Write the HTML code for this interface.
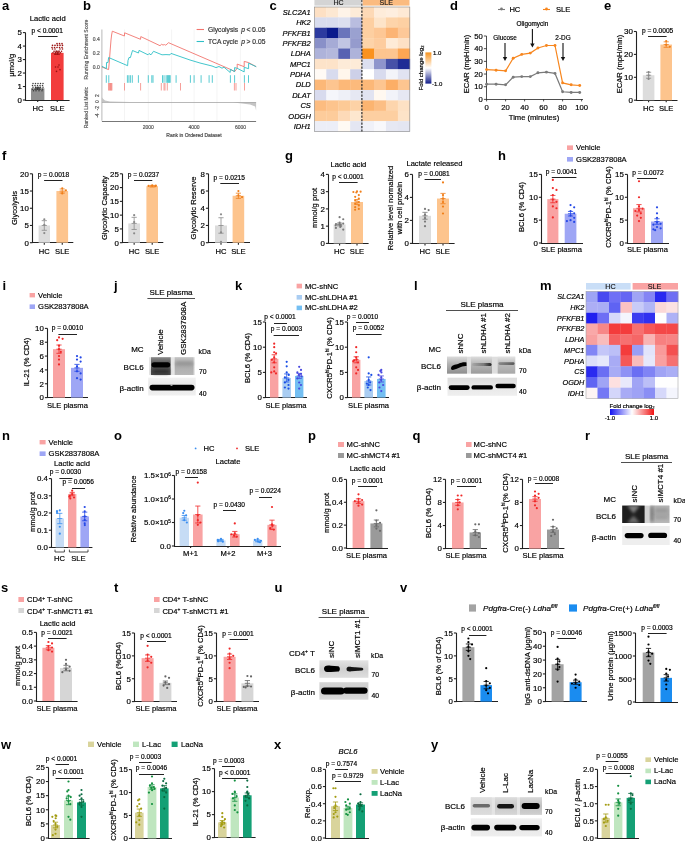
<!DOCTYPE html>
<html><head><meta charset="utf-8"><style>
html,body{margin:0;padding:0;background:#fff;width:685px;height:844px;overflow:hidden}
svg{display:block}
text{font-family:"Liberation Sans",sans-serif;}
svg{will-change:transform}
</style></head><body>
<svg width="685" height="844" viewBox="0 0 685 844">
<rect x="0" y="0" width="685" height="844" fill="#fff"/>
<defs><filter id="bl1" x="-30%" y="-80%" width="160%" height="260%"><feGaussianBlur stdDeviation="0.7"/></filter><filter id="bl2" x="-30%" y="-80%" width="160%" height="260%"><feGaussianBlur stdDeviation="1.5"/></filter><filter id="bl3" x="-30%" y="-80%" width="160%" height="260%"><feGaussianBlur stdDeviation="2.5"/></filter></defs>
<text x="2.00" y="10.00" font-size="13" text-anchor="start" font-weight="bold" >a</text>
<text x="47.70" y="21.00" font-size="7.6" text-anchor="middle" stroke="#000" stroke-width="0.18" >Lactic acid</text>
<line x1="25.50" y1="32.60" x2="25.50" y2="100.00" stroke="#222" stroke-width="1.1" />
<line x1="22.90" y1="100.00" x2="25.50" y2="100.00" stroke="#222" stroke-width="1.1" />
<text x="21.90" y="102.84" font-size="7.9" text-anchor="end" stroke="#000" stroke-width="0.18" >0</text>
<line x1="22.90" y1="86.52" x2="25.50" y2="86.52" stroke="#222" stroke-width="1.1" />
<text x="21.90" y="89.36" font-size="7.9" text-anchor="end" stroke="#000" stroke-width="0.18" >1</text>
<line x1="22.90" y1="73.04" x2="25.50" y2="73.04" stroke="#222" stroke-width="1.1" />
<text x="21.90" y="75.88" font-size="7.9" text-anchor="end" stroke="#000" stroke-width="0.18" >2</text>
<line x1="22.90" y1="59.56" x2="25.50" y2="59.56" stroke="#222" stroke-width="1.1" />
<text x="21.90" y="62.40" font-size="7.9" text-anchor="end" stroke="#000" stroke-width="0.18" >3</text>
<line x1="22.90" y1="46.08" x2="25.50" y2="46.08" stroke="#222" stroke-width="1.1" />
<text x="21.90" y="48.92" font-size="7.9" text-anchor="end" stroke="#000" stroke-width="0.18" >4</text>
<line x1="22.90" y1="32.60" x2="25.50" y2="32.60" stroke="#222" stroke-width="1.1" />
<text x="21.90" y="35.44" font-size="7.9" text-anchor="end" stroke="#000" stroke-width="0.18" >5</text>
<line x1="24.95" y1="100.50" x2="69.60" y2="100.50" stroke="#222" stroke-width="1.1" />
<line x1="37.70" y1="100.00" x2="37.70" y2="102.00" stroke="#222" stroke-width="1.1" />
<line x1="57.30" y1="100.00" x2="57.30" y2="102.00" stroke="#222" stroke-width="1.1" />
<rect x="31.00" y="88.27" width="13.40" height="11.73" fill="#8e8e8e" />
<rect x="51.00" y="52.82" width="12.60" height="47.18" fill="#f23c3c" />
<circle cx="33.00" cy="83.55" r="0.75" fill="#3a3a3a"/>
<circle cx="35.50" cy="83.55" r="0.75" fill="#3a3a3a"/>
<circle cx="38.00" cy="83.55" r="0.75" fill="#3a3a3a"/>
<circle cx="40.50" cy="83.55" r="0.75" fill="#3a3a3a"/>
<circle cx="43.00" cy="83.55" r="0.75" fill="#3a3a3a"/>
<circle cx="32.50" cy="85.44" r="0.75" fill="#3a3a3a"/>
<circle cx="35.00" cy="85.44" r="0.75" fill="#3a3a3a"/>
<circle cx="37.50" cy="85.44" r="0.75" fill="#3a3a3a"/>
<circle cx="40.00" cy="85.44" r="0.75" fill="#3a3a3a"/>
<circle cx="42.50" cy="85.44" r="0.75" fill="#3a3a3a"/>
<circle cx="33.00" cy="87.19" r="0.75" fill="#3a3a3a"/>
<circle cx="35.50" cy="87.19" r="0.75" fill="#3a3a3a"/>
<circle cx="38.00" cy="87.19" r="0.75" fill="#3a3a3a"/>
<circle cx="40.50" cy="87.19" r="0.75" fill="#3a3a3a"/>
<circle cx="43.00" cy="87.19" r="0.75" fill="#3a3a3a"/>
<circle cx="32.50" cy="89.22" r="0.75" fill="#3a3a3a"/>
<circle cx="35.00" cy="89.22" r="0.75" fill="#3a3a3a"/>
<circle cx="37.50" cy="89.22" r="0.75" fill="#3a3a3a"/>
<circle cx="40.00" cy="89.22" r="0.75" fill="#3a3a3a"/>
<circle cx="42.50" cy="89.22" r="0.75" fill="#3a3a3a"/>
<circle cx="33.50" cy="90.83" r="0.75" fill="#3a3a3a"/>
<circle cx="36.00" cy="90.83" r="0.75" fill="#3a3a3a"/>
<circle cx="39.00" cy="90.83" r="0.75" fill="#3a3a3a"/>
<circle cx="42.00" cy="90.83" r="0.75" fill="#3a3a3a"/>
<circle cx="57.00" cy="43.65" r="0.8" fill="#9a1010"/>
<circle cx="59.50" cy="43.65" r="0.8" fill="#9a1010"/>
<circle cx="62.00" cy="43.65" r="0.8" fill="#9a1010"/>
<circle cx="52.50" cy="45.41" r="0.8" fill="#9a1010"/>
<circle cx="55.00" cy="45.41" r="0.8" fill="#9a1010"/>
<circle cx="57.50" cy="45.41" r="0.8" fill="#9a1010"/>
<circle cx="60.00" cy="45.41" r="0.8" fill="#9a1010"/>
<circle cx="62.50" cy="45.41" r="0.8" fill="#9a1010"/>
<circle cx="52.00" cy="47.43" r="0.8" fill="#9a1010"/>
<circle cx="54.50" cy="47.43" r="0.8" fill="#9a1010"/>
<circle cx="57.00" cy="47.43" r="0.8" fill="#9a1010"/>
<circle cx="59.50" cy="47.43" r="0.8" fill="#9a1010"/>
<circle cx="62.00" cy="47.43" r="0.8" fill="#9a1010"/>
<circle cx="52.50" cy="49.05" r="0.8" fill="#9a1010"/>
<circle cx="55.00" cy="49.05" r="0.8" fill="#9a1010"/>
<circle cx="60.00" cy="49.05" r="0.8" fill="#9a1010"/>
<circle cx="62.50" cy="49.05" r="0.8" fill="#9a1010"/>
<circle cx="54.00" cy="51.20" r="0.8" fill="#9a1010"/>
<circle cx="56.50" cy="51.20" r="0.8" fill="#9a1010"/>
<circle cx="59.00" cy="51.20" r="0.8" fill="#9a1010"/>
<circle cx="61.50" cy="51.20" r="0.8" fill="#9a1010"/>
<circle cx="53.00" cy="52.82" r="0.8" fill="#9a1010"/>
<circle cx="55.50" cy="52.82" r="0.8" fill="#9a1010"/>
<circle cx="58.00" cy="52.82" r="0.8" fill="#9a1010"/>
<circle cx="60.50" cy="52.82" r="0.8" fill="#9a1010"/>
<circle cx="55.00" cy="54.17" r="0.8" fill="#9a1010"/>
<circle cx="57.50" cy="54.17" r="0.8" fill="#9a1010"/>
<circle cx="59.00" cy="64.95" r="0.8" fill="#9a1010"/>
<circle cx="55.50" cy="66.97" r="0.8" fill="#9a1010"/>
<circle cx="58.00" cy="66.97" r="0.8" fill="#9a1010"/>
<circle cx="60.00" cy="69.67" r="0.8" fill="#9a1010"/>
<circle cx="56.50" cy="71.42" r="0.8" fill="#9a1010"/>
<line x1="37.70" y1="87.33" x2="37.70" y2="89.22" stroke="#333" stroke-width="0.8" />
<line x1="35.10" y1="87.33" x2="40.30" y2="87.33" stroke="#333" stroke-width="0.8" />
<line x1="35.10" y1="89.22" x2="40.30" y2="89.22" stroke="#333" stroke-width="0.8" />
<line x1="35.10" y1="88.27" x2="40.30" y2="88.27" stroke="#333" stroke-width="0.8" />
<line x1="57.30" y1="51.20" x2="57.30" y2="54.44" stroke="#9a1010" stroke-width="0.8" />
<line x1="54.70" y1="51.20" x2="59.90" y2="51.20" stroke="#9a1010" stroke-width="0.8" />
<line x1="54.70" y1="54.44" x2="59.90" y2="54.44" stroke="#9a1010" stroke-width="0.8" />
<line x1="54.70" y1="52.82" x2="59.90" y2="52.82" stroke="#9a1010" stroke-width="0.8" />
<line x1="38.00" y1="36.50" x2="57.60" y2="36.50" stroke="#222" stroke-width="1.05" />
<text x="47.20" y="33.00" font-size="6.6" text-anchor="middle" stroke="#000" stroke-width="0.18" >p &lt; 0.0001</text>
<text x="38.00" y="111.00" font-size="7.6" text-anchor="middle" stroke="#000" stroke-width="0.18" >HC</text>
<text x="57.30" y="111.00" font-size="7.6" text-anchor="middle" stroke="#000" stroke-width="0.18" >SLE</text>
<text transform="translate(13.64,65.20) rotate(-90)" font-size="7.6" text-anchor="middle" stroke="#000" stroke-width="0.18" >μmol/g</text>
<text x="83.00" y="10.00" font-size="13" text-anchor="start" font-weight="bold" >b</text>
<line x1="124.50" y1="29.50" x2="124.50" y2="120.70" stroke="#ececec" stroke-width="0.6" />
<line x1="148.30" y1="29.50" x2="148.30" y2="120.70" stroke="#ececec" stroke-width="0.6" />
<line x1="171.60" y1="29.50" x2="171.60" y2="120.70" stroke="#ececec" stroke-width="0.6" />
<line x1="194.10" y1="29.50" x2="194.10" y2="120.70" stroke="#ececec" stroke-width="0.6" />
<line x1="217.00" y1="29.50" x2="217.00" y2="120.70" stroke="#ececec" stroke-width="0.6" />
<line x1="240.40" y1="29.50" x2="240.40" y2="120.70" stroke="#ececec" stroke-width="0.6" />
<line x1="101.90" y1="29.50" x2="101.90" y2="120.70" stroke="#9a9a9a" stroke-width="0.7" />
<line x1="101.90" y1="121.50" x2="256.10" y2="121.50" stroke="#777" stroke-width="1.0" />
<text x="99.70" y="41.20" font-size="5.0" text-anchor="end" stroke="#555" stroke-width="0.18" fill="#555" >0.4</text>
<text x="99.70" y="55.10" font-size="5.0" text-anchor="end" stroke="#555" stroke-width="0.18" fill="#555" >0.2</text>
<text x="99.70" y="68.80" font-size="5.0" text-anchor="end" stroke="#555" stroke-width="0.18" fill="#555" >0.0</text>
<text transform="translate(98.60,95.60) rotate(-90)" font-size="5.0" text-anchor="middle" stroke="#555" stroke-width="0.18" fill="#555" >2</text>
<text transform="translate(98.60,101.50) rotate(-90)" font-size="5.0" text-anchor="middle" stroke="#555" stroke-width="0.18" fill="#555" >0</text>
<text transform="translate(98.60,108.30) rotate(-90)" font-size="5.0" text-anchor="middle" stroke="#555" stroke-width="0.18" fill="#555" >-2</text>
<text transform="translate(98.60,115.60) rotate(-90)" font-size="5.0" text-anchor="middle" stroke="#555" stroke-width="0.18" fill="#555" >-4</text>
<text transform="translate(87.60,49.50) rotate(-90)" font-size="5.0" text-anchor="middle" stroke="#555" stroke-width="0.18" fill="#555" >Running Enrichment Score</text>
<text transform="translate(87.60,107.60) rotate(-90)" font-size="5.0" text-anchor="middle" stroke="#555" stroke-width="0.18" fill="#555" >Ranked List Metric</text>
<text x="148.30" y="128.80" font-size="5.0" text-anchor="middle" stroke="#555" stroke-width="0.18" fill="#555" >2000</text>
<text x="194.10" y="128.80" font-size="5.0" text-anchor="middle" stroke="#555" stroke-width="0.18" fill="#555" >4000</text>
<text x="240.60" y="128.80" font-size="5.0" text-anchor="middle" stroke="#555" stroke-width="0.18" fill="#555" >6000</text>
<text x="194.00" y="137.40" font-size="5.0" text-anchor="middle" stroke="#444" stroke-width="0.18" fill="#444" >Rank in Ordered Dataset</text>
<path d="M101.9,102.3 L101.9,97.3 L103,98.8 L105,100.6 L110,101.6 L130,102.1 L233,102.3 L256.1,102.3 L256.1,110.5 L255.2,106.5 L250,104.6 L240,103.2 L233,102.6 Z" stroke="none" fill="#c4c4c4" stroke-width="0.8" />
<line x1="101.90" y1="102.50" x2="256.10" y2="102.50" stroke="#a0a0a0" stroke-width="0.7" />
<path d="M101.9,67.0 L108.6,69.6 L109.3,62.0 L110.2,50.0 L111.0,40.0 L111.6,35.0 L112.3,31.2 L124.4,36.0 L124.6,32.8 L140.5,39.3 L140.8,36.6 L160.0,45.7 L161.5,44.3 L163.0,45.0 L164.5,44.6 L165.8,45.2 L168.5,42.7 L230.2,69.3 L234.6,71.6 L237.2,68.3 L237.2,64.1 L244.2,66.7 L244.2,61.4 L248.6,62.6 L256.2,66.7" stroke="#f2756e" fill="none" stroke-width="0.9" />
<path d="M101.9,66.3 L106.4,68.6 L106.5,62.5 L108.0,62.6 L108.6,57.5 L127.6,65.7 L128.0,60.5 L129.0,57.5 L130.4,57.6 L131.0,55.5 L132.5,50.5 L138.5,53.0 L139.0,50.4 L148.0,54.8 L149.0,53.5 L151.0,54.8 L153.5,51.3 L162.0,54.8 L166.0,54.6 L170.0,54.8 L171.0,53.4 L190.0,60.0 L200.0,63.0 L212.0,66.0 L216.0,67.6 L219.0,66.5 L222.0,68.2 L224.0,67.2 L230.2,72.5 L230.4,69.3 L234.6,71.6 L234.6,67.6 L237.2,68.3 L244.2,71.9 L244.2,67.3 L248.6,68.7 L248.6,63.2 L256.2,66.7" stroke="#2ebfc6" fill="none" stroke-width="0.9" />
<line x1="106.30" y1="75.20" x2="106.30" y2="82.80" stroke="#2ebfc6" stroke-width="0.8" />
<line x1="108.80" y1="75.20" x2="108.80" y2="82.80" stroke="#2ebfc6" stroke-width="0.8" />
<line x1="127.40" y1="75.20" x2="127.40" y2="82.80" stroke="#2ebfc6" stroke-width="0.8" />
<line x1="128.90" y1="75.20" x2="128.90" y2="82.80" stroke="#2ebfc6" stroke-width="0.8" />
<line x1="130.40" y1="75.20" x2="130.40" y2="82.80" stroke="#2ebfc6" stroke-width="0.8" />
<line x1="132.30" y1="75.20" x2="132.30" y2="82.80" stroke="#2ebfc6" stroke-width="0.8" />
<line x1="138.40" y1="75.20" x2="138.40" y2="82.80" stroke="#2ebfc6" stroke-width="0.8" />
<line x1="148.30" y1="75.20" x2="148.30" y2="82.80" stroke="#2ebfc6" stroke-width="0.8" />
<line x1="151.80" y1="75.20" x2="151.80" y2="82.80" stroke="#2ebfc6" stroke-width="0.8" />
<line x1="153.00" y1="75.20" x2="153.00" y2="82.80" stroke="#2ebfc6" stroke-width="0.8" />
<line x1="162.50" y1="75.20" x2="162.50" y2="82.80" stroke="#2ebfc6" stroke-width="0.8" />
<line x1="164.00" y1="75.20" x2="164.00" y2="82.80" stroke="#2ebfc6" stroke-width="0.8" />
<line x1="166.10" y1="75.20" x2="166.10" y2="82.80" stroke="#2ebfc6" stroke-width="0.8" />
<line x1="167.30" y1="75.20" x2="167.30" y2="82.80" stroke="#2ebfc6" stroke-width="0.8" />
<line x1="168.00" y1="75.20" x2="168.00" y2="82.80" stroke="#2ebfc6" stroke-width="0.8" />
<line x1="168.80" y1="75.20" x2="168.80" y2="82.80" stroke="#2ebfc6" stroke-width="0.8" />
<line x1="169.30" y1="75.20" x2="169.30" y2="82.80" stroke="#2ebfc6" stroke-width="0.8" />
<line x1="170.20" y1="75.20" x2="170.20" y2="82.80" stroke="#2ebfc6" stroke-width="0.8" />
<line x1="176.10" y1="75.20" x2="176.10" y2="82.80" stroke="#2ebfc6" stroke-width="0.8" />
<line x1="190.40" y1="75.20" x2="190.40" y2="82.80" stroke="#2ebfc6" stroke-width="0.8" />
<line x1="194.10" y1="75.20" x2="194.10" y2="82.80" stroke="#2ebfc6" stroke-width="0.8" />
<line x1="201.10" y1="75.20" x2="201.10" y2="82.80" stroke="#2ebfc6" stroke-width="0.8" />
<line x1="209.10" y1="75.20" x2="209.10" y2="82.80" stroke="#2ebfc6" stroke-width="0.8" />
<line x1="212.30" y1="75.20" x2="212.30" y2="82.80" stroke="#2ebfc6" stroke-width="0.8" />
<line x1="230.40" y1="75.20" x2="230.40" y2="82.80" stroke="#2ebfc6" stroke-width="0.8" />
<line x1="234.60" y1="75.20" x2="234.60" y2="82.80" stroke="#2ebfc6" stroke-width="0.8" />
<line x1="244.40" y1="75.20" x2="244.40" y2="82.80" stroke="#2ebfc6" stroke-width="0.8" />
<line x1="248.50" y1="75.20" x2="248.50" y2="82.80" stroke="#2ebfc6" stroke-width="0.8" />
<line x1="108.60" y1="83.00" x2="108.60" y2="90.50" stroke="#f2756e" stroke-width="0.7" />
<line x1="109.30" y1="83.00" x2="109.30" y2="90.50" stroke="#f2756e" stroke-width="0.7" />
<line x1="110.00" y1="83.00" x2="110.00" y2="90.50" stroke="#f2756e" stroke-width="0.7" />
<line x1="110.60" y1="83.00" x2="110.60" y2="90.50" stroke="#f2756e" stroke-width="0.7" />
<line x1="111.30" y1="83.00" x2="111.30" y2="90.50" stroke="#f2756e" stroke-width="0.7" />
<line x1="111.90" y1="83.00" x2="111.90" y2="90.50" stroke="#f2756e" stroke-width="0.7" />
<line x1="124.50" y1="83.00" x2="124.50" y2="90.50" stroke="#f2756e" stroke-width="0.7" />
<line x1="140.60" y1="83.00" x2="140.60" y2="90.50" stroke="#f2756e" stroke-width="0.7" />
<line x1="161.30" y1="83.00" x2="161.30" y2="90.50" stroke="#f2756e" stroke-width="0.7" />
<line x1="164.00" y1="83.00" x2="164.00" y2="90.50" stroke="#f2756e" stroke-width="0.7" />
<line x1="165.00" y1="83.00" x2="165.00" y2="90.50" stroke="#f2756e" stroke-width="0.7" />
<line x1="167.30" y1="83.00" x2="167.30" y2="90.50" stroke="#f2756e" stroke-width="0.7" />
<line x1="180.50" y1="83.00" x2="180.50" y2="90.50" stroke="#f2756e" stroke-width="0.7" />
<line x1="234.40" y1="83.00" x2="234.40" y2="90.50" stroke="#f2756e" stroke-width="0.7" />
<line x1="236.00" y1="83.00" x2="236.00" y2="90.50" stroke="#f2756e" stroke-width="0.7" />
<line x1="244.50" y1="83.00" x2="244.50" y2="90.50" stroke="#f2756e" stroke-width="0.7" />
<line x1="196.60" y1="29.50" x2="204.00" y2="29.50" stroke="#f2756e" stroke-width="1.1" />
<text x="208.00" y="32.20" font-size="6.7" text-anchor="start" stroke="#333" stroke-width="0.18" fill="#333" >Glycolysis</text>
<text x="241.20" y="32.20" font-size="6.7" text-anchor="start" stroke="#333" stroke-width="0.18" font-style="italic" fill="#333" >p</text>
<text x="246.60" y="32.20" font-size="6.7" text-anchor="start" stroke="#333" stroke-width="0.18" fill="#333" >&lt; 0.05</text>
<line x1="196.60" y1="41.50" x2="204.00" y2="41.50" stroke="#2ebfc6" stroke-width="1.1" />
<text x="208.00" y="43.60" font-size="6.7" text-anchor="start" stroke="#333" stroke-width="0.18" fill="#333" >TCA cycle</text>
<text x="241.20" y="43.60" font-size="6.7" text-anchor="start" stroke="#333" stroke-width="0.18" font-style="italic" fill="#333" >p</text>
<text x="246.60" y="43.60" font-size="6.7" text-anchor="start" stroke="#333" stroke-width="0.18" fill="#333" >&gt; 0.05</text>
<text x="269.60" y="10.00" font-size="13" text-anchor="start" font-weight="bold" >c</text>
<rect x="314.40" y="7.00" width="12.23" height="10.68" fill="#fde0c4" />
<rect x="326.32" y="7.00" width="12.23" height="10.68" fill="#fde8d2" />
<rect x="338.25" y="7.00" width="12.23" height="10.68" fill="#fef3e8" />
<rect x="350.18" y="7.00" width="12.23" height="10.68" fill="#fdebd8" />
<rect x="362.10" y="7.00" width="12.23" height="10.68" fill="#fdd9b6" />
<rect x="374.02" y="7.00" width="12.23" height="10.68" fill="#feecda" />
<rect x="385.95" y="7.00" width="12.23" height="10.68" fill="#feeedf" />
<rect x="397.88" y="7.00" width="12.23" height="10.68" fill="#fee9d5" />
<text x="310.80" y="14.79" font-size="7.5" text-anchor="end" stroke="#000" stroke-width="0.18" font-style="italic" >SLC2A1</text>
<rect x="314.40" y="17.38" width="12.23" height="10.68" fill="#d8dcee" />
<rect x="326.32" y="17.38" width="12.23" height="10.68" fill="#d8dcee" />
<rect x="338.25" y="17.38" width="12.23" height="10.68" fill="#dcdfef" />
<rect x="350.18" y="17.38" width="12.23" height="10.68" fill="#b9bddf" />
<rect x="362.10" y="17.38" width="12.23" height="10.68" fill="#fdcfa1" />
<rect x="374.02" y="17.38" width="12.23" height="10.68" fill="#fde4c9" />
<rect x="385.95" y="17.38" width="12.23" height="10.68" fill="#fdd4aa" />
<rect x="397.88" y="17.38" width="12.23" height="10.68" fill="#fdd0a3" />
<text x="310.80" y="25.16" font-size="7.5" text-anchor="end" stroke="#000" stroke-width="0.18" font-style="italic" >HK2</text>
<rect x="314.40" y="27.75" width="12.23" height="10.68" fill="#2c3a9f" />
<rect x="326.32" y="27.75" width="12.23" height="10.68" fill="#0a1a8c" />
<rect x="338.25" y="27.75" width="12.23" height="10.68" fill="#6a74bb" />
<rect x="350.18" y="27.75" width="12.23" height="10.68" fill="#9aa1d0" />
<rect x="362.10" y="27.75" width="12.23" height="10.68" fill="#fdcfa1" />
<rect x="374.02" y="27.75" width="12.23" height="10.68" fill="#fdc795" />
<rect x="385.95" y="27.75" width="12.23" height="10.68" fill="#fcb474" />
<rect x="397.88" y="27.75" width="12.23" height="10.68" fill="#fdc898" />
<text x="310.80" y="35.54" font-size="7.5" text-anchor="end" stroke="#000" stroke-width="0.18" font-style="italic" >PFKFB1</text>
<rect x="314.40" y="38.12" width="12.23" height="10.68" fill="#8990c8" />
<rect x="326.32" y="38.12" width="12.23" height="10.68" fill="#a6abd6" />
<rect x="338.25" y="38.12" width="12.23" height="10.68" fill="#c1c5e3" />
<rect x="350.18" y="38.12" width="12.23" height="10.68" fill="#959bcd" />
<rect x="362.10" y="38.12" width="12.23" height="10.68" fill="#fdd3a9" />
<rect x="374.02" y="38.12" width="12.23" height="10.68" fill="#fdcc9e" />
<rect x="385.95" y="38.12" width="12.23" height="10.68" fill="#feebd7" />
<rect x="397.88" y="38.12" width="12.23" height="10.68" fill="#fde1c6" />
<text x="310.80" y="45.91" font-size="7.5" text-anchor="end" stroke="#000" stroke-width="0.18" font-style="italic" >PFKFB2</text>
<rect x="314.40" y="48.50" width="12.23" height="10.68" fill="#aeb3da" />
<rect x="326.32" y="48.50" width="12.23" height="10.68" fill="#b4b8dc" />
<rect x="338.25" y="48.50" width="12.23" height="10.68" fill="#5862b2" />
<rect x="350.18" y="48.50" width="12.23" height="10.68" fill="#aeb3da" />
<rect x="362.10" y="48.50" width="12.23" height="10.68" fill="#fb921e" />
<rect x="374.02" y="48.50" width="12.23" height="10.68" fill="#fdc58f" />
<rect x="385.95" y="48.50" width="12.23" height="10.68" fill="#fdc590" />
<rect x="397.88" y="48.50" width="12.23" height="10.68" fill="#fca654" />
<text x="310.80" y="56.29" font-size="7.5" text-anchor="end" stroke="#000" stroke-width="0.18" font-style="italic" >LDHA</text>
<rect x="314.40" y="58.88" width="12.23" height="10.68" fill="#fde3c9" />
<rect x="326.32" y="58.88" width="12.23" height="10.68" fill="#fde3c9" />
<rect x="338.25" y="58.88" width="12.23" height="10.68" fill="#fdebd8" />
<rect x="350.18" y="58.88" width="12.23" height="10.68" fill="#fdebd8" />
<rect x="362.10" y="58.88" width="12.23" height="10.68" fill="#dcdff0" />
<rect x="374.02" y="58.88" width="12.23" height="10.68" fill="#8e95cc" />
<rect x="385.95" y="58.88" width="12.23" height="10.68" fill="#4651a7" />
<rect x="397.88" y="58.88" width="12.23" height="10.68" fill="#1f2c95" />
<text x="310.80" y="66.66" font-size="7.5" text-anchor="end" stroke="#000" stroke-width="0.18" font-style="italic" >MPC1</text>
<rect x="314.40" y="69.25" width="12.23" height="10.68" fill="#fffaf5" />
<rect x="326.32" y="69.25" width="12.23" height="10.68" fill="#d8dbee" />
<rect x="338.25" y="69.25" width="12.23" height="10.68" fill="#fff6ec" />
<rect x="350.18" y="69.25" width="12.23" height="10.68" fill="#cdd0e8" />
<rect x="362.10" y="69.25" width="12.23" height="10.68" fill="#ffffff" />
<rect x="374.02" y="69.25" width="12.23" height="10.68" fill="#d8dbee" />
<rect x="385.95" y="69.25" width="12.23" height="10.68" fill="#f3f4f9" />
<rect x="397.88" y="69.25" width="12.23" height="10.68" fill="#e1e3f1" />
<text x="310.80" y="77.04" font-size="7.5" text-anchor="end" stroke="#000" stroke-width="0.18" font-style="italic" >PDHA</text>
<rect x="314.40" y="79.62" width="12.23" height="10.68" fill="#fcb878" />
<rect x="326.32" y="79.62" width="12.23" height="10.68" fill="#fdc590" />
<rect x="338.25" y="79.62" width="12.23" height="10.68" fill="#fcb878" />
<rect x="350.18" y="79.62" width="12.23" height="10.68" fill="#fcba7c" />
<rect x="362.10" y="79.62" width="12.23" height="10.68" fill="#fcb878" />
<rect x="374.02" y="79.62" width="12.23" height="10.68" fill="#fdc590" />
<rect x="385.95" y="79.62" width="12.23" height="10.68" fill="#fcae66" />
<rect x="397.88" y="79.62" width="12.23" height="10.68" fill="#fdc590" />
<text x="310.80" y="87.41" font-size="7.5" text-anchor="end" stroke="#000" stroke-width="0.18" font-style="italic" >DLD</text>
<rect x="314.40" y="90.00" width="12.23" height="10.68" fill="#d8dbee" />
<rect x="326.32" y="90.00" width="12.23" height="10.68" fill="#f5f6fb" />
<rect x="338.25" y="90.00" width="12.23" height="10.68" fill="#eef0f7" />
<rect x="350.18" y="90.00" width="12.23" height="10.68" fill="#e6e8f3" />
<rect x="362.10" y="90.00" width="12.23" height="10.68" fill="#e1e3f1" />
<rect x="374.02" y="90.00" width="12.23" height="10.68" fill="#fff8f0" />
<rect x="385.95" y="90.00" width="12.23" height="10.68" fill="#f2f3f9" />
<rect x="397.88" y="90.00" width="12.23" height="10.68" fill="#e6e8f3" />
<text x="310.80" y="97.79" font-size="7.5" text-anchor="end" stroke="#000" stroke-width="0.18" font-style="italic" >DLAT</text>
<rect x="314.40" y="100.38" width="12.23" height="10.68" fill="#fcbc80" />
<rect x="326.32" y="100.38" width="12.23" height="10.68" fill="#fdc48d" />
<rect x="338.25" y="100.38" width="12.23" height="10.68" fill="#fdca96" />
<rect x="350.18" y="100.38" width="12.23" height="10.68" fill="#fdd2a6" />
<rect x="362.10" y="100.38" width="12.23" height="10.68" fill="#fcb470" />
<rect x="374.02" y="100.38" width="12.23" height="10.68" fill="#fcbe84" />
<rect x="385.95" y="100.38" width="12.23" height="10.68" fill="#fdd5ad" />
<rect x="397.88" y="100.38" width="12.23" height="10.68" fill="#fde1c4" />
<text x="310.80" y="108.16" font-size="7.5" text-anchor="end" stroke="#000" stroke-width="0.18" font-style="italic" >CS</text>
<rect x="314.40" y="110.75" width="12.23" height="10.68" fill="#fdcc9b" />
<rect x="326.32" y="110.75" width="12.23" height="10.68" fill="#fdcc9b" />
<rect x="338.25" y="110.75" width="12.23" height="10.68" fill="#fddab8" />
<rect x="350.18" y="110.75" width="12.23" height="10.68" fill="#fde7cf" />
<rect x="362.10" y="110.75" width="12.23" height="10.68" fill="#fdcfa1" />
<rect x="374.02" y="110.75" width="12.23" height="10.68" fill="#fdcfa1" />
<rect x="385.95" y="110.75" width="12.23" height="10.68" fill="#fdcfa1" />
<rect x="397.88" y="110.75" width="12.23" height="10.68" fill="#fde3c8" />
<text x="310.80" y="118.54" font-size="7.5" text-anchor="end" stroke="#000" stroke-width="0.18" font-style="italic" >ODGH</text>
<rect x="314.40" y="121.12" width="12.23" height="10.68" fill="#eceef7" />
<rect x="326.32" y="121.12" width="12.23" height="10.68" fill="#eceef7" />
<rect x="338.25" y="121.12" width="12.23" height="10.68" fill="#fffaf3" />
<rect x="350.18" y="121.12" width="12.23" height="10.68" fill="#e4e6f2" />
<rect x="362.10" y="121.12" width="12.23" height="10.68" fill="#f0f1f8" />
<rect x="374.02" y="121.12" width="12.23" height="10.68" fill="#f8f8fb" />
<rect x="385.95" y="121.12" width="12.23" height="10.68" fill="#e6e8f3" />
<rect x="397.88" y="121.12" width="12.23" height="10.68" fill="#e4e6f2" />
<text x="310.80" y="128.91" font-size="7.5" text-anchor="end" stroke="#000" stroke-width="0.18" font-style="italic" >IDH1</text>
<rect x="314.40" y="7.00" width="95.40" height="124.50" fill="none" stroke="#888" stroke-width="0.6"/>
<line x1="361.90" y1="0.00" x2="361.90" y2="131.50" stroke="#222" stroke-width="1.15" stroke-dasharray="2.2,1.3"/>
<rect x="314.40" y="0.00" width="46.60" height="5.60" fill="#d4d4d4" />
<rect x="362.70" y="0.00" width="46.80" height="5.60" fill="#fbbb80" />
<text x="338.50" y="5.00" font-size="7.0" text-anchor="middle" stroke="#222" stroke-width="0.18" fill="#222" >HC</text>
<text x="386.20" y="5.00" font-size="7.0" text-anchor="middle" stroke="#222" stroke-width="0.18" fill="#222" >SLE</text>
<defs><linearGradient id="gc" x1="0" y1="0" x2="0" y2="1"><stop offset="0" stop-color="#f7931e"/><stop offset="0.5" stop-color="#ffffff"/><stop offset="1" stop-color="#111d8a"/></linearGradient><linearGradient id="gm" x1="0" y1="0" x2="1" y2="0"><stop offset="0" stop-color="#1414f0"/><stop offset="0.5" stop-color="#ffffff"/><stop offset="1" stop-color="#f01414"/></linearGradient></defs>
<rect x="425.40" y="52.40" width="6.00" height="31.20" fill="url(#gc)" />
<text x="433.00" y="55.40" font-size="6.0" text-anchor="start" stroke="#000" stroke-width="0.18" >1.0</text>
<text x="432.00" y="86.00" font-size="6.0" text-anchor="start" stroke="#000" stroke-width="0.18" >-1.0</text>
<text transform="translate(422.60,68.00) rotate(-90)" font-size="6.0" text-anchor="middle" stroke="#000" stroke-width="0.18" >Fold change log<tspan font-size="4.2" dy="1.5">2</tspan></text>
<text x="450.00" y="10.00" font-size="13" text-anchor="start" font-weight="bold" >d</text>
<line x1="498.00" y1="9.50" x2="505.00" y2="9.50" stroke="#7a7a7a" stroke-width="1.1" />
<circle cx="501.50" cy="9.00" r="1.4" fill="#7a7a7a"/>
<text x="509.40" y="11.60" font-size="7.6" text-anchor="start" stroke="#000" stroke-width="0.18" >HC</text>
<line x1="543.00" y1="9.50" x2="550.00" y2="9.50" stroke="#f7861e" stroke-width="1.1" />
<circle cx="546.50" cy="9.00" r="1.4" fill="#f7861e"/>
<text x="556.00" y="11.60" font-size="7.6" text-anchor="start" stroke="#000" stroke-width="0.18" >SLE</text>
<line x1="486.50" y1="36.00" x2="486.50" y2="99.40" stroke="#222" stroke-width="0.8" />
<line x1="483.90" y1="99.40" x2="486.50" y2="99.40" stroke="#222" stroke-width="0.8" />
<text x="482.90" y="102.17" font-size="7.7" text-anchor="end" stroke="#000" stroke-width="0.18" >0</text>
<line x1="483.90" y1="86.72" x2="486.50" y2="86.72" stroke="#222" stroke-width="0.8" />
<text x="482.90" y="89.49" font-size="7.7" text-anchor="end" stroke="#000" stroke-width="0.18" >10</text>
<line x1="483.90" y1="74.04" x2="486.50" y2="74.04" stroke="#222" stroke-width="0.8" />
<text x="482.90" y="76.81" font-size="7.7" text-anchor="end" stroke="#000" stroke-width="0.18" >20</text>
<line x1="483.90" y1="61.36" x2="486.50" y2="61.36" stroke="#222" stroke-width="0.8" />
<text x="482.90" y="64.13" font-size="7.7" text-anchor="end" stroke="#000" stroke-width="0.18" >30</text>
<line x1="483.90" y1="48.68" x2="486.50" y2="48.68" stroke="#222" stroke-width="0.8" />
<text x="482.90" y="51.45" font-size="7.7" text-anchor="end" stroke="#000" stroke-width="0.18" >40</text>
<line x1="483.90" y1="36.00" x2="486.50" y2="36.00" stroke="#222" stroke-width="0.8" />
<text x="482.90" y="38.77" font-size="7.7" text-anchor="end" stroke="#000" stroke-width="0.18" >50</text>
<line x1="486.10" y1="99.50" x2="583.00" y2="99.50" stroke="#222" stroke-width="0.8" />
<line x1="486.60" y1="99.40" x2="486.60" y2="101.40" stroke="#222" stroke-width="0.8" />
<text x="486.60" y="109.80" font-size="7.7" text-anchor="middle" stroke="#000" stroke-width="0.18" >0</text>
<line x1="505.60" y1="99.40" x2="505.60" y2="101.40" stroke="#222" stroke-width="0.8" />
<text x="505.60" y="109.80" font-size="7.7" text-anchor="middle" stroke="#000" stroke-width="0.18" >20</text>
<line x1="524.60" y1="99.40" x2="524.60" y2="101.40" stroke="#222" stroke-width="0.8" />
<text x="524.60" y="109.80" font-size="7.7" text-anchor="middle" stroke="#000" stroke-width="0.18" >40</text>
<line x1="543.60" y1="99.40" x2="543.60" y2="101.40" stroke="#222" stroke-width="0.8" />
<text x="543.60" y="109.80" font-size="7.7" text-anchor="middle" stroke="#000" stroke-width="0.18" >60</text>
<line x1="562.60" y1="99.40" x2="562.60" y2="101.40" stroke="#222" stroke-width="0.8" />
<text x="562.60" y="109.80" font-size="7.7" text-anchor="middle" stroke="#000" stroke-width="0.18" >80</text>
<line x1="581.60" y1="99.40" x2="581.60" y2="101.40" stroke="#222" stroke-width="0.8" />
<text x="581.60" y="109.80" font-size="7.7" text-anchor="middle" stroke="#000" stroke-width="0.18" >100</text>
<text x="534.00" y="119.60" font-size="7.6" text-anchor="middle" stroke="#000" stroke-width="0.18" >Time (minutes)</text>
<text transform="translate(468.74,64.00) rotate(-90)" font-size="7.6" text-anchor="middle" stroke="#000" stroke-width="0.18" >ECAR (mpH/min)</text>
<path d="M486.6,84.2 L496.1,84.2 L505.6,84.8 L513.2,77.2 L521.8,76.6 L530.3,76.6 L537.9,72.8 L546.5,72.1 L555.0,73.4 L562.6,91.8 L571.1,92.4 L579.7,92.4" stroke="#7a7a7a" fill="none" stroke-width="1.2" />
<circle cx="486.60" cy="84.18" r="1.45" fill="#7a7a7a"/>
<circle cx="496.10" cy="84.18" r="1.45" fill="#7a7a7a"/>
<circle cx="505.60" cy="84.82" r="1.45" fill="#7a7a7a"/>
<circle cx="513.20" cy="77.21" r="1.45" fill="#7a7a7a"/>
<circle cx="521.75" cy="76.58" r="1.45" fill="#7a7a7a"/>
<circle cx="530.30" cy="76.58" r="1.45" fill="#7a7a7a"/>
<circle cx="537.90" cy="72.77" r="1.45" fill="#7a7a7a"/>
<circle cx="546.45" cy="72.14" r="1.45" fill="#7a7a7a"/>
<circle cx="555.00" cy="73.41" r="1.45" fill="#7a7a7a"/>
<circle cx="562.60" cy="91.79" r="1.45" fill="#7a7a7a"/>
<circle cx="571.15" cy="92.43" r="1.45" fill="#7a7a7a"/>
<circle cx="579.70" cy="92.43" r="1.45" fill="#7a7a7a"/>
<path d="M486.6,69.6 L496.1,70.2 L505.6,70.9 L513.2,58.2 L521.8,54.4 L530.3,53.1 L537.9,48.0 L546.5,45.5 L555.0,45.5 L562.6,82.9 L571.1,84.8 L579.7,85.5" stroke="#f7861e" fill="none" stroke-width="1.2" />
<circle cx="486.60" cy="69.60" r="1.45" fill="#f7861e"/>
<circle cx="496.10" cy="70.24" r="1.45" fill="#f7861e"/>
<circle cx="505.60" cy="70.87" r="1.45" fill="#f7861e"/>
<circle cx="513.20" cy="58.19" r="1.45" fill="#f7861e"/>
<circle cx="521.75" cy="54.39" r="1.45" fill="#f7861e"/>
<circle cx="530.30" cy="53.12" r="1.45" fill="#f7861e"/>
<circle cx="537.90" cy="48.05" r="1.45" fill="#f7861e"/>
<circle cx="546.45" cy="45.51" r="1.45" fill="#f7861e"/>
<circle cx="555.00" cy="45.51" r="1.45" fill="#f7861e"/>
<circle cx="562.60" cy="82.92" r="1.45" fill="#f7861e"/>
<circle cx="571.15" cy="84.82" r="1.45" fill="#f7861e"/>
<circle cx="579.70" cy="85.45" r="1.45" fill="#f7861e"/>
<text x="505.00" y="40.00" font-size="6.4" text-anchor="middle" stroke="#000" stroke-width="0.18" >Glucose</text>
<line x1="505.00" y1="43.00" x2="505.00" y2="58.00" stroke="#111" stroke-width="1.1" />
<path d="M502.8,57 L507.2,57 L505,61 Z" stroke="none" fill="#111" stroke-width="0.8" />
<text x="532.40" y="26.00" font-size="6.4" text-anchor="middle" stroke="#000" stroke-width="0.18" >Oligomycin</text>
<line x1="532.40" y1="29.00" x2="532.40" y2="44.60" stroke="#111" stroke-width="1.1" />
<path d="M530.1999999999999,43.6 L534.6,43.6 L532.4,47.6 Z" stroke="none" fill="#111" stroke-width="0.8" />
<text x="563.00" y="40.00" font-size="6.4" text-anchor="middle" stroke="#000" stroke-width="0.18" >2-DG</text>
<line x1="563.00" y1="43.00" x2="563.00" y2="58.00" stroke="#111" stroke-width="1.1" />
<path d="M560.8,57 L565.2,57 L563,61 Z" stroke="none" fill="#111" stroke-width="0.8" />
<text x="604.00" y="10.00" font-size="13" text-anchor="start" font-weight="bold" >e</text>
<line x1="636.50" y1="31.50" x2="636.50" y2="100.20" stroke="#222" stroke-width="1.1" />
<line x1="633.90" y1="100.20" x2="636.50" y2="100.20" stroke="#222" stroke-width="1.1" />
<text x="632.90" y="103.08" font-size="8.0" text-anchor="end" stroke="#000" stroke-width="0.18" >0</text>
<line x1="633.90" y1="77.30" x2="636.50" y2="77.30" stroke="#222" stroke-width="1.1" />
<text x="632.90" y="80.18" font-size="8.0" text-anchor="end" stroke="#000" stroke-width="0.18" >10</text>
<line x1="633.90" y1="54.40" x2="636.50" y2="54.40" stroke="#222" stroke-width="1.1" />
<text x="632.90" y="57.28" font-size="8.0" text-anchor="end" stroke="#000" stroke-width="0.18" >20</text>
<line x1="633.90" y1="31.50" x2="636.50" y2="31.50" stroke="#222" stroke-width="1.1" />
<text x="632.90" y="34.38" font-size="8.0" text-anchor="end" stroke="#000" stroke-width="0.18" >30</text>
<line x1="635.95" y1="100.50" x2="677.50" y2="100.50" stroke="#222" stroke-width="1.1" />
<line x1="648.60" y1="100.20" x2="648.60" y2="102.20" stroke="#222" stroke-width="1.1" />
<line x1="666.20" y1="100.20" x2="666.20" y2="102.20" stroke="#222" stroke-width="1.1" />
<rect x="642.80" y="75.24" width="11.60" height="24.96" fill="#dcdcdc" />
<circle cx="648.60" cy="72.03" r="1.1" fill="#8a8a8a"/>
<circle cx="648.60" cy="75.47" r="1.1" fill="#8a8a8a"/>
<circle cx="648.60" cy="78.90" r="1.1" fill="#8a8a8a"/>
<line x1="648.60" y1="72.26" x2="648.60" y2="78.22" stroke="#8a8a8a" stroke-width="0.8" />
<line x1="646.00" y1="72.26" x2="651.20" y2="72.26" stroke="#8a8a8a" stroke-width="0.8" />
<line x1="646.00" y1="78.22" x2="651.20" y2="78.22" stroke="#8a8a8a" stroke-width="0.8" />
<line x1="646.00" y1="75.24" x2="651.20" y2="75.24" stroke="#8a8a8a" stroke-width="0.8" />
<rect x="660.40" y="44.55" width="11.60" height="55.65" fill="#fdc48d" />
<circle cx="666.20" cy="41.12" r="1.1" fill="#f07f1a"/>
<circle cx="666.20" cy="44.78" r="1.1" fill="#f07f1a"/>
<circle cx="669.83" cy="46.84" r="1.1" fill="#f07f1a"/>
<line x1="666.20" y1="41.80" x2="666.20" y2="47.30" stroke="#f07f1a" stroke-width="0.8" />
<line x1="663.60" y1="41.80" x2="668.80" y2="41.80" stroke="#f07f1a" stroke-width="0.8" />
<line x1="663.60" y1="47.30" x2="668.80" y2="47.30" stroke="#f07f1a" stroke-width="0.8" />
<line x1="663.60" y1="44.55" x2="668.80" y2="44.55" stroke="#f07f1a" stroke-width="0.8" />
<line x1="648.00" y1="36.50" x2="666.60" y2="36.50" stroke="#222" stroke-width="1.05" />
<text x="657.60" y="32.60" font-size="6.6" text-anchor="middle" stroke="#000" stroke-width="0.18" >p = 0.0005</text>
<text x="648.40" y="111.40" font-size="7.6" text-anchor="middle" stroke="#000" stroke-width="0.18" >HC</text>
<text x="666.20" y="111.40" font-size="7.6" text-anchor="middle" stroke="#000" stroke-width="0.18" >SLE</text>
<text transform="translate(621.74,64.00) rotate(-90)" font-size="7.6" text-anchor="middle" stroke="#000" stroke-width="0.18" >ECAR (mpH/min)</text>
<text x="2.00" y="160.00" font-size="13" text-anchor="start" font-weight="bold" >f</text>
<line x1="32.50" y1="173.80" x2="32.50" y2="242.70" stroke="#222" stroke-width="1.1" />
<line x1="29.90" y1="242.70" x2="32.50" y2="242.70" stroke="#222" stroke-width="1.1" />
<text x="28.90" y="245.54" font-size="7.9" text-anchor="end" stroke="#000" stroke-width="0.18" >0</text>
<line x1="29.90" y1="225.47" x2="32.50" y2="225.47" stroke="#222" stroke-width="1.1" />
<text x="28.90" y="228.32" font-size="7.9" text-anchor="end" stroke="#000" stroke-width="0.18" >5</text>
<line x1="29.90" y1="208.25" x2="32.50" y2="208.25" stroke="#222" stroke-width="1.1" />
<text x="28.90" y="211.09" font-size="7.9" text-anchor="end" stroke="#000" stroke-width="0.18" >10</text>
<line x1="29.90" y1="191.03" x2="32.50" y2="191.03" stroke="#222" stroke-width="1.1" />
<text x="28.90" y="193.87" font-size="7.9" text-anchor="end" stroke="#000" stroke-width="0.18" >15</text>
<line x1="29.90" y1="173.80" x2="32.50" y2="173.80" stroke="#222" stroke-width="1.1" />
<text x="28.90" y="176.64" font-size="7.9" text-anchor="end" stroke="#000" stroke-width="0.18" >20</text>
<line x1="31.95" y1="242.50" x2="73.30" y2="242.50" stroke="#222" stroke-width="1.1" />
<line x1="44.30" y1="242.70" x2="44.30" y2="244.70" stroke="#222" stroke-width="1.1" />
<line x1="62.25" y1="242.70" x2="62.25" y2="244.70" stroke="#222" stroke-width="1.1" />
<rect x="38.60" y="225.47" width="11.40" height="17.22" fill="#dcdcdc" />
<circle cx="44.30" cy="219.27" r="1.1" fill="#8a8a8a"/>
<circle cx="44.30" cy="224.79" r="1.1" fill="#8a8a8a"/>
<circle cx="44.30" cy="233.05" r="1.1" fill="#8a8a8a"/>
<line x1="44.30" y1="220.65" x2="44.30" y2="230.30" stroke="#8a8a8a" stroke-width="0.8" />
<line x1="41.70" y1="220.65" x2="46.90" y2="220.65" stroke="#8a8a8a" stroke-width="0.8" />
<line x1="41.70" y1="230.30" x2="46.90" y2="230.30" stroke="#8a8a8a" stroke-width="0.8" />
<line x1="41.70" y1="225.47" x2="46.90" y2="225.47" stroke="#8a8a8a" stroke-width="0.8" />
<rect x="56.40" y="191.03" width="11.70" height="51.67" fill="#fdc48d" />
<circle cx="62.25" cy="188.27" r="1.1" fill="#f07f1a"/>
<circle cx="65.88" cy="190.34" r="1.1" fill="#f07f1a"/>
<circle cx="62.25" cy="193.44" r="1.1" fill="#f07f1a"/>
<line x1="62.25" y1="188.96" x2="62.25" y2="193.09" stroke="#f07f1a" stroke-width="0.8" />
<line x1="59.65" y1="188.96" x2="64.85" y2="188.96" stroke="#f07f1a" stroke-width="0.8" />
<line x1="59.65" y1="193.09" x2="64.85" y2="193.09" stroke="#f07f1a" stroke-width="0.8" />
<line x1="59.65" y1="191.03" x2="64.85" y2="191.03" stroke="#f07f1a" stroke-width="0.8" />
<line x1="44.10" y1="180.50" x2="62.50" y2="180.50" stroke="#222" stroke-width="1.05" />
<text x="53.50" y="176.70" font-size="6.6" text-anchor="middle" stroke="#000" stroke-width="0.18" >p = 0.0018</text>
<text x="44.30" y="254.00" font-size="7.6" text-anchor="middle" stroke="#000" stroke-width="0.18" >HC</text>
<text x="62.25" y="254.00" font-size="7.6" text-anchor="middle" stroke="#000" stroke-width="0.18" >SLE</text>
<text transform="translate(16.74,208.00) rotate(-90)" font-size="7.6" text-anchor="middle" stroke="#000" stroke-width="0.18" >Glycolysis</text>
<line x1="122.50" y1="173.80" x2="122.50" y2="242.70" stroke="#222" stroke-width="1.1" />
<line x1="119.90" y1="242.70" x2="122.50" y2="242.70" stroke="#222" stroke-width="1.1" />
<text x="118.90" y="245.54" font-size="7.9" text-anchor="end" stroke="#000" stroke-width="0.18" >0</text>
<line x1="119.90" y1="228.92" x2="122.50" y2="228.92" stroke="#222" stroke-width="1.1" />
<text x="118.90" y="231.76" font-size="7.9" text-anchor="end" stroke="#000" stroke-width="0.18" >5</text>
<line x1="119.90" y1="215.14" x2="122.50" y2="215.14" stroke="#222" stroke-width="1.1" />
<text x="118.90" y="217.98" font-size="7.9" text-anchor="end" stroke="#000" stroke-width="0.18" >10</text>
<line x1="119.90" y1="201.36" x2="122.50" y2="201.36" stroke="#222" stroke-width="1.1" />
<text x="118.90" y="204.20" font-size="7.9" text-anchor="end" stroke="#000" stroke-width="0.18" >15</text>
<line x1="119.90" y1="187.58" x2="122.50" y2="187.58" stroke="#222" stroke-width="1.1" />
<text x="118.90" y="190.42" font-size="7.9" text-anchor="end" stroke="#000" stroke-width="0.18" >20</text>
<line x1="119.90" y1="173.80" x2="122.50" y2="173.80" stroke="#222" stroke-width="1.1" />
<text x="118.90" y="176.64" font-size="7.9" text-anchor="end" stroke="#000" stroke-width="0.18" >25</text>
<line x1="121.95" y1="242.50" x2="163.30" y2="242.50" stroke="#222" stroke-width="1.1" />
<line x1="134.15" y1="242.70" x2="134.15" y2="244.70" stroke="#222" stroke-width="1.1" />
<line x1="152.20" y1="242.70" x2="152.20" y2="244.70" stroke="#222" stroke-width="1.1" />
<rect x="128.30" y="223.41" width="11.70" height="19.29" fill="#dcdcdc" />
<circle cx="134.15" cy="215.14" r="1.1" fill="#8a8a8a"/>
<circle cx="134.15" cy="222.03" r="1.1" fill="#8a8a8a"/>
<circle cx="134.15" cy="233.33" r="1.1" fill="#8a8a8a"/>
<line x1="134.15" y1="217.34" x2="134.15" y2="229.47" stroke="#8a8a8a" stroke-width="0.8" />
<line x1="131.55" y1="217.34" x2="136.75" y2="217.34" stroke="#8a8a8a" stroke-width="0.8" />
<line x1="131.55" y1="229.47" x2="136.75" y2="229.47" stroke="#8a8a8a" stroke-width="0.8" />
<line x1="131.55" y1="223.41" x2="136.75" y2="223.41" stroke="#8a8a8a" stroke-width="0.8" />
<rect x="146.40" y="186.20" width="11.60" height="56.50" fill="#fdc48d" />
<circle cx="152.20" cy="185.38" r="1.1" fill="#f07f1a"/>
<circle cx="155.83" cy="185.65" r="1.1" fill="#f07f1a"/>
<circle cx="148.57" cy="185.93" r="1.1" fill="#f07f1a"/>
<circle cx="155.41" cy="186.20" r="1.1" fill="#f07f1a"/>
<line x1="152.20" y1="185.38" x2="152.20" y2="187.03" stroke="#f07f1a" stroke-width="0.8" />
<line x1="149.60" y1="185.38" x2="154.80" y2="185.38" stroke="#f07f1a" stroke-width="0.8" />
<line x1="149.60" y1="187.03" x2="154.80" y2="187.03" stroke="#f07f1a" stroke-width="0.8" />
<line x1="149.60" y1="186.20" x2="154.80" y2="186.20" stroke="#f07f1a" stroke-width="0.8" />
<line x1="134.00" y1="180.50" x2="152.30" y2="180.50" stroke="#222" stroke-width="1.05" />
<text x="143.50" y="176.70" font-size="6.6" text-anchor="middle" stroke="#000" stroke-width="0.18" >p = 0.0237</text>
<text x="134.15" y="254.00" font-size="7.6" text-anchor="middle" stroke="#000" stroke-width="0.18" >HC</text>
<text x="152.20" y="254.00" font-size="7.6" text-anchor="middle" stroke="#000" stroke-width="0.18" >SLE</text>
<text transform="translate(107.14,208.00) rotate(-90)" font-size="7.6" text-anchor="middle" stroke="#000" stroke-width="0.18" >Glycolytic Capacity</text>
<line x1="208.50" y1="173.80" x2="208.50" y2="242.70" stroke="#222" stroke-width="1.1" />
<line x1="205.90" y1="242.70" x2="208.50" y2="242.70" stroke="#222" stroke-width="1.1" />
<text x="204.90" y="245.54" font-size="7.9" text-anchor="end" stroke="#000" stroke-width="0.18" >0</text>
<line x1="205.90" y1="225.47" x2="208.50" y2="225.47" stroke="#222" stroke-width="1.1" />
<text x="204.90" y="228.32" font-size="7.9" text-anchor="end" stroke="#000" stroke-width="0.18" >2</text>
<line x1="205.90" y1="208.25" x2="208.50" y2="208.25" stroke="#222" stroke-width="1.1" />
<text x="204.90" y="211.09" font-size="7.9" text-anchor="end" stroke="#000" stroke-width="0.18" >4</text>
<line x1="205.90" y1="191.03" x2="208.50" y2="191.03" stroke="#222" stroke-width="1.1" />
<text x="204.90" y="193.87" font-size="7.9" text-anchor="end" stroke="#000" stroke-width="0.18" >6</text>
<line x1="205.90" y1="173.80" x2="208.50" y2="173.80" stroke="#222" stroke-width="1.1" />
<text x="204.90" y="176.64" font-size="7.9" text-anchor="end" stroke="#000" stroke-width="0.18" >8</text>
<line x1="207.95" y1="242.50" x2="250.00" y2="242.50" stroke="#222" stroke-width="1.1" />
<line x1="221.00" y1="242.70" x2="221.00" y2="244.70" stroke="#222" stroke-width="1.1" />
<line x1="238.40" y1="242.70" x2="238.40" y2="244.70" stroke="#222" stroke-width="1.1" />
<rect x="215.00" y="225.47" width="12.00" height="17.22" fill="#dcdcdc" />
<circle cx="221.00" cy="214.28" r="1.1" fill="#8a8a8a"/>
<circle cx="221.00" cy="232.36" r="1.1" fill="#8a8a8a"/>
<circle cx="221.00" cy="241.84" r="1.1" fill="#8a8a8a"/>
<line x1="221.00" y1="217.72" x2="221.00" y2="233.23" stroke="#8a8a8a" stroke-width="0.8" />
<line x1="218.40" y1="217.72" x2="223.60" y2="217.72" stroke="#8a8a8a" stroke-width="0.8" />
<line x1="218.40" y1="233.23" x2="223.60" y2="233.23" stroke="#8a8a8a" stroke-width="0.8" />
<line x1="218.40" y1="225.47" x2="223.60" y2="225.47" stroke="#8a8a8a" stroke-width="0.8" />
<rect x="232.60" y="195.76" width="11.60" height="46.94" fill="#fdc48d" />
<circle cx="238.40" cy="191.03" r="1.1" fill="#f07f1a"/>
<circle cx="238.40" cy="195.33" r="1.1" fill="#f07f1a"/>
<circle cx="242.03" cy="197.05" r="1.1" fill="#f07f1a"/>
<line x1="238.40" y1="193.18" x2="238.40" y2="198.35" stroke="#f07f1a" stroke-width="0.8" />
<line x1="235.80" y1="193.18" x2="241.00" y2="193.18" stroke="#f07f1a" stroke-width="0.8" />
<line x1="235.80" y1="198.35" x2="241.00" y2="198.35" stroke="#f07f1a" stroke-width="0.8" />
<line x1="235.80" y1="195.76" x2="241.00" y2="195.76" stroke="#f07f1a" stroke-width="0.8" />
<line x1="220.30" y1="183.50" x2="239.00" y2="183.50" stroke="#222" stroke-width="1.05" />
<text x="229.30" y="179.60" font-size="6.6" text-anchor="middle" stroke="#000" stroke-width="0.18" >p = 0.0215</text>
<text x="221.00" y="254.00" font-size="7.6" text-anchor="middle" stroke="#000" stroke-width="0.18" >HC</text>
<text x="238.40" y="254.00" font-size="7.6" text-anchor="middle" stroke="#000" stroke-width="0.18" >SLE</text>
<text transform="translate(196.24,208.00) rotate(-90)" font-size="7.6" text-anchor="middle" stroke="#000" stroke-width="0.18" >Glycolytic Reserve</text>
<text x="285.00" y="160.00" font-size="13" text-anchor="start" font-weight="bold" >g</text>
<text x="348.40" y="166.60" font-size="7.6" text-anchor="middle" stroke="#000" stroke-width="0.18" >Lactic acid</text>
<line x1="328.50" y1="174.40" x2="328.50" y2="243.40" stroke="#222" stroke-width="1.1" />
<line x1="325.90" y1="243.40" x2="328.50" y2="243.40" stroke="#222" stroke-width="1.1" />
<text x="324.90" y="246.24" font-size="7.9" text-anchor="end" stroke="#000" stroke-width="0.18" >0</text>
<line x1="325.90" y1="226.15" x2="328.50" y2="226.15" stroke="#222" stroke-width="1.1" />
<text x="324.90" y="228.99" font-size="7.9" text-anchor="end" stroke="#000" stroke-width="0.18" >1</text>
<line x1="325.90" y1="208.90" x2="328.50" y2="208.90" stroke="#222" stroke-width="1.1" />
<text x="324.90" y="211.74" font-size="7.9" text-anchor="end" stroke="#000" stroke-width="0.18" >2</text>
<line x1="325.90" y1="191.65" x2="328.50" y2="191.65" stroke="#222" stroke-width="1.1" />
<text x="324.90" y="194.49" font-size="7.9" text-anchor="end" stroke="#000" stroke-width="0.18" >3</text>
<line x1="325.90" y1="174.40" x2="328.50" y2="174.40" stroke="#222" stroke-width="1.1" />
<text x="324.90" y="177.24" font-size="7.9" text-anchor="end" stroke="#000" stroke-width="0.18" >4</text>
<line x1="327.95" y1="243.50" x2="368.60" y2="243.50" stroke="#222" stroke-width="1.1" />
<line x1="339.60" y1="243.40" x2="339.60" y2="245.40" stroke="#222" stroke-width="1.1" />
<line x1="357.00" y1="243.40" x2="357.00" y2="245.40" stroke="#222" stroke-width="1.1" />
<rect x="333.60" y="224.43" width="12.00" height="18.97" fill="#dcdcdc" />
<circle cx="339.60" cy="217.18" r="1.1" fill="#7a7a7a"/>
<circle cx="343.23" cy="219.25" r="1.1" fill="#7a7a7a"/>
<circle cx="339.60" cy="222.70" r="1.1" fill="#7a7a7a"/>
<circle cx="343.23" cy="223.56" r="1.1" fill="#7a7a7a"/>
<circle cx="335.97" cy="224.08" r="1.1" fill="#7a7a7a"/>
<circle cx="339.62" cy="224.43" r="1.1" fill="#7a7a7a"/>
<circle cx="340.22" cy="224.77" r="1.1" fill="#7a7a7a"/>
<circle cx="335.70" cy="225.29" r="1.1" fill="#7a7a7a"/>
<circle cx="340.70" cy="226.15" r="1.1" fill="#7a7a7a"/>
<circle cx="340.25" cy="227.01" r="1.1" fill="#7a7a7a"/>
<circle cx="335.93" cy="227.88" r="1.1" fill="#7a7a7a"/>
<circle cx="343.23" cy="229.60" r="1.1" fill="#7a7a7a"/>
<line x1="339.60" y1="223.05" x2="339.60" y2="225.81" stroke="#7a7a7a" stroke-width="0.8" />
<line x1="337.00" y1="223.05" x2="342.20" y2="223.05" stroke="#7a7a7a" stroke-width="0.8" />
<line x1="337.00" y1="225.81" x2="342.20" y2="225.81" stroke="#7a7a7a" stroke-width="0.8" />
<line x1="337.00" y1="224.43" x2="342.20" y2="224.43" stroke="#7a7a7a" stroke-width="0.8" />
<rect x="351.00" y="202.00" width="12.00" height="41.40" fill="#fdc48d" />
<circle cx="357.00" cy="191.31" r="1.1" fill="#f07f1a"/>
<circle cx="360.63" cy="191.65" r="1.1" fill="#f07f1a"/>
<circle cx="353.37" cy="192.00" r="1.1" fill="#f07f1a"/>
<circle cx="356.37" cy="192.51" r="1.1" fill="#f07f1a"/>
<circle cx="358.81" cy="195.10" r="1.1" fill="#f07f1a"/>
<circle cx="355.19" cy="196.82" r="1.1" fill="#f07f1a"/>
<circle cx="358.81" cy="198.55" r="1.1" fill="#f07f1a"/>
<circle cx="355.19" cy="200.28" r="1.1" fill="#f07f1a"/>
<circle cx="358.81" cy="202.00" r="1.1" fill="#f07f1a"/>
<circle cx="355.19" cy="203.73" r="1.1" fill="#f07f1a"/>
<circle cx="358.81" cy="205.45" r="1.1" fill="#f07f1a"/>
<circle cx="355.19" cy="207.18" r="1.1" fill="#f07f1a"/>
<circle cx="358.81" cy="208.90" r="1.1" fill="#f07f1a"/>
<circle cx="355.11" cy="209.76" r="1.1" fill="#f07f1a"/>
<line x1="357.00" y1="199.59" x2="357.00" y2="204.42" stroke="#f07f1a" stroke-width="0.8" />
<line x1="354.40" y1="199.59" x2="359.60" y2="199.59" stroke="#f07f1a" stroke-width="0.8" />
<line x1="354.40" y1="204.42" x2="359.60" y2="204.42" stroke="#f07f1a" stroke-width="0.8" />
<line x1="354.40" y1="202.00" x2="359.60" y2="202.00" stroke="#f07f1a" stroke-width="0.8" />
<line x1="339.00" y1="182.50" x2="357.60" y2="182.50" stroke="#222" stroke-width="1.05" />
<text x="348.00" y="179.00" font-size="6.6" text-anchor="middle" stroke="#000" stroke-width="0.18" >p &lt; 0.0001</text>
<text x="339.40" y="253.60" font-size="7.6" text-anchor="middle" stroke="#000" stroke-width="0.18" >HC</text>
<text x="357.00" y="253.60" font-size="7.6" text-anchor="middle" stroke="#000" stroke-width="0.18" >SLE</text>
<text transform="translate(316.74,208.00) rotate(-90)" font-size="7.6" text-anchor="middle" stroke="#000" stroke-width="0.18" >mmol/g prot</text>
<text x="434.50" y="165.70" font-size="7.6" text-anchor="middle" stroke="#000" stroke-width="0.18" >Lactate released</text>
<line x1="412.50" y1="174.40" x2="412.50" y2="243.40" stroke="#222" stroke-width="1.1" />
<line x1="409.90" y1="243.40" x2="412.50" y2="243.40" stroke="#222" stroke-width="1.1" />
<text x="408.90" y="246.24" font-size="7.9" text-anchor="end" stroke="#000" stroke-width="0.18" >0</text>
<line x1="409.90" y1="220.40" x2="412.50" y2="220.40" stroke="#222" stroke-width="1.1" />
<text x="408.90" y="223.24" font-size="7.9" text-anchor="end" stroke="#000" stroke-width="0.18" >2</text>
<line x1="409.90" y1="197.40" x2="412.50" y2="197.40" stroke="#222" stroke-width="1.1" />
<text x="408.90" y="200.24" font-size="7.9" text-anchor="end" stroke="#000" stroke-width="0.18" >4</text>
<line x1="409.90" y1="174.40" x2="412.50" y2="174.40" stroke="#222" stroke-width="1.1" />
<text x="408.90" y="177.24" font-size="7.9" text-anchor="end" stroke="#000" stroke-width="0.18" >6</text>
<line x1="411.95" y1="243.50" x2="454.60" y2="243.50" stroke="#222" stroke-width="1.1" />
<line x1="425.00" y1="243.40" x2="425.00" y2="245.40" stroke="#222" stroke-width="1.1" />
<line x1="443.00" y1="243.40" x2="443.00" y2="245.40" stroke="#222" stroke-width="1.1" />
<rect x="419.00" y="215.80" width="12.00" height="27.60" fill="#dcdcdc" />
<circle cx="425.00" cy="208.90" r="1.1" fill="#7a7a7a"/>
<circle cx="428.63" cy="210.05" r="1.1" fill="#7a7a7a"/>
<circle cx="425.00" cy="214.65" r="1.1" fill="#7a7a7a"/>
<circle cx="425.00" cy="218.10" r="1.1" fill="#7a7a7a"/>
<circle cx="425.00" cy="221.55" r="1.1" fill="#7a7a7a"/>
<circle cx="425.00" cy="226.15" r="1.1" fill="#7a7a7a"/>
<line x1="425.00" y1="212.35" x2="425.00" y2="219.25" stroke="#7a7a7a" stroke-width="0.8" />
<line x1="422.40" y1="212.35" x2="427.60" y2="212.35" stroke="#7a7a7a" stroke-width="0.8" />
<line x1="422.40" y1="219.25" x2="427.60" y2="219.25" stroke="#7a7a7a" stroke-width="0.8" />
<line x1="422.40" y1="215.80" x2="427.60" y2="215.80" stroke="#7a7a7a" stroke-width="0.8" />
<rect x="437.00" y="198.55" width="12.00" height="44.85" fill="#fdc48d" />
<circle cx="443.00" cy="182.45" r="1.1" fill="#f07f1a"/>
<circle cx="443.00" cy="195.10" r="1.1" fill="#f07f1a"/>
<circle cx="443.00" cy="198.55" r="1.1" fill="#f07f1a"/>
<circle cx="443.00" cy="202.00" r="1.1" fill="#f07f1a"/>
<circle cx="443.00" cy="206.60" r="1.1" fill="#f07f1a"/>
<circle cx="443.00" cy="213.50" r="1.1" fill="#f07f1a"/>
<line x1="443.00" y1="193.38" x2="443.00" y2="203.73" stroke="#f07f1a" stroke-width="0.8" />
<line x1="440.40" y1="193.38" x2="445.60" y2="193.38" stroke="#f07f1a" stroke-width="0.8" />
<line x1="440.40" y1="203.73" x2="445.60" y2="203.73" stroke="#f07f1a" stroke-width="0.8" />
<line x1="440.40" y1="198.55" x2="445.60" y2="198.55" stroke="#f07f1a" stroke-width="0.8" />
<line x1="424.60" y1="179.50" x2="441.00" y2="179.50" stroke="#222" stroke-width="1.05" />
<text x="434.00" y="176.00" font-size="6.6" text-anchor="middle" stroke="#000" stroke-width="0.18" >p = 0.0081</text>
<text x="425.00" y="253.60" font-size="7.6" text-anchor="middle" stroke="#000" stroke-width="0.18" >HC</text>
<text x="442.60" y="253.60" font-size="7.6" text-anchor="middle" stroke="#000" stroke-width="0.18" >SLE</text>
<text transform="translate(393.34,208.00) rotate(-90)" font-size="7.6" text-anchor="middle" stroke="#000" stroke-width="0.18" >Relative level normalized</text>
<text transform="translate(402.34,208.00) rotate(-90)" font-size="7.6" text-anchor="middle" stroke="#000" stroke-width="0.18" >with cell protein</text>
<text x="498.00" y="160.00" font-size="13" text-anchor="start" font-weight="bold" >h</text>
<rect x="567.00" y="145.40" width="6.00" height="4.60" fill="#f9a3a3" />
<text x="576.00" y="150.40" font-size="7.6" text-anchor="start" stroke="#000" stroke-width="0.18" >Vehicle</text>
<rect x="567.00" y="157.00" width="6.00" height="4.60" fill="#9ea6f5" />
<text x="576.00" y="161.80" font-size="7.6" text-anchor="start" stroke="#000" stroke-width="0.18" >GSK2837808A</text>
<line x1="541.50" y1="174.41" x2="541.50" y2="243.00" stroke="#222" stroke-width="1.1" />
<line x1="538.90" y1="243.00" x2="541.50" y2="243.00" stroke="#222" stroke-width="1.1" />
<text x="537.90" y="245.84" font-size="7.9" text-anchor="end" stroke="#000" stroke-width="0.18" >0</text>
<line x1="538.90" y1="220.13" x2="541.50" y2="220.13" stroke="#222" stroke-width="1.1" />
<text x="537.90" y="222.98" font-size="7.9" text-anchor="end" stroke="#000" stroke-width="0.18" >5</text>
<line x1="538.90" y1="197.27" x2="541.50" y2="197.27" stroke="#222" stroke-width="1.1" />
<text x="537.90" y="200.11" font-size="7.9" text-anchor="end" stroke="#000" stroke-width="0.18" >10</text>
<line x1="538.90" y1="174.41" x2="541.50" y2="174.41" stroke="#222" stroke-width="1.1" />
<text x="537.90" y="177.25" font-size="7.9" text-anchor="end" stroke="#000" stroke-width="0.18" >15</text>
<line x1="540.95" y1="243.50" x2="583.00" y2="243.50" stroke="#222" stroke-width="1.1" />
<rect x="547.30" y="199.10" width="11.10" height="43.90" fill="#f9a3a3" />
<circle cx="552.85" cy="179.89" r="1.1" fill="#f02828"/>
<circle cx="552.85" cy="188.12" r="1.1" fill="#f02828"/>
<circle cx="556.48" cy="189.95" r="1.1" fill="#f02828"/>
<circle cx="552.85" cy="194.98" r="1.1" fill="#f02828"/>
<circle cx="552.85" cy="199.56" r="1.1" fill="#f02828"/>
<circle cx="556.48" cy="201.84" r="1.1" fill="#f02828"/>
<circle cx="552.85" cy="206.42" r="1.1" fill="#f02828"/>
<circle cx="556.48" cy="208.25" r="1.1" fill="#f02828"/>
<circle cx="552.85" cy="217.39" r="1.1" fill="#f02828"/>
<line x1="552.85" y1="195.44" x2="552.85" y2="202.76" stroke="#f02828" stroke-width="0.8" />
<line x1="550.25" y1="195.44" x2="555.45" y2="195.44" stroke="#f02828" stroke-width="0.8" />
<line x1="550.25" y1="202.76" x2="555.45" y2="202.76" stroke="#f02828" stroke-width="0.8" />
<line x1="550.25" y1="199.10" x2="555.45" y2="199.10" stroke="#f02828" stroke-width="0.8" />
<rect x="564.70" y="213.73" width="11.70" height="29.27" fill="#9ea6f5" />
<circle cx="570.55" cy="205.04" r="1.1" fill="#2448e6"/>
<circle cx="574.18" cy="207.33" r="1.1" fill="#2448e6"/>
<circle cx="570.55" cy="210.99" r="1.1" fill="#2448e6"/>
<circle cx="574.18" cy="213.28" r="1.1" fill="#2448e6"/>
<circle cx="570.55" cy="215.56" r="1.1" fill="#2448e6"/>
<circle cx="574.18" cy="217.85" r="1.1" fill="#2448e6"/>
<circle cx="570.55" cy="220.13" r="1.1" fill="#2448e6"/>
<circle cx="566.92" cy="221.05" r="1.1" fill="#2448e6"/>
<circle cx="574.18" cy="221.96" r="1.1" fill="#2448e6"/>
<line x1="570.55" y1="211.45" x2="570.55" y2="216.02" stroke="#2448e6" stroke-width="0.8" />
<line x1="567.95" y1="211.45" x2="573.15" y2="211.45" stroke="#2448e6" stroke-width="0.8" />
<line x1="567.95" y1="216.02" x2="573.15" y2="216.02" stroke="#2448e6" stroke-width="0.8" />
<line x1="567.95" y1="213.73" x2="573.15" y2="213.73" stroke="#2448e6" stroke-width="0.8" />
<line x1="551.80" y1="177.50" x2="576.40" y2="177.50" stroke="#222" stroke-width="1.05" />
<text x="561.40" y="173.60" font-size="6.6" text-anchor="middle" stroke="#000" stroke-width="0.18" >p = 0.0041</text>
<text x="561.40" y="252.20" font-size="7.6" text-anchor="middle" stroke="#000" stroke-width="0.18" >SLE plasma</text>
<text transform="translate(524.14,207.00) rotate(-90)" font-size="7.6" text-anchor="middle" stroke="#000" stroke-width="0.18" >BCL6 (% CD4)</text>
<line x1="627.50" y1="174.41" x2="627.50" y2="243.00" stroke="#222" stroke-width="1.1" />
<line x1="624.90" y1="243.00" x2="627.50" y2="243.00" stroke="#222" stroke-width="1.1" />
<text x="623.90" y="245.84" font-size="7.9" text-anchor="end" stroke="#000" stroke-width="0.18" >0</text>
<line x1="624.90" y1="220.13" x2="627.50" y2="220.13" stroke="#222" stroke-width="1.1" />
<text x="623.90" y="222.98" font-size="7.9" text-anchor="end" stroke="#000" stroke-width="0.18" >5</text>
<line x1="624.90" y1="197.27" x2="627.50" y2="197.27" stroke="#222" stroke-width="1.1" />
<text x="623.90" y="200.11" font-size="7.9" text-anchor="end" stroke="#000" stroke-width="0.18" >10</text>
<line x1="624.90" y1="174.41" x2="627.50" y2="174.41" stroke="#222" stroke-width="1.1" />
<text x="623.90" y="177.25" font-size="7.9" text-anchor="end" stroke="#000" stroke-width="0.18" >15</text>
<line x1="626.95" y1="243.50" x2="669.00" y2="243.50" stroke="#222" stroke-width="1.1" />
<rect x="633.00" y="208.25" width="12.00" height="34.75" fill="#f9a3a3" />
<circle cx="639.00" cy="181.26" r="1.1" fill="#f02828"/>
<circle cx="639.00" cy="197.27" r="1.1" fill="#f02828"/>
<circle cx="639.00" cy="206.42" r="1.1" fill="#f02828"/>
<circle cx="642.63" cy="208.70" r="1.1" fill="#f02828"/>
<circle cx="639.00" cy="210.07" r="1.1" fill="#f02828"/>
<circle cx="635.37" cy="210.99" r="1.1" fill="#f02828"/>
<circle cx="640.82" cy="213.28" r="1.1" fill="#f02828"/>
<circle cx="637.18" cy="215.56" r="1.1" fill="#f02828"/>
<circle cx="640.82" cy="217.85" r="1.1" fill="#f02828"/>
<circle cx="639.00" cy="221.05" r="1.1" fill="#f02828"/>
<line x1="639.00" y1="204.59" x2="639.00" y2="211.90" stroke="#f02828" stroke-width="0.8" />
<line x1="636.40" y1="204.59" x2="641.60" y2="204.59" stroke="#f02828" stroke-width="0.8" />
<line x1="636.40" y1="211.90" x2="641.60" y2="211.90" stroke="#f02828" stroke-width="0.8" />
<line x1="636.40" y1="208.25" x2="641.60" y2="208.25" stroke="#f02828" stroke-width="0.8" />
<rect x="651.00" y="221.51" width="12.00" height="21.49" fill="#9ea6f5" />
<circle cx="657.00" cy="207.33" r="1.1" fill="#2448e6"/>
<circle cx="657.00" cy="213.28" r="1.1" fill="#2448e6"/>
<circle cx="657.00" cy="217.85" r="1.1" fill="#2448e6"/>
<circle cx="657.00" cy="222.42" r="1.1" fill="#2448e6"/>
<circle cx="660.63" cy="223.79" r="1.1" fill="#2448e6"/>
<circle cx="653.37" cy="224.71" r="1.1" fill="#2448e6"/>
<circle cx="657.00" cy="226.99" r="1.1" fill="#2448e6"/>
<circle cx="660.63" cy="228.37" r="1.1" fill="#2448e6"/>
<circle cx="653.37" cy="229.28" r="1.1" fill="#2448e6"/>
<circle cx="655.14" cy="230.20" r="1.1" fill="#2448e6"/>
<line x1="657.00" y1="218.76" x2="657.00" y2="224.25" stroke="#2448e6" stroke-width="0.8" />
<line x1="654.40" y1="218.76" x2="659.60" y2="218.76" stroke="#2448e6" stroke-width="0.8" />
<line x1="654.40" y1="224.25" x2="659.60" y2="224.25" stroke="#2448e6" stroke-width="0.8" />
<line x1="654.40" y1="221.51" x2="659.60" y2="221.51" stroke="#2448e6" stroke-width="0.8" />
<line x1="637.00" y1="178.50" x2="657.00" y2="178.50" stroke="#222" stroke-width="1.05" />
<text x="648.00" y="175.00" font-size="6.6" text-anchor="middle" stroke="#000" stroke-width="0.18" >p = 0.0072</text>
<text x="647.40" y="252.20" font-size="7.6" text-anchor="middle" stroke="#000" stroke-width="0.18" >SLE plasma</text>
<text transform="translate(610.74,207.00) rotate(-90)" font-size="7.6" text-anchor="middle" stroke="#000" stroke-width="0.18" >CXCR5<tspan font-size="4.6" dy="-2.6">hi</tspan><tspan dy="2.6">PD-1</tspan><tspan font-size="4.6" dy="-2.6">hi</tspan><tspan dy="2.6"> (% CD4)</tspan></text>
<text x="2.40" y="290.00" font-size="13" text-anchor="start" font-weight="bold" >i</text>
<rect x="29.60" y="293.00" width="5.40" height="4.40" fill="#f9a3a3" />
<text x="38.00" y="297.60" font-size="7.6" text-anchor="start" stroke="#000" stroke-width="0.18" >Vehicle</text>
<rect x="29.60" y="304.40" width="5.40" height="4.60" fill="#9ea6f5" />
<text x="38.00" y="309.20" font-size="7.6" text-anchor="start" stroke="#000" stroke-width="0.18" >GSK2837808A</text>
<line x1="47.50" y1="328.40" x2="47.50" y2="397.60" stroke="#222" stroke-width="1.1" />
<line x1="44.90" y1="397.60" x2="47.50" y2="397.60" stroke="#222" stroke-width="1.1" />
<text x="43.90" y="400.44" font-size="7.9" text-anchor="end" stroke="#000" stroke-width="0.18" >0</text>
<line x1="44.90" y1="383.76" x2="47.50" y2="383.76" stroke="#222" stroke-width="1.1" />
<text x="43.90" y="386.60" font-size="7.9" text-anchor="end" stroke="#000" stroke-width="0.18" >2</text>
<line x1="44.90" y1="369.92" x2="47.50" y2="369.92" stroke="#222" stroke-width="1.1" />
<text x="43.90" y="372.76" font-size="7.9" text-anchor="end" stroke="#000" stroke-width="0.18" >4</text>
<line x1="44.90" y1="356.08" x2="47.50" y2="356.08" stroke="#222" stroke-width="1.1" />
<text x="43.90" y="358.92" font-size="7.9" text-anchor="end" stroke="#000" stroke-width="0.18" >6</text>
<line x1="44.90" y1="342.24" x2="47.50" y2="342.24" stroke="#222" stroke-width="1.1" />
<text x="43.90" y="345.08" font-size="7.9" text-anchor="end" stroke="#000" stroke-width="0.18" >8</text>
<line x1="44.90" y1="328.40" x2="47.50" y2="328.40" stroke="#222" stroke-width="1.1" />
<text x="43.90" y="331.24" font-size="7.9" text-anchor="end" stroke="#000" stroke-width="0.18" >10</text>
<line x1="46.95" y1="397.50" x2="88.00" y2="397.50" stroke="#222" stroke-width="1.1" />
<rect x="53.00" y="349.16" width="12.00" height="48.44" fill="#f9a3a3" />
<circle cx="59.00" cy="337.40" r="1.1" fill="#f02828"/>
<circle cx="62.63" cy="338.78" r="1.1" fill="#f02828"/>
<circle cx="57.19" cy="340.16" r="1.1" fill="#f02828"/>
<circle cx="59.00" cy="345.70" r="1.1" fill="#f02828"/>
<circle cx="59.00" cy="349.16" r="1.1" fill="#f02828"/>
<circle cx="60.81" cy="351.93" r="1.1" fill="#f02828"/>
<circle cx="59.00" cy="356.08" r="1.1" fill="#f02828"/>
<circle cx="59.00" cy="359.54" r="1.1" fill="#f02828"/>
<circle cx="59.00" cy="364.38" r="1.1" fill="#f02828"/>
<line x1="59.00" y1="345.01" x2="59.00" y2="353.31" stroke="#f02828" stroke-width="0.8" />
<line x1="56.40" y1="345.01" x2="61.60" y2="345.01" stroke="#f02828" stroke-width="0.8" />
<line x1="56.40" y1="353.31" x2="61.60" y2="353.31" stroke="#f02828" stroke-width="0.8" />
<line x1="56.40" y1="349.16" x2="61.60" y2="349.16" stroke="#f02828" stroke-width="0.8" />
<rect x="71.00" y="367.84" width="12.00" height="29.76" fill="#9ea6f5" />
<circle cx="77.00" cy="356.08" r="1.1" fill="#2448e6"/>
<circle cx="80.63" cy="357.46" r="1.1" fill="#2448e6"/>
<circle cx="77.00" cy="359.54" r="1.1" fill="#2448e6"/>
<circle cx="80.63" cy="361.62" r="1.1" fill="#2448e6"/>
<circle cx="77.00" cy="366.46" r="1.1" fill="#2448e6"/>
<circle cx="77.00" cy="371.30" r="1.1" fill="#2448e6"/>
<circle cx="80.63" cy="373.38" r="1.1" fill="#2448e6"/>
<circle cx="77.00" cy="378.22" r="1.1" fill="#2448e6"/>
<circle cx="80.63" cy="379.61" r="1.1" fill="#2448e6"/>
<line x1="77.00" y1="364.38" x2="77.00" y2="371.30" stroke="#2448e6" stroke-width="0.8" />
<line x1="74.40" y1="364.38" x2="79.60" y2="364.38" stroke="#2448e6" stroke-width="0.8" />
<line x1="74.40" y1="371.30" x2="79.60" y2="371.30" stroke="#2448e6" stroke-width="0.8" />
<line x1="74.40" y1="367.84" x2="79.60" y2="367.84" stroke="#2448e6" stroke-width="0.8" />
<line x1="58.40" y1="334.50" x2="77.00" y2="334.50" stroke="#222" stroke-width="1.05" />
<text x="67.40" y="330.00" font-size="6.6" text-anchor="middle" stroke="#000" stroke-width="0.18" >p = 0.0010</text>
<text x="67.40" y="408.00" font-size="7.6" text-anchor="middle" stroke="#000" stroke-width="0.18" >SLE plasma</text>
<text transform="translate(28.74,362.00) rotate(-90)" font-size="7.6" text-anchor="middle" stroke="#000" stroke-width="0.18" >IL-21 (% CD4)</text>
<text x="114.00" y="290.00" font-size="13" text-anchor="start" font-weight="bold" >j</text>
<text x="171.00" y="295.00" font-size="8.0" text-anchor="middle" stroke="#000" stroke-width="0.18" >SLE plasma</text>
<line x1="147.40" y1="298.50" x2="195.00" y2="298.50" stroke="#222" stroke-width="0.8" />
<text transform="translate(163.38,355.00) rotate(-90)" font-size="8.0" text-anchor="start" stroke="#000" stroke-width="0.18" >Vehicle</text>
<text transform="translate(186.38,355.00) rotate(-90)" font-size="8.0" text-anchor="start" stroke="#000" stroke-width="0.18" >GSK2837808A</text>
<text x="143.60" y="351.60" font-size="8.0" text-anchor="end" stroke="#000" stroke-width="0.18" >MC</text>
<text x="198.60" y="354.40" font-size="6.8" text-anchor="start" stroke="#000" stroke-width="0.18" >kDa</text>
<rect x="149.00" y="357.20" width="46.00" height="17.80" fill="#e6e6e6" />
<defs><linearGradient id="vg1" x1="0" y1="0" x2="0" y2="1"><stop offset="0" stop-color="#8a8a8a"/><stop offset="0.35" stop-color="#555"/><stop offset="1" stop-color="#4a4a4a"/></linearGradient></defs>
<rect x="151.00" y="357.20" width="19.70" height="17.80" fill="url(#vg1)" />
<rect x="151.50" y="362.20" width="18.70" height="5.20" rx="2.60" fill="#000" filter="url(#bl1)"/>
<rect x="152.00" y="369.00" width="17.50" height="5.00" rx="2.50" fill="#333" filter="url(#bl2)"/>
<defs><linearGradient id="vg2" x1="0" y1="0" x2="0" y2="1"><stop offset="0" stop-color="#c4c4c4"/><stop offset="0.4" stop-color="#aaaaaa"/><stop offset="1" stop-color="#b8b8b8"/></linearGradient></defs>
<rect x="174.70" y="357.20" width="18.90" height="17.80" fill="url(#vg2)" />
<rect x="175.50" y="361.50" width="17.50" height="4.00" rx="2.00" fill="#959595" filter="url(#bl2)"/>
<text x="143.60" y="370.00" font-size="8.0" text-anchor="end" stroke="#000" stroke-width="0.18" >BCL6</text>
<text x="199.00" y="374.00" font-size="6.8" text-anchor="start" stroke="#000" stroke-width="0.18" >70</text>
<defs><linearGradient id="vg3" x1="0" y1="0" x2="0" y2="1"><stop offset="0" stop-color="#f2f2f2"/><stop offset="0.4" stop-color="#e8e8e8"/><stop offset="1" stop-color="#f0f0f0"/></linearGradient></defs>
<rect x="148.20" y="377.60" width="47.50" height="17.90" fill="url(#vg3)" />
<rect x="149.50" y="384.80" width="45.00" height="5.60" rx="2.80" fill="#050505" filter="url(#bl1)"/>
<rect x="170.50" y="384.60" width="2.00" height="1.20" rx="0.60" fill="#cfcfcf" filter="url(#bl1)"/>
<text x="143.60" y="391.00" font-size="8.0" text-anchor="end" stroke="#000" stroke-width="0.18" >β-actin</text>
<text x="199.00" y="395.60" font-size="6.8" text-anchor="start" stroke="#000" stroke-width="0.18" >40</text>
<text x="235.00" y="290.00" font-size="13" text-anchor="start" font-weight="bold" >k</text>
<rect x="296.60" y="283.70" width="5.40" height="4.70" fill="#f9a3a3" />
<text x="305.00" y="288.60" font-size="7.6" text-anchor="start" stroke="#000" stroke-width="0.18" >MC-shNC</text>
<rect x="296.60" y="295.00" width="5.40" height="4.60" fill="#aacdf2" />
<text x="305.00" y="299.60" font-size="7.6" text-anchor="start" stroke="#000" stroke-width="0.18" >MC-shLDHA #1</text>
<rect x="296.60" y="305.60" width="5.40" height="4.60" fill="#74bff2" />
<text x="305.00" y="310.40" font-size="7.6" text-anchor="start" stroke="#000" stroke-width="0.18" >MC-shLDHA #2</text>
<line x1="265.50" y1="322.00" x2="265.50" y2="397.60" stroke="#222" stroke-width="1.1" />
<line x1="262.90" y1="397.60" x2="265.50" y2="397.60" stroke="#222" stroke-width="1.1" />
<text x="261.90" y="400.44" font-size="7.9" text-anchor="end" stroke="#000" stroke-width="0.18" >0</text>
<line x1="262.90" y1="372.40" x2="265.50" y2="372.40" stroke="#222" stroke-width="1.1" />
<text x="261.90" y="375.24" font-size="7.9" text-anchor="end" stroke="#000" stroke-width="0.18" >5</text>
<line x1="262.90" y1="347.20" x2="265.50" y2="347.20" stroke="#222" stroke-width="1.1" />
<text x="261.90" y="350.04" font-size="7.9" text-anchor="end" stroke="#000" stroke-width="0.18" >10</text>
<line x1="262.90" y1="322.00" x2="265.50" y2="322.00" stroke="#222" stroke-width="1.1" />
<text x="261.90" y="324.84" font-size="7.9" text-anchor="end" stroke="#000" stroke-width="0.18" >15</text>
<line x1="264.95" y1="397.50" x2="307.00" y2="397.50" stroke="#222" stroke-width="1.1" />
<rect x="270.00" y="358.79" width="8.40" height="38.81" fill="#f9a3a3" />
<circle cx="274.20" cy="343.67" r="1.1" fill="#f02828"/>
<circle cx="274.20" cy="347.20" r="1.1" fill="#f02828"/>
<circle cx="274.20" cy="352.24" r="1.1" fill="#f02828"/>
<circle cx="276.09" cy="353.25" r="1.1" fill="#f02828"/>
<circle cx="274.20" cy="357.28" r="1.1" fill="#f02828"/>
<circle cx="271.89" cy="359.80" r="1.1" fill="#f02828"/>
<circle cx="274.20" cy="362.32" r="1.1" fill="#f02828"/>
<circle cx="274.20" cy="367.36" r="1.1" fill="#f02828"/>
<circle cx="274.20" cy="371.39" r="1.1" fill="#f02828"/>
<circle cx="271.27" cy="372.40" r="1.1" fill="#f02828"/>
<circle cx="275.99" cy="373.41" r="1.1" fill="#f02828"/>
<line x1="274.20" y1="354.76" x2="274.20" y2="362.82" stroke="#f02828" stroke-width="0.8" />
<line x1="271.60" y1="354.76" x2="276.80" y2="354.76" stroke="#f02828" stroke-width="0.8" />
<line x1="271.60" y1="362.82" x2="276.80" y2="362.82" stroke="#f02828" stroke-width="0.8" />
<line x1="271.60" y1="358.79" x2="276.80" y2="358.79" stroke="#f02828" stroke-width="0.8" />
<rect x="282.40" y="377.94" width="8.60" height="19.66" fill="#aacdf2" />
<circle cx="286.70" cy="361.82" r="1.1" fill="#1a4fe6"/>
<circle cx="286.70" cy="366.35" r="1.1" fill="#1a4fe6"/>
<circle cx="286.70" cy="372.40" r="1.1" fill="#1a4fe6"/>
<circle cx="288.76" cy="374.92" r="1.1" fill="#1a4fe6"/>
<circle cx="284.88" cy="377.44" r="1.1" fill="#1a4fe6"/>
<circle cx="288.51" cy="379.96" r="1.1" fill="#1a4fe6"/>
<circle cx="284.88" cy="382.48" r="1.1" fill="#1a4fe6"/>
<circle cx="288.51" cy="385.00" r="1.1" fill="#1a4fe6"/>
<circle cx="284.88" cy="387.52" r="1.1" fill="#1a4fe6"/>
<circle cx="288.51" cy="388.53" r="1.1" fill="#1a4fe6"/>
<line x1="286.70" y1="373.91" x2="286.70" y2="381.98" stroke="#1a4fe6" stroke-width="0.8" />
<line x1="284.10" y1="373.91" x2="289.30" y2="373.91" stroke="#1a4fe6" stroke-width="0.8" />
<line x1="284.10" y1="381.98" x2="289.30" y2="381.98" stroke="#1a4fe6" stroke-width="0.8" />
<line x1="284.10" y1="377.94" x2="289.30" y2="377.94" stroke="#1a4fe6" stroke-width="0.8" />
<rect x="295.00" y="375.93" width="8.40" height="21.67" fill="#74bff2" />
<circle cx="299.20" cy="366.86" r="1.1" fill="#4848e0"/>
<circle cx="301.01" cy="369.88" r="1.1" fill="#4848e0"/>
<circle cx="297.38" cy="372.40" r="1.1" fill="#4848e0"/>
<circle cx="301.01" cy="373.91" r="1.1" fill="#4848e0"/>
<circle cx="298.92" cy="374.92" r="1.1" fill="#4848e0"/>
<circle cx="301.62" cy="376.43" r="1.1" fill="#4848e0"/>
<circle cx="297.38" cy="378.45" r="1.1" fill="#4848e0"/>
<circle cx="299.20" cy="382.48" r="1.1" fill="#4848e0"/>
<circle cx="300.96" cy="385.00" r="1.1" fill="#4848e0"/>
<circle cx="299.20" cy="388.53" r="1.1" fill="#4848e0"/>
<line x1="299.20" y1="373.41" x2="299.20" y2="378.45" stroke="#4848e0" stroke-width="0.8" />
<line x1="296.60" y1="373.41" x2="301.80" y2="373.41" stroke="#4848e0" stroke-width="0.8" />
<line x1="296.60" y1="378.45" x2="301.80" y2="378.45" stroke="#4848e0" stroke-width="0.8" />
<line x1="296.60" y1="375.93" x2="301.80" y2="375.93" stroke="#4848e0" stroke-width="0.8" />
<line x1="274.00" y1="323.50" x2="287.00" y2="323.50" stroke="#222" stroke-width="1.05" />
<text x="280.00" y="319.00" font-size="6.6" text-anchor="middle" stroke="#000" stroke-width="0.18" >p &lt; 0.0001</text>
<line x1="273.60" y1="335.50" x2="299.00" y2="335.50" stroke="#222" stroke-width="1.05" />
<text x="286.50" y="331.00" font-size="6.6" text-anchor="middle" stroke="#000" stroke-width="0.18" >p = 0.0003</text>
<text x="286.00" y="407.60" font-size="7.6" text-anchor="middle" stroke="#000" stroke-width="0.18" >SLE plasma</text>
<text transform="translate(249.74,358.00) rotate(-90)" font-size="7.6" text-anchor="middle" stroke="#000" stroke-width="0.18" >BCL6 (% CD4)</text>
<line x1="347.50" y1="322.00" x2="347.50" y2="397.60" stroke="#222" stroke-width="1.1" />
<line x1="344.90" y1="397.60" x2="347.50" y2="397.60" stroke="#222" stroke-width="1.1" />
<text x="343.90" y="400.44" font-size="7.9" text-anchor="end" stroke="#000" stroke-width="0.18" >0</text>
<line x1="344.90" y1="372.40" x2="347.50" y2="372.40" stroke="#222" stroke-width="1.1" />
<text x="343.90" y="375.24" font-size="7.9" text-anchor="end" stroke="#000" stroke-width="0.18" >5</text>
<line x1="344.90" y1="347.20" x2="347.50" y2="347.20" stroke="#222" stroke-width="1.1" />
<text x="343.90" y="350.04" font-size="7.9" text-anchor="end" stroke="#000" stroke-width="0.18" >10</text>
<line x1="344.90" y1="322.00" x2="347.50" y2="322.00" stroke="#222" stroke-width="1.1" />
<text x="343.90" y="324.84" font-size="7.9" text-anchor="end" stroke="#000" stroke-width="0.18" >15</text>
<line x1="346.95" y1="397.50" x2="389.00" y2="397.50" stroke="#222" stroke-width="1.1" />
<rect x="352.00" y="359.80" width="8.40" height="37.80" fill="#f9a3a3" />
<circle cx="356.20" cy="347.20" r="1.1" fill="#f02828"/>
<circle cx="356.20" cy="352.24" r="1.1" fill="#f02828"/>
<circle cx="356.20" cy="357.28" r="1.1" fill="#f02828"/>
<circle cx="356.65" cy="359.30" r="1.1" fill="#f02828"/>
<circle cx="354.10" cy="360.30" r="1.1" fill="#f02828"/>
<circle cx="353.30" cy="361.31" r="1.1" fill="#f02828"/>
<circle cx="358.01" cy="362.32" r="1.1" fill="#f02828"/>
<circle cx="356.20" cy="367.36" r="1.1" fill="#f02828"/>
<circle cx="358.03" cy="369.88" r="1.1" fill="#f02828"/>
<circle cx="356.20" cy="373.41" r="1.1" fill="#f02828"/>
<line x1="356.20" y1="356.78" x2="356.20" y2="362.82" stroke="#f02828" stroke-width="0.8" />
<line x1="353.60" y1="356.78" x2="358.80" y2="356.78" stroke="#f02828" stroke-width="0.8" />
<line x1="353.60" y1="362.82" x2="358.80" y2="362.82" stroke="#f02828" stroke-width="0.8" />
<line x1="353.60" y1="359.80" x2="358.80" y2="359.80" stroke="#f02828" stroke-width="0.8" />
<rect x="364.40" y="380.97" width="8.60" height="16.63" fill="#aacdf2" />
<circle cx="368.70" cy="357.28" r="1.1" fill="#1a4fe6"/>
<circle cx="368.70" cy="373.41" r="1.1" fill="#1a4fe6"/>
<circle cx="371.32" cy="374.92" r="1.1" fill="#1a4fe6"/>
<circle cx="368.70" cy="379.96" r="1.1" fill="#1a4fe6"/>
<circle cx="370.15" cy="382.48" r="1.1" fill="#1a4fe6"/>
<circle cx="366.88" cy="383.49" r="1.1" fill="#1a4fe6"/>
<circle cx="368.56" cy="385.00" r="1.1" fill="#1a4fe6"/>
<circle cx="367.77" cy="387.52" r="1.1" fill="#1a4fe6"/>
<circle cx="370.51" cy="390.04" r="1.1" fill="#1a4fe6"/>
<line x1="368.70" y1="376.94" x2="368.70" y2="385.00" stroke="#1a4fe6" stroke-width="0.8" />
<line x1="366.10" y1="376.94" x2="371.30" y2="376.94" stroke="#1a4fe6" stroke-width="0.8" />
<line x1="366.10" y1="385.00" x2="371.30" y2="385.00" stroke="#1a4fe6" stroke-width="0.8" />
<line x1="366.10" y1="380.97" x2="371.30" y2="380.97" stroke="#1a4fe6" stroke-width="0.8" />
<rect x="377.00" y="378.95" width="8.60" height="18.65" fill="#74bff2" />
<circle cx="381.30" cy="369.88" r="1.1" fill="#4848e0"/>
<circle cx="380.38" cy="370.89" r="1.1" fill="#4848e0"/>
<circle cx="381.41" cy="372.40" r="1.1" fill="#4848e0"/>
<circle cx="378.46" cy="374.92" r="1.1" fill="#4848e0"/>
<circle cx="381.30" cy="377.44" r="1.1" fill="#4848e0"/>
<circle cx="381.12" cy="379.96" r="1.1" fill="#4848e0"/>
<circle cx="379.29" cy="382.48" r="1.1" fill="#4848e0"/>
<circle cx="383.12" cy="385.00" r="1.1" fill="#4848e0"/>
<circle cx="379.49" cy="387.52" r="1.1" fill="#4848e0"/>
<circle cx="381.30" cy="391.05" r="1.1" fill="#4848e0"/>
<line x1="381.30" y1="375.93" x2="381.30" y2="381.98" stroke="#4848e0" stroke-width="0.8" />
<line x1="378.70" y1="375.93" x2="383.90" y2="375.93" stroke="#4848e0" stroke-width="0.8" />
<line x1="378.70" y1="381.98" x2="383.90" y2="381.98" stroke="#4848e0" stroke-width="0.8" />
<line x1="378.70" y1="378.95" x2="383.90" y2="378.95" stroke="#4848e0" stroke-width="0.8" />
<line x1="356.00" y1="322.50" x2="369.00" y2="322.50" stroke="#222" stroke-width="1.05" />
<text x="362.50" y="319.00" font-size="6.6" text-anchor="middle" stroke="#000" stroke-width="0.18" >p = 0.0010</text>
<line x1="356.00" y1="334.50" x2="381.60" y2="334.50" stroke="#222" stroke-width="1.05" />
<text x="368.50" y="330.40" font-size="6.6" text-anchor="middle" stroke="#000" stroke-width="0.18" >p = 0.0052</text>
<text x="368.60" y="407.60" font-size="7.6" text-anchor="middle" stroke="#000" stroke-width="0.18" >SLE plasma</text>
<text transform="translate(331.74,358.00) rotate(-90)" font-size="7.6" text-anchor="middle" stroke="#000" stroke-width="0.18" >CXCR5<tspan font-size="4.6" dy="-2.6">hi</tspan><tspan dy="2.6">PD-1</tspan><tspan font-size="4.6" dy="-2.6">hi</tspan><tspan dy="2.6"> (% CD4)</tspan></text>
<text x="414.00" y="290.00" font-size="13" text-anchor="start" font-weight="bold" >l</text>
<text x="482.00" y="307.00" font-size="8.0" text-anchor="middle" stroke="#000" stroke-width="0.18" >SLE plasma</text>
<line x1="446.00" y1="310.50" x2="518.00" y2="310.50" stroke="#222" stroke-width="0.8" />
<text transform="translate(462.88,353.60) rotate(-90)" font-size="8.0" text-anchor="start" stroke="#000" stroke-width="0.18" >shNC</text>
<text transform="translate(485.88,353.60) rotate(-90)" font-size="8.0" text-anchor="start" stroke="#000" stroke-width="0.18" >shLDHA #1</text>
<text transform="translate(509.88,353.60) rotate(-90)" font-size="8.0" text-anchor="start" stroke="#000" stroke-width="0.18" >shLDHA #2</text>
<text x="441.00" y="351.60" font-size="8.0" text-anchor="end" stroke="#000" stroke-width="0.18" >MC</text>
<text x="519.00" y="353.00" font-size="6.8" text-anchor="start" stroke="#000" stroke-width="0.18" >kDa</text>
<rect x="447.00" y="356.70" width="68.20" height="16.90" fill="#dedede" />
<defs><linearGradient id="vg4" x1="0" y1="0" x2="0" y2="1"><stop offset="0" stop-color="#dadada"/><stop offset="0.45" stop-color="#b0b0b0"/><stop offset="1" stop-color="#8e8e8e"/></linearGradient></defs>
<rect x="447.00" y="356.70" width="20.00" height="16.90" fill="url(#vg4)" />
<path d="M451,368.8 C451,365 455,365 458.5,363.8 C461.5,362.5 464,362 466.5,362.6 L466.5,366 C463.5,365.8 461.5,366.8 458.5,368 C455,369.6 451.2,371 451,368.8 Z" fill="#000" filter="url(#bl1)"/>
<defs><linearGradient id="vg5" x1="0" y1="0" x2="0" y2="1"><stop offset="0" stop-color="#dcdcdc"/><stop offset="0.45" stop-color="#b4b4b4"/><stop offset="1" stop-color="#9c9c9c"/></linearGradient></defs>
<rect x="471.00" y="356.70" width="21.00" height="16.90" fill="url(#vg5)" />
<defs><linearGradient id="hg6" x1="0" y1="0" x2="1" y2="0"><stop offset="0" stop-color="#a8a8a8"/><stop offset="0.6" stop-color="#7a7a7a"/><stop offset="1" stop-color="#202020"/></linearGradient></defs>
<rect x="472.00" y="363.10" width="19.50" height="3.00" rx="1.50" fill="url(#hg6)" filter="url(#bl1)"/>
<defs><linearGradient id="vg7" x1="0" y1="0" x2="0" y2="1"><stop offset="0" stop-color="#e2e2e2"/><stop offset="0.4" stop-color="#bcbcbc"/><stop offset="1" stop-color="#a8a8a8"/></linearGradient></defs>
<rect x="497.70" y="356.70" width="17.50" height="16.90" fill="url(#vg7)" />
<defs><linearGradient id="hg8" x1="0" y1="0" x2="1" y2="0"><stop offset="0" stop-color="#8a8a8a"/><stop offset="1" stop-color="#5a5a5a"/></linearGradient></defs>
<rect x="498.50" y="362.30" width="16.00" height="2.60" rx="1.30" fill="url(#hg8)" filter="url(#bl1)"/>
<text x="441.00" y="369.00" font-size="8.0" text-anchor="end" stroke="#000" stroke-width="0.18" >BCL6</text>
<text x="519.00" y="373.00" font-size="6.8" text-anchor="start" stroke="#000" stroke-width="0.18" >70</text>
<defs><linearGradient id="vg9" x1="0" y1="0" x2="0" y2="1"><stop offset="0" stop-color="#dcdcdc"/><stop offset="0.4" stop-color="#e6e6e6"/><stop offset="1" stop-color="#efefef"/></linearGradient></defs>
<rect x="447.50" y="377.70" width="69.50" height="18.10" fill="url(#vg9)" />
<rect x="448.70" y="385.30" width="21.00" height="4.60" rx="2.30" fill="#030303" filter="url(#bl1)"/>
<rect x="471.40" y="385.20" width="21.60" height="4.40" rx="2.20" fill="#050505" filter="url(#bl1)"/>
<rect x="495.40" y="383.70" width="20.40" height="4.60" rx="2.30" fill="#030303" filter="url(#bl1)"/>
<text x="441.00" y="390.40" font-size="8.0" text-anchor="end" stroke="#000" stroke-width="0.18" >β-actin</text>
<text x="519.00" y="394.40" font-size="6.8" text-anchor="start" stroke="#000" stroke-width="0.18" >40</text>
<text x="540.00" y="290.00" font-size="13" text-anchor="start" font-weight="bold" >m</text>
<rect x="586.00" y="283.00" width="44.60" height="6.60" fill="#c9def7" />
<rect x="632.60" y="283.00" width="45.40" height="6.60" fill="#f9a3a3" />
<text x="610.40" y="289.00" font-size="7.2" text-anchor="middle" stroke="#222" stroke-width="0.18" fill="#222" >HC</text>
<text x="654.60" y="289.00" font-size="7.2" text-anchor="middle" stroke="#222" stroke-width="0.18" fill="#222" >SLE</text>
<rect x="586.00" y="291.40" width="11.80" height="11.00" fill="#9ea4f5" />
<rect x="597.50" y="291.40" width="11.80" height="11.00" fill="#4848f0" />
<rect x="609.00" y="291.40" width="11.80" height="11.00" fill="#6f6ff5" />
<rect x="620.50" y="291.40" width="11.80" height="11.00" fill="#6565f3" />
<rect x="632.00" y="291.40" width="11.80" height="11.00" fill="#a0a4f5" />
<rect x="643.50" y="291.40" width="11.80" height="11.00" fill="#8484f5" />
<rect x="655.00" y="291.40" width="11.80" height="11.00" fill="#2828f0" />
<rect x="666.50" y="291.40" width="11.80" height="11.00" fill="#6e6ef3" />
<text x="584.40" y="299.35" font-size="7.3" text-anchor="end" stroke="#000" stroke-width="0.18" font-style="italic" >SLC2A1</text>
<rect x="586.00" y="302.10" width="11.80" height="11.00" fill="#acaef5" />
<rect x="597.50" y="302.10" width="11.80" height="11.00" fill="#aaaef5" />
<rect x="609.00" y="302.10" width="11.80" height="11.00" fill="#5f63f3" />
<rect x="620.50" y="302.10" width="11.80" height="11.00" fill="#fbc2c2" />
<rect x="632.00" y="302.10" width="11.80" height="11.00" fill="#c8cbf7" />
<rect x="643.50" y="302.10" width="11.80" height="11.00" fill="#b2b6f6" />
<rect x="655.00" y="302.10" width="11.80" height="11.00" fill="#fbd8d8" />
<rect x="666.50" y="302.10" width="11.80" height="11.00" fill="#fce2e2" />
<text x="584.40" y="310.05" font-size="7.3" text-anchor="end" stroke="#000" stroke-width="0.18" font-style="italic" >HK2</text>
<rect x="586.00" y="312.80" width="11.80" height="11.00" fill="#2020f0" />
<rect x="597.50" y="312.80" width="11.80" height="11.00" fill="#6e6ef5" />
<rect x="609.00" y="312.80" width="11.80" height="11.00" fill="#d6d8fa" />
<rect x="620.50" y="312.80" width="11.80" height="11.00" fill="#f4f5fd" />
<rect x="632.00" y="312.80" width="11.80" height="11.00" fill="#3c3cf0" />
<rect x="643.50" y="312.80" width="11.80" height="11.00" fill="#3030f0" />
<rect x="655.00" y="312.80" width="11.80" height="11.00" fill="#fefefe" />
<rect x="666.50" y="312.80" width="11.80" height="11.00" fill="#aeb2f6" />
<text x="584.40" y="320.75" font-size="7.3" text-anchor="end" stroke="#000" stroke-width="0.18" font-style="italic" >PFKFB1</text>
<rect x="586.00" y="323.50" width="11.80" height="11.00" fill="#f9a8a8" />
<rect x="597.50" y="323.50" width="11.80" height="11.00" fill="#f78787" />
<rect x="609.00" y="323.50" width="11.80" height="11.00" fill="#f43c3c" />
<rect x="620.50" y="323.50" width="11.80" height="11.00" fill="#f43c3c" />
<rect x="632.00" y="323.50" width="11.80" height="11.00" fill="#f77070" />
<rect x="643.50" y="323.50" width="11.80" height="11.00" fill="#f55858" />
<rect x="655.00" y="323.50" width="11.80" height="11.00" fill="#f44848" />
<rect x="666.50" y="323.50" width="11.80" height="11.00" fill="#f44848" />
<text x="584.40" y="331.45" font-size="7.3" text-anchor="end" stroke="#000" stroke-width="0.18" font-style="italic" >PFKFB2</text>
<rect x="586.00" y="334.20" width="11.80" height="11.00" fill="#f8a0a0" />
<rect x="597.50" y="334.20" width="11.80" height="11.00" fill="#f9bcbc" />
<rect x="609.00" y="334.20" width="11.80" height="11.00" fill="#f56262" />
<rect x="620.50" y="334.20" width="11.80" height="11.00" fill="#f67070" />
<rect x="632.00" y="334.20" width="11.80" height="11.00" fill="#f56666" />
<rect x="643.50" y="334.20" width="11.80" height="11.00" fill="#f9b4b4" />
<rect x="655.00" y="334.20" width="11.80" height="11.00" fill="#f78080" />
<rect x="666.50" y="334.20" width="11.80" height="11.00" fill="#f78484" />
<text x="584.40" y="342.15" font-size="7.3" text-anchor="end" stroke="#000" stroke-width="0.18" font-style="italic" >LDHA</text>
<rect x="586.00" y="344.90" width="11.80" height="11.00" fill="#8286f5" />
<rect x="597.50" y="344.90" width="11.80" height="11.00" fill="#c4c6f8" />
<rect x="609.00" y="344.90" width="11.80" height="11.00" fill="#bcbff7" />
<rect x="620.50" y="344.90" width="11.80" height="11.00" fill="#f43c3c" />
<rect x="632.00" y="344.90" width="11.80" height="11.00" fill="#9a9ef5" />
<rect x="643.50" y="344.90" width="11.80" height="11.00" fill="#e2e4fb" />
<rect x="655.00" y="344.90" width="11.80" height="11.00" fill="#f99a9a" />
<rect x="666.50" y="344.90" width="11.80" height="11.00" fill="#f45050" />
<text x="584.40" y="352.85" font-size="7.3" text-anchor="end" stroke="#000" stroke-width="0.18" font-style="italic" >MPC1</text>
<rect x="586.00" y="355.60" width="11.80" height="11.00" fill="#dcdefa" />
<rect x="597.50" y="355.60" width="11.80" height="11.00" fill="#e6e8fb" />
<rect x="609.00" y="355.60" width="11.80" height="11.00" fill="#a8abf5" />
<rect x="620.50" y="355.60" width="11.80" height="11.00" fill="#f55858" />
<rect x="632.00" y="355.60" width="11.80" height="11.00" fill="#f9bcbc" />
<rect x="643.50" y="355.60" width="11.80" height="11.00" fill="#e6e8fb" />
<rect x="655.00" y="355.60" width="11.80" height="11.00" fill="#f9a0a0" />
<rect x="666.50" y="355.60" width="11.80" height="11.00" fill="#f67070" />
<text x="584.40" y="363.55" font-size="7.3" text-anchor="end" stroke="#000" stroke-width="0.18" font-style="italic" >PDHA</text>
<rect x="586.00" y="366.30" width="11.80" height="11.00" fill="#2a2af0" />
<rect x="597.50" y="366.30" width="11.80" height="11.00" fill="#6a6ef3" />
<rect x="609.00" y="366.30" width="11.80" height="11.00" fill="#a8acf5" />
<rect x="620.50" y="366.30" width="11.80" height="11.00" fill="#8e92f5" />
<rect x="632.00" y="366.30" width="11.80" height="11.00" fill="#6a6ef3" />
<rect x="643.50" y="366.30" width="11.80" height="11.00" fill="#8084f5" />
<rect x="655.00" y="366.30" width="11.80" height="11.00" fill="#a0a4f5" />
<rect x="666.50" y="366.30" width="11.80" height="11.00" fill="#aaaef5" />
<text x="584.40" y="374.25" font-size="7.3" text-anchor="end" stroke="#000" stroke-width="0.18" font-style="italic" >CS</text>
<rect x="586.00" y="377.00" width="11.80" height="11.00" fill="#6064f3" />
<rect x="597.50" y="377.00" width="11.80" height="11.00" fill="#a0a4f5" />
<rect x="609.00" y="377.00" width="11.80" height="11.00" fill="#fde0e0" />
<rect x="620.50" y="377.00" width="11.80" height="11.00" fill="#e8e9fb" />
<rect x="632.00" y="377.00" width="11.80" height="11.00" fill="#a0a4f5" />
<rect x="643.50" y="377.00" width="11.80" height="11.00" fill="#bcbff7" />
<rect x="655.00" y="377.00" width="11.80" height="11.00" fill="#fefefe" />
<rect x="666.50" y="377.00" width="11.80" height="11.00" fill="#fefefe" />
<text x="584.40" y="384.95" font-size="7.3" text-anchor="end" stroke="#000" stroke-width="0.18" font-style="italic" >OGDH</text>
<rect x="586.00" y="387.70" width="11.80" height="11.00" fill="#fdf4f4" />
<rect x="597.50" y="387.70" width="11.80" height="11.00" fill="#7478f5" />
<rect x="609.00" y="387.70" width="11.80" height="11.00" fill="#d4d6fa" />
<rect x="620.50" y="387.70" width="11.80" height="11.00" fill="#a8abf5" />
<rect x="632.00" y="387.70" width="11.80" height="11.00" fill="#9ea2f5" />
<rect x="643.50" y="387.70" width="11.80" height="11.00" fill="#8a8ef5" />
<rect x="655.00" y="387.70" width="11.80" height="11.00" fill="#d6d8fa" />
<rect x="666.50" y="387.70" width="11.80" height="11.00" fill="#f4f5fd" />
<text x="584.40" y="395.65" font-size="7.3" text-anchor="end" stroke="#000" stroke-width="0.18" font-style="italic" >IDH1</text>
<rect x="586.00" y="291.40" width="92.00" height="107.00" fill="none" stroke="#999" stroke-width="0.5"/>
<text x="632.00" y="407.60" font-size="6.0" text-anchor="middle" stroke="#000" stroke-width="0.18" >Fold change log<tspan font-size="4.2" dy="1.5">2</tspan></text>
<rect x="610.00" y="409.00" width="44.00" height="6.00" fill="url(#gm)" />
<text x="610.00" y="420.20" font-size="6.0" text-anchor="middle" stroke="#000" stroke-width="0.18" >-1.0</text>
<text x="654.00" y="420.20" font-size="6.0" text-anchor="middle" stroke="#000" stroke-width="0.18" >1.0</text>
<text x="2.00" y="440.00" font-size="13" text-anchor="start" font-weight="bold" >n</text>
<rect x="39.60" y="440.00" width="6.00" height="4.40" fill="#f9a3a3" />
<text x="48.60" y="444.80" font-size="7.6" text-anchor="start" stroke="#000" stroke-width="0.18" >Vehicle</text>
<rect x="39.60" y="451.40" width="6.00" height="4.60" fill="#9ea6f5" />
<text x="48.60" y="456.40" font-size="7.6" text-anchor="start" stroke="#000" stroke-width="0.18" >GSK2837808A</text>
<text x="72.00" y="466.40" font-size="7.6" text-anchor="middle" stroke="#000" stroke-width="0.18" >Lactic acid</text>
<line x1="51.50" y1="478.60" x2="51.50" y2="547.40" stroke="#222" stroke-width="1.1" />
<line x1="48.90" y1="547.40" x2="51.50" y2="547.40" stroke="#222" stroke-width="1.1" />
<text x="47.90" y="550.24" font-size="7.9" text-anchor="end" stroke="#000" stroke-width="0.18" >0.0</text>
<line x1="48.90" y1="530.20" x2="51.50" y2="530.20" stroke="#222" stroke-width="1.1" />
<text x="47.90" y="533.04" font-size="7.9" text-anchor="end" stroke="#000" stroke-width="0.18" >0.1</text>
<line x1="48.90" y1="513.00" x2="51.50" y2="513.00" stroke="#222" stroke-width="1.1" />
<text x="47.90" y="515.84" font-size="7.9" text-anchor="end" stroke="#000" stroke-width="0.18" >0.2</text>
<line x1="48.90" y1="495.80" x2="51.50" y2="495.80" stroke="#222" stroke-width="1.1" />
<text x="47.90" y="498.64" font-size="7.9" text-anchor="end" stroke="#000" stroke-width="0.18" >0.3</text>
<line x1="48.90" y1="478.60" x2="51.50" y2="478.60" stroke="#222" stroke-width="1.1" />
<text x="47.90" y="481.44" font-size="7.9" text-anchor="end" stroke="#000" stroke-width="0.18" >0.4</text>
<line x1="50.95" y1="547.50" x2="92.40" y2="547.50" stroke="#222" stroke-width="1.1" />
<rect x="55.60" y="518.50" width="8.40" height="28.90" fill="#c6dcf5" />
<circle cx="59.80" cy="510.42" r="1.1" fill="#3a8ef0"/>
<circle cx="57.02" cy="511.28" r="1.1" fill="#3a8ef0"/>
<circle cx="57.02" cy="511.28" r="1.1" fill="#3a8ef0"/>
<circle cx="57.02" cy="513.00" r="1.1" fill="#3a8ef0"/>
<circle cx="59.80" cy="526.76" r="1.1" fill="#3a8ef0"/>
<circle cx="59.80" cy="533.64" r="1.1" fill="#3a8ef0"/>
<line x1="59.80" y1="513.34" x2="59.80" y2="523.66" stroke="#3a8ef0" stroke-width="0.8" />
<line x1="57.20" y1="513.34" x2="62.40" y2="513.34" stroke="#3a8ef0" stroke-width="0.8" />
<line x1="57.20" y1="523.66" x2="62.40" y2="523.66" stroke="#3a8ef0" stroke-width="0.8" />
<line x1="57.20" y1="518.50" x2="62.40" y2="518.50" stroke="#3a8ef0" stroke-width="0.8" />
<rect x="68.00" y="494.08" width="8.40" height="53.32" fill="#f9a3a3" />
<circle cx="72.20" cy="490.64" r="1.1" fill="#f02828"/>
<circle cx="72.20" cy="494.08" r="1.1" fill="#f02828"/>
<circle cx="69.88" cy="495.80" r="1.1" fill="#f02828"/>
<circle cx="69.38" cy="496.66" r="1.1" fill="#f02828"/>
<circle cx="74.02" cy="497.52" r="1.1" fill="#f02828"/>
<circle cx="70.29" cy="498.38" r="1.1" fill="#f02828"/>
<line x1="72.20" y1="492.36" x2="72.20" y2="495.80" stroke="#f02828" stroke-width="0.8" />
<line x1="69.60" y1="492.36" x2="74.80" y2="492.36" stroke="#f02828" stroke-width="0.8" />
<line x1="69.60" y1="495.80" x2="74.80" y2="495.80" stroke="#f02828" stroke-width="0.8" />
<line x1="69.60" y1="494.08" x2="74.80" y2="494.08" stroke="#f02828" stroke-width="0.8" />
<rect x="80.40" y="516.44" width="8.60" height="30.96" fill="#9ea6f5" />
<circle cx="84.70" cy="506.98" r="1.1" fill="#2448e6"/>
<circle cx="84.70" cy="511.28" r="1.1" fill="#2448e6"/>
<circle cx="84.70" cy="516.44" r="1.1" fill="#2448e6"/>
<circle cx="84.70" cy="519.88" r="1.1" fill="#2448e6"/>
<circle cx="84.70" cy="523.32" r="1.1" fill="#2448e6"/>
<circle cx="84.81" cy="525.04" r="1.1" fill="#2448e6"/>
<line x1="84.70" y1="512.14" x2="84.70" y2="520.74" stroke="#2448e6" stroke-width="0.8" />
<line x1="82.10" y1="512.14" x2="87.30" y2="512.14" stroke="#2448e6" stroke-width="0.8" />
<line x1="82.10" y1="520.74" x2="87.30" y2="520.74" stroke="#2448e6" stroke-width="0.8" />
<line x1="82.10" y1="516.44" x2="87.30" y2="516.44" stroke="#2448e6" stroke-width="0.8" />
<path d="M55,549.6 L55,552 L64.4,552 L64.4,549.6" stroke="#222" fill="none" stroke-width="0.8" />
<path d="M69.4,549.6 L69.4,552 L88,552 L88,549.6" stroke="#222" fill="none" stroke-width="0.8" />
<text x="59.60" y="561.00" font-size="7.6" text-anchor="middle" stroke="#000" stroke-width="0.18" >HC</text>
<text x="78.40" y="561.00" font-size="7.6" text-anchor="middle" stroke="#000" stroke-width="0.18" >SLE</text>
<line x1="59.40" y1="478.50" x2="72.40" y2="478.50" stroke="#222" stroke-width="1.05" />
<text x="65.50" y="474.40" font-size="6.6" text-anchor="middle" stroke="#000" stroke-width="0.18" >p = 0.0030</text>
<line x1="72.00" y1="488.50" x2="85.00" y2="488.50" stroke="#222" stroke-width="1.05" />
<text x="78.30" y="484.40" font-size="6.6" text-anchor="middle" stroke="#000" stroke-width="0.18" >p = 0.0056</text>
<text transform="translate(34.74,512.00) rotate(-90)" font-size="7.6" text-anchor="middle" stroke="#000" stroke-width="0.18" >mmol/g prot</text>
<text x="114.00" y="440.00" font-size="13" text-anchor="start" font-weight="bold" >o</text>
<circle cx="195.60" cy="448.40" r="0.9" fill="#3a8ef0"/>
<text x="203.60" y="451.00" font-size="7.6" text-anchor="start" stroke="#000" stroke-width="0.18" >HC</text>
<circle cx="237.00" cy="448.40" r="0.9" fill="#f02828"/>
<text x="245.00" y="451.00" font-size="7.6" text-anchor="start" stroke="#000" stroke-width="0.18" >SLE</text>
<text x="228.00" y="464.40" font-size="7.6" text-anchor="middle" stroke="#000" stroke-width="0.18" >Lactate</text>
<line x1="174.50" y1="475.50" x2="174.50" y2="546.00" stroke="#222" stroke-width="1.1" />
<line x1="171.90" y1="546.00" x2="174.50" y2="546.00" stroke="#222" stroke-width="1.1" />
<text x="170.90" y="548.84" font-size="7.9" text-anchor="end" stroke="#000" stroke-width="0.18" >0.0</text>
<line x1="171.90" y1="522.50" x2="174.50" y2="522.50" stroke="#222" stroke-width="1.1" />
<text x="170.90" y="525.34" font-size="7.9" text-anchor="end" stroke="#000" stroke-width="0.18" >5.0×10<tspan font-size="4.6" dy="-2.8">5</tspan></text>
<line x1="171.90" y1="499.00" x2="174.50" y2="499.00" stroke="#222" stroke-width="1.1" />
<text x="170.90" y="501.84" font-size="7.9" text-anchor="end" stroke="#000" stroke-width="0.18" >1.0×10<tspan font-size="4.6" dy="-2.8">6</tspan></text>
<line x1="171.90" y1="475.50" x2="174.50" y2="475.50" stroke="#222" stroke-width="1.1" />
<text x="170.90" y="478.34" font-size="7.9" text-anchor="end" stroke="#000" stroke-width="0.18" >1.5×10<tspan font-size="4.6" dy="-2.8">6</tspan></text>
<line x1="173.95" y1="546.50" x2="281.00" y2="546.50" stroke="#222" stroke-width="1.1" />
<line x1="190.60" y1="546.00" x2="190.60" y2="548.00" stroke="#222" stroke-width="1.1" />
<line x1="228.00" y1="546.00" x2="228.00" y2="548.00" stroke="#222" stroke-width="1.1" />
<line x1="264.40" y1="546.00" x2="264.40" y2="548.00" stroke="#222" stroke-width="1.1" />
<rect x="179.60" y="517.80" width="9.40" height="28.20" fill="#c6dcf5" />
<circle cx="184.30" cy="510.75" r="1.1" fill="#3a8ef0"/>
<circle cx="183.23" cy="513.10" r="1.1" fill="#3a8ef0"/>
<circle cx="186.12" cy="515.45" r="1.1" fill="#3a8ef0"/>
<circle cx="184.30" cy="520.15" r="1.1" fill="#3a8ef0"/>
<circle cx="186.85" cy="522.50" r="1.1" fill="#3a8ef0"/>
<line x1="184.30" y1="515.45" x2="184.30" y2="520.15" stroke="#3a8ef0" stroke-width="0.8" />
<line x1="181.70" y1="515.45" x2="186.90" y2="515.45" stroke="#3a8ef0" stroke-width="0.8" />
<line x1="181.70" y1="520.15" x2="186.90" y2="520.15" stroke="#3a8ef0" stroke-width="0.8" />
<line x1="181.70" y1="517.80" x2="186.90" y2="517.80" stroke="#3a8ef0" stroke-width="0.8" />
<rect x="193.00" y="514.51" width="9.60" height="31.49" fill="#f9a3a3" />
<circle cx="197.80" cy="482.55" r="1.1" fill="#f02828"/>
<circle cx="197.80" cy="515.45" r="1.1" fill="#f02828"/>
<circle cx="197.80" cy="520.15" r="1.1" fill="#f02828"/>
<circle cx="200.45" cy="522.50" r="1.1" fill="#f02828"/>
<circle cx="197.80" cy="524.85" r="1.1" fill="#f02828"/>
<line x1="197.80" y1="506.05" x2="197.80" y2="522.97" stroke="#f02828" stroke-width="0.8" />
<line x1="195.20" y1="506.05" x2="200.40" y2="506.05" stroke="#f02828" stroke-width="0.8" />
<line x1="195.20" y1="522.97" x2="200.40" y2="522.97" stroke="#f02828" stroke-width="0.8" />
<line x1="195.20" y1="514.51" x2="200.40" y2="514.51" stroke="#f02828" stroke-width="0.8" />
<rect x="216.40" y="540.36" width="9.20" height="5.64" fill="#c6dcf5" />
<circle cx="221.00" cy="538.95" r="1.1" fill="#3a8ef0"/>
<circle cx="217.73" cy="539.89" r="1.1" fill="#3a8ef0"/>
<circle cx="218.08" cy="540.36" r="1.1" fill="#3a8ef0"/>
<circle cx="218.08" cy="541.30" r="1.1" fill="#3a8ef0"/>
<circle cx="222.81" cy="541.77" r="1.1" fill="#3a8ef0"/>
<line x1="221.00" y1="539.42" x2="221.00" y2="541.30" stroke="#3a8ef0" stroke-width="0.8" />
<line x1="218.40" y1="539.42" x2="223.60" y2="539.42" stroke="#3a8ef0" stroke-width="0.8" />
<line x1="218.40" y1="541.30" x2="223.60" y2="541.30" stroke="#3a8ef0" stroke-width="0.8" />
<line x1="218.40" y1="540.36" x2="223.60" y2="540.36" stroke="#3a8ef0" stroke-width="0.8" />
<rect x="230.00" y="534.25" width="9.60" height="11.75" fill="#f9a3a3" />
<circle cx="234.80" cy="523.44" r="1.1" fill="#f02828"/>
<circle cx="234.80" cy="533.31" r="1.1" fill="#f02828"/>
<circle cx="231.35" cy="534.25" r="1.1" fill="#f02828"/>
<circle cx="234.03" cy="535.66" r="1.1" fill="#f02828"/>
<circle cx="236.79" cy="536.60" r="1.1" fill="#f02828"/>
<line x1="234.80" y1="531.43" x2="234.80" y2="537.07" stroke="#f02828" stroke-width="0.8" />
<line x1="232.20" y1="531.43" x2="237.40" y2="531.43" stroke="#f02828" stroke-width="0.8" />
<line x1="232.20" y1="537.07" x2="237.40" y2="537.07" stroke="#f02828" stroke-width="0.8" />
<line x1="232.20" y1="534.25" x2="237.40" y2="534.25" stroke="#f02828" stroke-width="0.8" />
<rect x="253.00" y="540.83" width="9.40" height="5.17" fill="#c6dcf5" />
<circle cx="257.70" cy="538.95" r="1.1" fill="#3a8ef0"/>
<circle cx="254.80" cy="539.89" r="1.1" fill="#3a8ef0"/>
<circle cx="260.96" cy="540.83" r="1.1" fill="#3a8ef0"/>
<circle cx="258.19" cy="541.77" r="1.1" fill="#3a8ef0"/>
<circle cx="259.98" cy="542.24" r="1.1" fill="#3a8ef0"/>
<line x1="257.70" y1="539.89" x2="257.70" y2="541.77" stroke="#3a8ef0" stroke-width="0.8" />
<line x1="255.10" y1="539.89" x2="260.30" y2="539.89" stroke="#3a8ef0" stroke-width="0.8" />
<line x1="255.10" y1="541.77" x2="260.30" y2="541.77" stroke="#3a8ef0" stroke-width="0.8" />
<line x1="255.10" y1="540.83" x2="260.30" y2="540.83" stroke="#3a8ef0" stroke-width="0.8" />
<rect x="267.40" y="524.85" width="9.20" height="21.15" fill="#f9a3a3" />
<circle cx="272.00" cy="506.99" r="1.1" fill="#f02828"/>
<circle cx="272.00" cy="524.38" r="1.1" fill="#f02828"/>
<circle cx="272.55" cy="525.79" r="1.1" fill="#f02828"/>
<circle cx="270.19" cy="528.14" r="1.1" fill="#f02828"/>
<circle cx="273.81" cy="529.55" r="1.1" fill="#f02828"/>
<line x1="272.00" y1="520.15" x2="272.00" y2="529.55" stroke="#f02828" stroke-width="0.8" />
<line x1="269.40" y1="520.15" x2="274.60" y2="520.15" stroke="#f02828" stroke-width="0.8" />
<line x1="269.40" y1="529.55" x2="274.60" y2="529.55" stroke="#f02828" stroke-width="0.8" />
<line x1="269.40" y1="524.85" x2="274.60" y2="524.85" stroke="#f02828" stroke-width="0.8" />
<text x="190.60" y="556.00" font-size="7.6" text-anchor="middle" stroke="#000" stroke-width="0.18" >M+1</text>
<text x="228.00" y="556.00" font-size="7.6" text-anchor="middle" stroke="#000" stroke-width="0.18" >M+2</text>
<text x="264.40" y="556.00" font-size="7.6" text-anchor="middle" stroke="#000" stroke-width="0.18" >M+3</text>
<line x1="185.00" y1="477.50" x2="198.00" y2="477.50" stroke="#222" stroke-width="1.05" />
<text x="191.30" y="473.60" font-size="6.6" text-anchor="middle" stroke="#000" stroke-width="0.18" >p = 0.6158</text>
<line x1="223.00" y1="510.50" x2="236.00" y2="510.50" stroke="#222" stroke-width="1.05" />
<text x="229.30" y="507.00" font-size="6.6" text-anchor="middle" stroke="#000" stroke-width="0.18" >p = 0.0430</text>
<line x1="259.00" y1="497.50" x2="272.00" y2="497.50" stroke="#222" stroke-width="1.05" />
<text x="265.30" y="493.00" font-size="6.6" text-anchor="middle" stroke="#000" stroke-width="0.18" >p = 0.0224</text>
<text transform="translate(136.34,509.00) rotate(-90)" font-size="7.6" text-anchor="middle" stroke="#000" stroke-width="0.18" >Relative abundance</text>
<text x="308.00" y="440.00" font-size="13" text-anchor="start" font-weight="bold" >p</text>
<rect x="338.00" y="442.00" width="6.00" height="5.00" fill="#f9a3a3" />
<text x="346.60" y="447.00" font-size="7.6" text-anchor="start" stroke="#000" stroke-width="0.18" >MC-shNC</text>
<rect x="338.00" y="453.00" width="6.00" height="5.00" fill="#9a9a9a" />
<text x="346.60" y="458.00" font-size="7.6" text-anchor="start" stroke="#000" stroke-width="0.18" >MC-shMCT4 #1</text>
<text x="367.60" y="470.60" font-size="7.6" text-anchor="middle" stroke="#000" stroke-width="0.18" >Lactic acid</text>
<line x1="346.50" y1="479.42" x2="346.50" y2="548.00" stroke="#222" stroke-width="1.1" />
<line x1="343.90" y1="548.00" x2="346.50" y2="548.00" stroke="#222" stroke-width="1.1" />
<text x="342.90" y="550.84" font-size="7.9" text-anchor="end" stroke="#000" stroke-width="0.18" >0.0</text>
<line x1="343.90" y1="525.14" x2="346.50" y2="525.14" stroke="#222" stroke-width="1.1" />
<text x="342.90" y="527.98" font-size="7.9" text-anchor="end" stroke="#000" stroke-width="0.18" >0.2</text>
<line x1="343.90" y1="502.28" x2="346.50" y2="502.28" stroke="#222" stroke-width="1.1" />
<text x="342.90" y="505.12" font-size="7.9" text-anchor="end" stroke="#000" stroke-width="0.18" >0.4</text>
<line x1="343.90" y1="479.42" x2="346.50" y2="479.42" stroke="#222" stroke-width="1.1" />
<text x="342.90" y="482.26" font-size="7.9" text-anchor="end" stroke="#000" stroke-width="0.18" >0.6</text>
<line x1="345.95" y1="548.50" x2="388.00" y2="548.50" stroke="#222" stroke-width="1.1" />
<rect x="352.60" y="501.14" width="11.80" height="46.86" fill="#f9a3a3" />
<circle cx="358.50" cy="494.28" r="1.1" fill="#f02828"/>
<circle cx="358.50" cy="498.85" r="1.1" fill="#f02828"/>
<circle cx="362.13" cy="499.99" r="1.1" fill="#f02828"/>
<circle cx="354.87" cy="501.14" r="1.1" fill="#f02828"/>
<circle cx="358.50" cy="502.28" r="1.1" fill="#f02828"/>
<circle cx="362.13" cy="504.57" r="1.1" fill="#f02828"/>
<circle cx="358.50" cy="505.71" r="1.1" fill="#f02828"/>
<line x1="358.50" y1="498.85" x2="358.50" y2="503.42" stroke="#f02828" stroke-width="0.8" />
<line x1="355.90" y1="498.85" x2="361.10" y2="498.85" stroke="#f02828" stroke-width="0.8" />
<line x1="355.90" y1="503.42" x2="361.10" y2="503.42" stroke="#f02828" stroke-width="0.8" />
<line x1="355.90" y1="501.14" x2="361.10" y2="501.14" stroke="#f02828" stroke-width="0.8" />
<rect x="370.40" y="523.43" width="12.00" height="24.57" fill="#9a9a9a" />
<circle cx="376.40" cy="510.28" r="1.1" fill="#6a6a6a"/>
<circle cx="376.40" cy="520.57" r="1.1" fill="#6a6a6a"/>
<circle cx="380.03" cy="522.85" r="1.1" fill="#6a6a6a"/>
<circle cx="376.40" cy="525.14" r="1.1" fill="#6a6a6a"/>
<circle cx="376.40" cy="528.57" r="1.1" fill="#6a6a6a"/>
<circle cx="380.03" cy="530.86" r="1.1" fill="#6a6a6a"/>
<line x1="376.40" y1="520.00" x2="376.40" y2="526.85" stroke="#6a6a6a" stroke-width="0.8" />
<line x1="373.80" y1="520.00" x2="379.00" y2="520.00" stroke="#6a6a6a" stroke-width="0.8" />
<line x1="373.80" y1="526.85" x2="379.00" y2="526.85" stroke="#6a6a6a" stroke-width="0.8" />
<line x1="373.80" y1="523.43" x2="379.00" y2="523.43" stroke="#6a6a6a" stroke-width="0.8" />
<line x1="358.00" y1="486.50" x2="377.00" y2="486.50" stroke="#222" stroke-width="1.05" />
<text x="367.40" y="483.00" font-size="6.6" text-anchor="middle" stroke="#000" stroke-width="0.18" >p = 0.0001</text>
<text x="366.60" y="558.00" font-size="7.6" text-anchor="middle" stroke="#000" stroke-width="0.18" >SLE plasma</text>
<text transform="translate(328.74,513.00) rotate(-90)" font-size="7.6" text-anchor="middle" stroke="#000" stroke-width="0.18" >mmol/g prot</text>
<text x="412.40" y="440.00" font-size="13" text-anchor="start" font-weight="bold" >q</text>
<rect x="466.00" y="442.00" width="5.60" height="5.00" fill="#f9a3a3" />
<text x="473.60" y="447.00" font-size="7.6" text-anchor="start" stroke="#000" stroke-width="0.18" >MC-shNC</text>
<rect x="466.00" y="453.00" width="5.60" height="5.00" fill="#9a9a9a" />
<text x="473.60" y="458.00" font-size="7.6" text-anchor="start" stroke="#000" stroke-width="0.18" >MC-shMCT4 #1</text>
<line x1="445.50" y1="479.36" x2="445.50" y2="548.60" stroke="#222" stroke-width="1.1" />
<line x1="442.90" y1="548.60" x2="445.50" y2="548.60" stroke="#222" stroke-width="1.1" />
<text x="441.90" y="551.44" font-size="7.9" text-anchor="end" stroke="#000" stroke-width="0.18" >0</text>
<line x1="442.90" y1="525.52" x2="445.50" y2="525.52" stroke="#222" stroke-width="1.1" />
<text x="441.90" y="528.36" font-size="7.9" text-anchor="end" stroke="#000" stroke-width="0.18" >4</text>
<line x1="442.90" y1="502.44" x2="445.50" y2="502.44" stroke="#222" stroke-width="1.1" />
<text x="441.90" y="505.28" font-size="7.9" text-anchor="end" stroke="#000" stroke-width="0.18" >8</text>
<line x1="442.90" y1="479.36" x2="445.50" y2="479.36" stroke="#222" stroke-width="1.1" />
<text x="441.90" y="482.20" font-size="7.9" text-anchor="end" stroke="#000" stroke-width="0.18" >12</text>
<line x1="444.95" y1="548.50" x2="487.00" y2="548.50" stroke="#222" stroke-width="1.1" />
<rect x="452.00" y="502.44" width="11.60" height="46.16" fill="#f9a3a3" />
<circle cx="457.80" cy="495.52" r="1.1" fill="#f02828"/>
<circle cx="461.43" cy="495.52" r="1.1" fill="#f02828"/>
<circle cx="457.80" cy="499.56" r="1.1" fill="#f02828"/>
<circle cx="459.62" cy="502.44" r="1.1" fill="#f02828"/>
<circle cx="457.80" cy="505.33" r="1.1" fill="#f02828"/>
<circle cx="457.80" cy="509.36" r="1.1" fill="#f02828"/>
<line x1="457.80" y1="499.56" x2="457.80" y2="505.33" stroke="#f02828" stroke-width="0.8" />
<line x1="455.20" y1="499.56" x2="460.40" y2="499.56" stroke="#f02828" stroke-width="0.8" />
<line x1="455.20" y1="505.33" x2="460.40" y2="505.33" stroke="#f02828" stroke-width="0.8" />
<line x1="455.20" y1="502.44" x2="460.40" y2="502.44" stroke="#f02828" stroke-width="0.8" />
<rect x="469.60" y="532.44" width="11.40" height="16.16" fill="#9a9a9a" />
<circle cx="475.30" cy="524.37" r="1.1" fill="#6a6a6a"/>
<circle cx="478.93" cy="524.37" r="1.1" fill="#6a6a6a"/>
<circle cx="475.30" cy="531.29" r="1.1" fill="#6a6a6a"/>
<circle cx="478.93" cy="533.02" r="1.1" fill="#6a6a6a"/>
<circle cx="475.30" cy="535.33" r="1.1" fill="#6a6a6a"/>
<circle cx="478.93" cy="537.06" r="1.1" fill="#6a6a6a"/>
<line x1="475.30" y1="529.56" x2="475.30" y2="535.33" stroke="#6a6a6a" stroke-width="0.8" />
<line x1="472.70" y1="529.56" x2="477.90" y2="529.56" stroke="#6a6a6a" stroke-width="0.8" />
<line x1="472.70" y1="535.33" x2="477.90" y2="535.33" stroke="#6a6a6a" stroke-width="0.8" />
<line x1="472.70" y1="532.44" x2="477.90" y2="532.44" stroke="#6a6a6a" stroke-width="0.8" />
<line x1="457.00" y1="486.50" x2="476.00" y2="486.50" stroke="#222" stroke-width="1.05" />
<text x="466.40" y="483.00" font-size="6.6" text-anchor="middle" stroke="#000" stroke-width="0.18" >p = 0.0001</text>
<text x="466.00" y="558.00" font-size="7.6" text-anchor="middle" stroke="#000" stroke-width="0.18" >SLE plasma</text>
<text transform="translate(430.74,513.00) rotate(-90)" font-size="7.6" text-anchor="middle" stroke="#000" stroke-width="0.18" >BCL6 (% CD4)</text>
<line x1="522.50" y1="479.36" x2="522.50" y2="548.60" stroke="#222" stroke-width="1.1" />
<line x1="519.90" y1="548.60" x2="522.50" y2="548.60" stroke="#222" stroke-width="1.1" />
<text x="518.90" y="551.44" font-size="7.9" text-anchor="end" stroke="#000" stroke-width="0.18" >0</text>
<line x1="519.90" y1="525.52" x2="522.50" y2="525.52" stroke="#222" stroke-width="1.1" />
<text x="518.90" y="528.36" font-size="7.9" text-anchor="end" stroke="#000" stroke-width="0.18" >4</text>
<line x1="519.90" y1="502.44" x2="522.50" y2="502.44" stroke="#222" stroke-width="1.1" />
<text x="518.90" y="505.28" font-size="7.9" text-anchor="end" stroke="#000" stroke-width="0.18" >8</text>
<line x1="519.90" y1="479.36" x2="522.50" y2="479.36" stroke="#222" stroke-width="1.1" />
<text x="518.90" y="482.20" font-size="7.9" text-anchor="end" stroke="#000" stroke-width="0.18" >12</text>
<line x1="521.95" y1="548.50" x2="564.40" y2="548.50" stroke="#222" stroke-width="1.1" />
<rect x="529.00" y="498.98" width="12.00" height="49.62" fill="#f9a3a3" />
<circle cx="535.00" cy="491.48" r="1.1" fill="#f02828"/>
<circle cx="538.63" cy="493.79" r="1.1" fill="#f02828"/>
<circle cx="535.00" cy="495.52" r="1.1" fill="#f02828"/>
<circle cx="538.63" cy="497.82" r="1.1" fill="#f02828"/>
<circle cx="535.00" cy="501.29" r="1.1" fill="#f02828"/>
<circle cx="535.00" cy="505.33" r="1.1" fill="#f02828"/>
<circle cx="536.82" cy="508.21" r="1.1" fill="#f02828"/>
<line x1="535.00" y1="496.67" x2="535.00" y2="501.29" stroke="#f02828" stroke-width="0.8" />
<line x1="532.40" y1="496.67" x2="537.60" y2="496.67" stroke="#f02828" stroke-width="0.8" />
<line x1="532.40" y1="501.29" x2="537.60" y2="501.29" stroke="#f02828" stroke-width="0.8" />
<line x1="532.40" y1="498.98" x2="537.60" y2="498.98" stroke="#f02828" stroke-width="0.8" />
<rect x="547.00" y="529.56" width="12.00" height="19.04" fill="#9a9a9a" />
<circle cx="553.00" cy="519.75" r="1.1" fill="#6a6a6a"/>
<circle cx="553.00" cy="526.67" r="1.1" fill="#6a6a6a"/>
<circle cx="556.63" cy="528.40" r="1.1" fill="#6a6a6a"/>
<circle cx="553.00" cy="531.29" r="1.1" fill="#6a6a6a"/>
<circle cx="554.82" cy="534.18" r="1.1" fill="#6a6a6a"/>
<circle cx="551.18" cy="535.91" r="1.1" fill="#6a6a6a"/>
<line x1="553.00" y1="526.67" x2="553.00" y2="532.44" stroke="#6a6a6a" stroke-width="0.8" />
<line x1="550.40" y1="526.67" x2="555.60" y2="526.67" stroke="#6a6a6a" stroke-width="0.8" />
<line x1="550.40" y1="532.44" x2="555.60" y2="532.44" stroke="#6a6a6a" stroke-width="0.8" />
<line x1="550.40" y1="529.56" x2="555.60" y2="529.56" stroke="#6a6a6a" stroke-width="0.8" />
<line x1="535.00" y1="483.50" x2="553.00" y2="483.50" stroke="#222" stroke-width="1.05" />
<text x="543.50" y="480.60" font-size="6.6" text-anchor="middle" stroke="#000" stroke-width="0.18" >p = 0.0008</text>
<text x="543.00" y="558.00" font-size="7.6" text-anchor="middle" stroke="#000" stroke-width="0.18" >SLE plasma</text>
<text transform="translate(507.74,513.00) rotate(-90)" font-size="7.6" text-anchor="middle" stroke="#000" stroke-width="0.18" >CXCR5<tspan font-size="4.6" dy="-2.6">hi</tspan><tspan dy="2.6">PD-1</tspan><tspan font-size="4.6" dy="-2.6">hi</tspan><tspan dy="2.6">(% CD4)</tspan></text>
<text x="585.00" y="440.00" font-size="13" text-anchor="start" font-weight="bold" >r</text>
<text x="646.60" y="459.00" font-size="8.0" text-anchor="middle" stroke="#000" stroke-width="0.18" >SLE plasma</text>
<line x1="621.00" y1="462.50" x2="672.00" y2="462.50" stroke="#222" stroke-width="0.8" />
<text transform="translate(636.88,502.40) rotate(-90)" font-size="8.0" text-anchor="start" stroke="#000" stroke-width="0.18" >siNC</text>
<text transform="translate(662.88,502.40) rotate(-90)" font-size="8.0" text-anchor="start" stroke="#000" stroke-width="0.18" >siMCT4 #1</text>
<text x="616.00" y="502.00" font-size="8.0" text-anchor="end" stroke="#000" stroke-width="0.18" >MC</text>
<text x="673.60" y="503.00" font-size="6.8" text-anchor="start" stroke="#000" stroke-width="0.18" >kDa</text>
<rect x="622.20" y="505.60" width="47.50" height="17.40" fill="#d2d2d2" />
<rect x="622.20" y="505.60" width="22.40" height="17.40" fill="#1e1e1e" />
<defs><clipPath id="rl1"><rect x="622.2" y="505.6" width="22.4" height="17.4"/></clipPath></defs><g clip-path="url(#rl1)">
<path d="M627,505.6 L640,505.6 L633.5,513.5 Z" fill="#808080" filter="url(#bl2)"/>
<path d="M627,523 L640,523 L633.5,515.5 Z" fill="#6a6a6a" filter="url(#bl2)"/>
</g>
<defs><linearGradient id="vg10" x1="0" y1="0" x2="0" y2="1"><stop offset="0" stop-color="#b4b4b4"/><stop offset="0.5" stop-color="#a8a8a8"/><stop offset="1" stop-color="#bababa"/></linearGradient></defs>
<rect x="650.30" y="505.60" width="18.90" height="17.40" fill="url(#vg10)" />
<rect x="650.60" y="506.50" width="2.90" height="15.00" rx="1.00" fill="#7a7a7a" filter="url(#bl2)"/>
<rect x="655.00" y="508.50" width="13.00" height="4.00" rx="2.00" fill="#989898" filter="url(#bl2)"/>
<rect x="655.00" y="515.00" width="13.00" height="4.00" rx="2.00" fill="#a0a0a0" filter="url(#bl2)"/>
<text x="616.00" y="519.00" font-size="8.0" text-anchor="end" stroke="#000" stroke-width="0.18" >BCL6</text>
<text x="673.60" y="522.00" font-size="6.8" text-anchor="start" stroke="#000" stroke-width="0.18" >70</text>
<rect x="622.20" y="526.00" width="47.50" height="19.00" fill="#eeeeee" />
<rect x="624.70" y="533.00" width="18.90" height="5.20" rx="2.60" fill="#050505" filter="url(#bl1)"/>
<rect x="648.20" y="532.80" width="18.90" height="5.20" rx="2.60" fill="#050505" filter="url(#bl1)"/>
<text x="616.00" y="540.00" font-size="8.0" text-anchor="end" stroke="#000" stroke-width="0.18" >β-actin</text>
<text x="673.60" y="543.00" font-size="6.8" text-anchor="start" stroke="#000" stroke-width="0.18" >40</text>
<text x="1.00" y="592.40" font-size="13" text-anchor="start" font-weight="bold" >s</text>
<rect x="18.40" y="597.00" width="5.60" height="5.00" fill="#f9a3a3" />
<text x="27.00" y="602.40" font-size="7.6" text-anchor="start" stroke="#000" stroke-width="0.18" >CD4<tspan font-size="4.8" dy="-2.8">+</tspan><tspan dy="2.8"> T-shNC</tspan></text>
<rect x="18.40" y="608.00" width="5.60" height="5.00" fill="#d6d6d6" />
<text x="27.00" y="613.60" font-size="7.6" text-anchor="start" stroke="#000" stroke-width="0.18" >CD4<tspan font-size="4.8" dy="-2.8">+</tspan><tspan dy="2.8"> T-shMCT1 #1</tspan></text>
<text x="57.60" y="625.60" font-size="7.6" text-anchor="middle" stroke="#000" stroke-width="0.18" >Lactic acid</text>
<line x1="36.50" y1="632.40" x2="36.50" y2="701.00" stroke="#222" stroke-width="1.1" />
<line x1="33.90" y1="701.00" x2="36.50" y2="701.00" stroke="#222" stroke-width="1.1" />
<text x="32.90" y="703.84" font-size="7.9" text-anchor="end" stroke="#000" stroke-width="0.18" >0.0</text>
<line x1="33.90" y1="687.28" x2="36.50" y2="687.28" stroke="#222" stroke-width="1.1" />
<text x="32.90" y="690.12" font-size="7.9" text-anchor="end" stroke="#000" stroke-width="0.18" >0.1</text>
<line x1="33.90" y1="673.56" x2="36.50" y2="673.56" stroke="#222" stroke-width="1.1" />
<text x="32.90" y="676.40" font-size="7.9" text-anchor="end" stroke="#000" stroke-width="0.18" >0.2</text>
<line x1="33.90" y1="659.84" x2="36.50" y2="659.84" stroke="#222" stroke-width="1.1" />
<text x="32.90" y="662.68" font-size="7.9" text-anchor="end" stroke="#000" stroke-width="0.18" >0.3</text>
<line x1="33.90" y1="646.12" x2="36.50" y2="646.12" stroke="#222" stroke-width="1.1" />
<text x="32.90" y="648.96" font-size="7.9" text-anchor="end" stroke="#000" stroke-width="0.18" >0.4</text>
<line x1="33.90" y1="632.40" x2="36.50" y2="632.40" stroke="#222" stroke-width="1.1" />
<text x="32.90" y="635.24" font-size="7.9" text-anchor="end" stroke="#000" stroke-width="0.18" >0.5</text>
<line x1="35.95" y1="701.50" x2="77.60" y2="701.50" stroke="#222" stroke-width="1.1" />
<rect x="42.40" y="647.77" width="12.00" height="53.23" fill="#f9a3a3" />
<circle cx="48.40" cy="642.00" r="1.1" fill="#f02828"/>
<circle cx="52.03" cy="643.38" r="1.1" fill="#f02828"/>
<circle cx="48.40" cy="646.12" r="1.1" fill="#f02828"/>
<circle cx="52.03" cy="647.49" r="1.1" fill="#f02828"/>
<circle cx="48.40" cy="650.24" r="1.1" fill="#f02828"/>
<circle cx="52.03" cy="651.61" r="1.1" fill="#f02828"/>
<line x1="48.40" y1="645.71" x2="48.40" y2="649.82" stroke="#f02828" stroke-width="0.8" />
<line x1="45.80" y1="645.71" x2="51.00" y2="645.71" stroke="#f02828" stroke-width="0.8" />
<line x1="45.80" y1="649.82" x2="51.00" y2="649.82" stroke="#f02828" stroke-width="0.8" />
<line x1="45.80" y1="647.77" x2="51.00" y2="647.77" stroke="#f02828" stroke-width="0.8" />
<rect x="60.00" y="668.07" width="12.00" height="32.93" fill="#d6d6d6" />
<circle cx="66.00" cy="659.84" r="1.1" fill="#666"/>
<circle cx="66.00" cy="663.96" r="1.1" fill="#666"/>
<circle cx="69.63" cy="666.70" r="1.1" fill="#666"/>
<circle cx="66.00" cy="669.44" r="1.1" fill="#666"/>
<circle cx="69.63" cy="670.82" r="1.1" fill="#666"/>
<circle cx="62.37" cy="672.19" r="1.1" fill="#666"/>
<line x1="66.00" y1="665.33" x2="66.00" y2="670.82" stroke="#666" stroke-width="0.8" />
<line x1="63.40" y1="665.33" x2="68.60" y2="665.33" stroke="#666" stroke-width="0.8" />
<line x1="63.40" y1="670.82" x2="68.60" y2="670.82" stroke="#666" stroke-width="0.8" />
<line x1="63.40" y1="668.07" x2="68.60" y2="668.07" stroke="#666" stroke-width="0.8" />
<line x1="48.00" y1="638.50" x2="66.60" y2="638.50" stroke="#222" stroke-width="1.05" />
<text x="57.00" y="635.00" font-size="6.6" text-anchor="middle" stroke="#000" stroke-width="0.18" >p = 0.0021</text>
<text x="57.00" y="711.00" font-size="7.6" text-anchor="middle" stroke="#000" stroke-width="0.18" >SLE plasma</text>
<text transform="translate(19.74,666.00) rotate(-90)" font-size="7.6" text-anchor="middle" stroke="#000" stroke-width="0.18" >mmol/g prot</text>
<text x="114.00" y="592.40" font-size="13" text-anchor="start" font-weight="bold" >t</text>
<rect x="154.00" y="597.00" width="5.60" height="5.00" fill="#f9a3a3" />
<text x="162.40" y="602.40" font-size="7.6" text-anchor="start" stroke="#000" stroke-width="0.18" >CD4<tspan font-size="4.8" dy="-2.8">+</tspan><tspan dy="2.8"> T-shNC</tspan></text>
<rect x="154.00" y="608.00" width="5.60" height="5.00" fill="#d6d6d6" />
<text x="162.40" y="613.60" font-size="7.6" text-anchor="start" stroke="#000" stroke-width="0.18" >CD4<tspan font-size="4.8" dy="-2.8">+</tspan><tspan dy="2.8"> T-shMCT1 #1</tspan></text>
<line x1="134.50" y1="633.00" x2="134.50" y2="701.60" stroke="#222" stroke-width="1.1" />
<line x1="131.90" y1="701.60" x2="134.50" y2="701.60" stroke="#222" stroke-width="1.1" />
<text x="130.90" y="704.44" font-size="7.9" text-anchor="end" stroke="#000" stroke-width="0.18" >0</text>
<line x1="131.90" y1="678.74" x2="134.50" y2="678.74" stroke="#222" stroke-width="1.1" />
<text x="130.90" y="681.58" font-size="7.9" text-anchor="end" stroke="#000" stroke-width="0.18" >5</text>
<line x1="131.90" y1="655.87" x2="134.50" y2="655.87" stroke="#222" stroke-width="1.1" />
<text x="130.90" y="658.71" font-size="7.9" text-anchor="end" stroke="#000" stroke-width="0.18" >10</text>
<line x1="131.90" y1="633.00" x2="134.50" y2="633.00" stroke="#222" stroke-width="1.1" />
<text x="130.90" y="635.85" font-size="7.9" text-anchor="end" stroke="#000" stroke-width="0.18" >15</text>
<line x1="133.95" y1="701.50" x2="177.00" y2="701.50" stroke="#222" stroke-width="1.1" />
<rect x="141.60" y="658.16" width="12.00" height="43.44" fill="#f9a3a3" />
<circle cx="147.60" cy="645.81" r="1.1" fill="#f02828"/>
<circle cx="147.60" cy="654.50" r="1.1" fill="#f02828"/>
<circle cx="151.23" cy="656.78" r="1.1" fill="#f02828"/>
<circle cx="147.60" cy="660.44" r="1.1" fill="#f02828"/>
<circle cx="151.23" cy="662.73" r="1.1" fill="#f02828"/>
<circle cx="147.60" cy="667.30" r="1.1" fill="#f02828"/>
<line x1="147.60" y1="654.96" x2="147.60" y2="661.36" stroke="#f02828" stroke-width="0.8" />
<line x1="145.00" y1="654.96" x2="150.20" y2="654.96" stroke="#f02828" stroke-width="0.8" />
<line x1="145.00" y1="661.36" x2="150.20" y2="661.36" stroke="#f02828" stroke-width="0.8" />
<line x1="145.00" y1="658.16" x2="150.20" y2="658.16" stroke="#f02828" stroke-width="0.8" />
<rect x="159.40" y="682.85" width="12.00" height="18.75" fill="#d6d6d6" />
<circle cx="165.40" cy="676.45" r="1.1" fill="#666"/>
<circle cx="169.03" cy="677.82" r="1.1" fill="#666"/>
<circle cx="165.40" cy="682.39" r="1.1" fill="#666"/>
<circle cx="169.03" cy="684.22" r="1.1" fill="#666"/>
<circle cx="163.59" cy="685.59" r="1.1" fill="#666"/>
<circle cx="167.22" cy="687.88" r="1.1" fill="#666"/>
<line x1="165.40" y1="681.02" x2="165.40" y2="684.68" stroke="#666" stroke-width="0.8" />
<line x1="162.80" y1="681.02" x2="168.00" y2="681.02" stroke="#666" stroke-width="0.8" />
<line x1="162.80" y1="684.68" x2="168.00" y2="684.68" stroke="#666" stroke-width="0.8" />
<line x1="162.80" y1="682.85" x2="168.00" y2="682.85" stroke="#666" stroke-width="0.8" />
<line x1="147.00" y1="641.50" x2="166.00" y2="641.50" stroke="#222" stroke-width="1.05" />
<text x="156.00" y="637.60" font-size="6.6" text-anchor="middle" stroke="#000" stroke-width="0.18" >p &lt; 0.0001</text>
<text x="156.00" y="711.00" font-size="7.6" text-anchor="middle" stroke="#000" stroke-width="0.18" >SLE plasma</text>
<text transform="translate(120.74,666.00) rotate(-90)" font-size="7.6" text-anchor="middle" stroke="#000" stroke-width="0.18" >BCL6 (%CD4)</text>
<line x1="216.50" y1="633.00" x2="216.50" y2="701.60" stroke="#222" stroke-width="1.1" />
<line x1="213.90" y1="701.60" x2="216.50" y2="701.60" stroke="#222" stroke-width="1.1" />
<text x="212.90" y="704.44" font-size="7.9" text-anchor="end" stroke="#000" stroke-width="0.18" >0</text>
<line x1="213.90" y1="678.74" x2="216.50" y2="678.74" stroke="#222" stroke-width="1.1" />
<text x="212.90" y="681.58" font-size="7.9" text-anchor="end" stroke="#000" stroke-width="0.18" >5</text>
<line x1="213.90" y1="655.87" x2="216.50" y2="655.87" stroke="#222" stroke-width="1.1" />
<text x="212.90" y="658.71" font-size="7.9" text-anchor="end" stroke="#000" stroke-width="0.18" >10</text>
<line x1="213.90" y1="633.00" x2="216.50" y2="633.00" stroke="#222" stroke-width="1.1" />
<text x="212.90" y="635.85" font-size="7.9" text-anchor="end" stroke="#000" stroke-width="0.18" >15</text>
<line x1="215.95" y1="701.50" x2="259.00" y2="701.50" stroke="#222" stroke-width="1.1" />
<rect x="223.60" y="656.78" width="12.00" height="44.82" fill="#f9a3a3" />
<circle cx="229.60" cy="648.55" r="1.1" fill="#f02828"/>
<circle cx="229.60" cy="653.58" r="1.1" fill="#f02828"/>
<circle cx="233.23" cy="655.87" r="1.1" fill="#f02828"/>
<circle cx="229.60" cy="658.16" r="1.1" fill="#f02828"/>
<circle cx="229.60" cy="662.73" r="1.1" fill="#f02828"/>
<circle cx="229.60" cy="668.22" r="1.1" fill="#f02828"/>
<line x1="229.60" y1="654.04" x2="229.60" y2="659.53" stroke="#f02828" stroke-width="0.8" />
<line x1="227.00" y1="654.04" x2="232.20" y2="654.04" stroke="#f02828" stroke-width="0.8" />
<line x1="227.00" y1="659.53" x2="232.20" y2="659.53" stroke="#f02828" stroke-width="0.8" />
<line x1="227.00" y1="656.78" x2="232.20" y2="656.78" stroke="#f02828" stroke-width="0.8" />
<rect x="241.40" y="683.31" width="12.00" height="18.29" fill="#d6d6d6" />
<circle cx="247.40" cy="675.99" r="1.1" fill="#666"/>
<circle cx="251.03" cy="676.45" r="1.1" fill="#666"/>
<circle cx="247.40" cy="686.05" r="1.1" fill="#666"/>
<circle cx="251.03" cy="686.51" r="1.1" fill="#666"/>
<circle cx="243.77" cy="686.97" r="1.1" fill="#666"/>
<circle cx="245.61" cy="687.42" r="1.1" fill="#666"/>
<line x1="247.40" y1="680.56" x2="247.40" y2="686.05" stroke="#666" stroke-width="0.8" />
<line x1="244.80" y1="680.56" x2="250.00" y2="680.56" stroke="#666" stroke-width="0.8" />
<line x1="244.80" y1="686.05" x2="250.00" y2="686.05" stroke="#666" stroke-width="0.8" />
<line x1="244.80" y1="683.31" x2="250.00" y2="683.31" stroke="#666" stroke-width="0.8" />
<line x1="229.60" y1="639.50" x2="248.00" y2="639.50" stroke="#222" stroke-width="1.05" />
<text x="238.00" y="636.00" font-size="6.6" text-anchor="middle" stroke="#000" stroke-width="0.18" >p = 0.0001</text>
<text x="237.00" y="711.00" font-size="7.6" text-anchor="middle" stroke="#000" stroke-width="0.18" >SLE plasma</text>
<text transform="translate(202.74,666.00) rotate(-90)" font-size="7.6" text-anchor="middle" stroke="#000" stroke-width="0.18" >CXCR5<tspan font-size="4.6" dy="-2.6">hi</tspan><tspan dy="2.6">PD-1</tspan><tspan font-size="4.6" dy="-2.6">hi</tspan><tspan dy="2.6"> (% CD4)</tspan></text>
<text x="274.60" y="592.40" font-size="13" text-anchor="start" font-weight="bold" >u</text>
<text x="343.40" y="613.60" font-size="8.0" text-anchor="middle" stroke="#000" stroke-width="0.18" >SLE plasma</text>
<line x1="318.60" y1="617.50" x2="369.00" y2="617.50" stroke="#222" stroke-width="0.8" />
<text transform="translate(334.28,658.00) rotate(-90)" font-size="8.0" text-anchor="start" stroke="#000" stroke-width="0.18" >siNC</text>
<text transform="translate(359.88,658.00) rotate(-90)" font-size="8.0" text-anchor="start" stroke="#000" stroke-width="0.18" >siMCT1 #1</text>
<text x="315.00" y="656.00" font-size="8.0" text-anchor="end" stroke="#000" stroke-width="0.18" >CD4<tspan font-size="5" dy="-3">+</tspan><tspan dy="3"> T</tspan></text>
<text x="371.00" y="658.40" font-size="6.8" text-anchor="start" stroke="#000" stroke-width="0.18" >kDa</text>
<defs><linearGradient id="vg11" x1="0" y1="0" x2="0" y2="1"><stop offset="0" stop-color="#e4e4e4"/><stop offset="0.5" stop-color="#cfcfcf"/><stop offset="1" stop-color="#dedede"/></linearGradient></defs>
<rect x="319.40" y="660.30" width="49.00" height="17.50" fill="url(#vg11)" />
<path d="M324,668.8 C324,665.5 327,665.2 331,665.8 L338,666.2 C340.5,666.5 340.5,671.5 338,671.6 L331,672 C327,672.3 324,672 324,668.8 Z" fill="#000" filter="url(#bl1)"/>
<path d="M346.5,669 C346.5,666.6 349,666.6 351.5,667 L362,667.8 C363.8,668.2 363.8,670.4 362,670.6 L351.5,671.2 C349,671.6 346.5,671.6 346.5,669 Z" fill="#161616" filter="url(#bl1)"/>
<text x="315.00" y="673.00" font-size="8.0" text-anchor="end" stroke="#000" stroke-width="0.18" >BCL6</text>
<text x="371.40" y="677.00" font-size="6.8" text-anchor="start" stroke="#000" stroke-width="0.18" >70</text>
<defs><linearGradient id="vg12" x1="0" y1="0" x2="0" y2="1"><stop offset="0" stop-color="#d4d4d4"/><stop offset="0.5" stop-color="#cccccc"/><stop offset="1" stop-color="#dadada"/></linearGradient></defs>
<rect x="319.40" y="682.20" width="49.00" height="17.50" fill="url(#vg12)" />
<rect x="321.00" y="687.50" width="23.50" height="7.00" rx="3.50" fill="#020202" filter="url(#bl1)"/>
<rect x="343.00" y="687.40" width="24.60" height="6.40" rx="3.20" fill="#050505" filter="url(#bl1)"/>
<text x="315.00" y="695.00" font-size="8.0" text-anchor="end" stroke="#000" stroke-width="0.18" >β-actin</text>
<text x="371.40" y="698.40" font-size="6.8" text-anchor="start" stroke="#000" stroke-width="0.18" >40</text>
<text x="400.00" y="592.40" font-size="13" text-anchor="start" font-weight="bold" >v</text>
<rect x="469.00" y="604.40" width="7.00" height="7.20" fill="#a3a3a3" />
<text x="483.00" y="611.00" font-size="8.1" text-anchor="start" stroke="#000" stroke-width="0.18" ><tspan font-style="italic">Pdgfra</tspan>-Cre(-) <tspan font-style="italic">Ldha</tspan><tspan font-size="5.0" dy="-3.2" font-style="italic">fl/fl</tspan></text>
<rect x="569.00" y="604.40" width="8.00" height="7.20" fill="#1a8cf0" />
<text x="583.00" y="611.00" font-size="8.1" text-anchor="start" stroke="#000" stroke-width="0.18" ><tspan font-style="italic">Pdgfra</tspan>-Cre(+) <tspan font-style="italic">Ldha</tspan><tspan font-size="5.0" dy="-3.2" font-style="italic">fl/fl</tspan></text>
<line x1="456.50" y1="633.00" x2="456.50" y2="701.60" stroke="#222" stroke-width="1.1" />
<line x1="453.90" y1="701.60" x2="456.50" y2="701.60" stroke="#222" stroke-width="1.1" />
<text x="452.90" y="704.44" font-size="7.9" text-anchor="end" stroke="#000" stroke-width="0.18" >0</text>
<line x1="453.90" y1="678.74" x2="456.50" y2="678.74" stroke="#222" stroke-width="1.1" />
<text x="452.90" y="681.58" font-size="7.9" text-anchor="end" stroke="#000" stroke-width="0.18" >5</text>
<line x1="453.90" y1="655.87" x2="456.50" y2="655.87" stroke="#222" stroke-width="1.1" />
<text x="452.90" y="658.71" font-size="7.9" text-anchor="end" stroke="#000" stroke-width="0.18" >10</text>
<line x1="453.90" y1="633.00" x2="456.50" y2="633.00" stroke="#222" stroke-width="1.1" />
<text x="452.90" y="635.85" font-size="7.9" text-anchor="end" stroke="#000" stroke-width="0.18" >15</text>
<line x1="455.95" y1="701.50" x2="498.00" y2="701.50" stroke="#222" stroke-width="1.1" />
<rect x="462.40" y="647.18" width="12.00" height="54.42" fill="#a3a3a3" />
<circle cx="468.40" cy="638.49" r="1.1" fill="#000"/>
<circle cx="468.40" cy="642.15" r="1.1" fill="#000"/>
<circle cx="472.03" cy="644.44" r="1.1" fill="#000"/>
<circle cx="468.40" cy="646.72" r="1.1" fill="#000"/>
<circle cx="468.40" cy="651.30" r="1.1" fill="#000"/>
<circle cx="468.40" cy="655.87" r="1.1" fill="#000"/>
<circle cx="470.21" cy="659.07" r="1.1" fill="#000"/>
<line x1="468.40" y1="643.98" x2="468.40" y2="650.38" stroke="#000" stroke-width="0.8" />
<line x1="465.80" y1="643.98" x2="471.00" y2="643.98" stroke="#000" stroke-width="0.8" />
<line x1="465.80" y1="650.38" x2="471.00" y2="650.38" stroke="#000" stroke-width="0.8" />
<line x1="465.80" y1="647.18" x2="471.00" y2="647.18" stroke="#000" stroke-width="0.8" />
<rect x="480.40" y="685.14" width="11.60" height="16.46" fill="#1a8cf0" />
<circle cx="486.20" cy="668.22" r="1.1" fill="#000"/>
<circle cx="486.20" cy="681.02" r="1.1" fill="#000"/>
<circle cx="489.83" cy="683.31" r="1.1" fill="#000"/>
<circle cx="486.20" cy="685.59" r="1.1" fill="#000"/>
<circle cx="489.83" cy="687.88" r="1.1" fill="#000"/>
<circle cx="486.20" cy="690.17" r="1.1" fill="#000"/>
<circle cx="488.01" cy="693.37" r="1.1" fill="#000"/>
<line x1="486.20" y1="681.48" x2="486.20" y2="688.80" stroke="#000" stroke-width="0.8" />
<line x1="483.60" y1="681.48" x2="488.80" y2="681.48" stroke="#000" stroke-width="0.8" />
<line x1="483.60" y1="688.80" x2="488.80" y2="688.80" stroke="#000" stroke-width="0.8" />
<line x1="483.60" y1="685.14" x2="488.80" y2="685.14" stroke="#000" stroke-width="0.8" />
<line x1="469.00" y1="635.50" x2="486.40" y2="635.50" stroke="#222" stroke-width="1.05" />
<text x="477.00" y="631.00" font-size="6.6" text-anchor="middle" stroke="#000" stroke-width="0.18" >p &lt; 0.0001</text>
<text transform="translate(441.14,666.00) rotate(-90)" font-size="7.6" text-anchor="middle" stroke="#000" stroke-width="0.18" >BCL6 (% of CD4)</text>
<line x1="545.50" y1="632.40" x2="545.50" y2="701.60" stroke="#222" stroke-width="1.1" />
<line x1="542.90" y1="701.60" x2="545.50" y2="701.60" stroke="#222" stroke-width="1.1" />
<text x="541.90" y="704.44" font-size="7.9" text-anchor="end" stroke="#000" stroke-width="0.18" >0</text>
<line x1="542.90" y1="687.76" x2="545.50" y2="687.76" stroke="#222" stroke-width="1.1" />
<text x="541.90" y="690.60" font-size="7.9" text-anchor="end" stroke="#000" stroke-width="0.18" >10</text>
<line x1="542.90" y1="673.92" x2="545.50" y2="673.92" stroke="#222" stroke-width="1.1" />
<text x="541.90" y="676.76" font-size="7.9" text-anchor="end" stroke="#000" stroke-width="0.18" >20</text>
<line x1="542.90" y1="660.08" x2="545.50" y2="660.08" stroke="#222" stroke-width="1.1" />
<text x="541.90" y="662.92" font-size="7.9" text-anchor="end" stroke="#000" stroke-width="0.18" >30</text>
<line x1="542.90" y1="646.24" x2="545.50" y2="646.24" stroke="#222" stroke-width="1.1" />
<text x="541.90" y="649.08" font-size="7.9" text-anchor="end" stroke="#000" stroke-width="0.18" >40</text>
<line x1="542.90" y1="632.40" x2="545.50" y2="632.40" stroke="#222" stroke-width="1.1" />
<text x="541.90" y="635.24" font-size="7.9" text-anchor="end" stroke="#000" stroke-width="0.18" >50</text>
<line x1="544.95" y1="701.50" x2="587.00" y2="701.50" stroke="#222" stroke-width="1.1" />
<rect x="551.60" y="664.23" width="12.00" height="37.37" fill="#a3a3a3" />
<circle cx="557.60" cy="646.93" r="1.1" fill="#000"/>
<circle cx="557.60" cy="658.70" r="1.1" fill="#000"/>
<circle cx="559.42" cy="661.46" r="1.1" fill="#000"/>
<circle cx="557.60" cy="664.23" r="1.1" fill="#000"/>
<circle cx="559.42" cy="667.00" r="1.1" fill="#000"/>
<circle cx="557.60" cy="669.77" r="1.1" fill="#000"/>
<circle cx="557.60" cy="681.53" r="1.1" fill="#000"/>
<line x1="557.60" y1="659.39" x2="557.60" y2="669.08" stroke="#000" stroke-width="0.8" />
<line x1="555.00" y1="659.39" x2="560.20" y2="659.39" stroke="#000" stroke-width="0.8" />
<line x1="555.00" y1="669.08" x2="560.20" y2="669.08" stroke="#000" stroke-width="0.8" />
<line x1="555.00" y1="664.23" x2="560.20" y2="664.23" stroke="#000" stroke-width="0.8" />
<rect x="569.60" y="682.22" width="12.00" height="19.38" fill="#1a8cf0" />
<circle cx="575.60" cy="674.61" r="1.1" fill="#000"/>
<circle cx="575.60" cy="679.46" r="1.1" fill="#000"/>
<circle cx="579.23" cy="681.53" r="1.1" fill="#000"/>
<circle cx="575.60" cy="682.92" r="1.1" fill="#000"/>
<circle cx="571.97" cy="683.61" r="1.1" fill="#000"/>
<circle cx="579.23" cy="684.99" r="1.1" fill="#000"/>
<circle cx="575.60" cy="687.76" r="1.1" fill="#000"/>
<line x1="575.60" y1="680.15" x2="575.60" y2="684.30" stroke="#000" stroke-width="0.8" />
<line x1="573.00" y1="680.15" x2="578.20" y2="680.15" stroke="#000" stroke-width="0.8" />
<line x1="573.00" y1="684.30" x2="578.20" y2="684.30" stroke="#000" stroke-width="0.8" />
<line x1="573.00" y1="682.22" x2="578.20" y2="682.22" stroke="#000" stroke-width="0.8" />
<line x1="557.60" y1="638.50" x2="576.00" y2="638.50" stroke="#222" stroke-width="1.05" />
<text x="566.40" y="635.00" font-size="6.6" text-anchor="middle" stroke="#000" stroke-width="0.18" >p = 0.0046</text>
<text transform="translate(530.34,666.00) rotate(-90)" font-size="7.6" text-anchor="middle" stroke="#000" stroke-width="0.18" >IgG anti-dsDNA (μg/ml)</text>
<line x1="635.50" y1="633.00" x2="635.50" y2="702.00" stroke="#222" stroke-width="1.1" />
<line x1="632.90" y1="702.00" x2="635.50" y2="702.00" stroke="#222" stroke-width="1.1" />
<text x="631.90" y="704.84" font-size="7.9" text-anchor="end" stroke="#000" stroke-width="0.18" >0</text>
<line x1="632.90" y1="679.00" x2="635.50" y2="679.00" stroke="#222" stroke-width="1.1" />
<text x="631.90" y="681.84" font-size="7.9" text-anchor="end" stroke="#000" stroke-width="0.18" >500</text>
<line x1="632.90" y1="656.00" x2="635.50" y2="656.00" stroke="#222" stroke-width="1.1" />
<text x="631.90" y="658.84" font-size="7.9" text-anchor="end" stroke="#000" stroke-width="0.18" >1000</text>
<line x1="632.90" y1="633.00" x2="635.50" y2="633.00" stroke="#222" stroke-width="1.1" />
<text x="631.90" y="635.84" font-size="7.9" text-anchor="end" stroke="#000" stroke-width="0.18" >1500</text>
<line x1="634.95" y1="702.50" x2="678.00" y2="702.50" stroke="#222" stroke-width="1.1" />
<rect x="642.70" y="652.55" width="11.60" height="49.45" fill="#a3a3a3" />
<circle cx="648.50" cy="636.68" r="1.1" fill="#000"/>
<circle cx="648.50" cy="644.50" r="1.1" fill="#000"/>
<circle cx="648.50" cy="651.40" r="1.1" fill="#000"/>
<circle cx="652.13" cy="653.70" r="1.1" fill="#000"/>
<circle cx="648.50" cy="656.00" r="1.1" fill="#000"/>
<circle cx="648.50" cy="660.60" r="1.1" fill="#000"/>
<circle cx="650.32" cy="663.82" r="1.1" fill="#000"/>
<line x1="648.50" y1="648.41" x2="648.50" y2="656.69" stroke="#000" stroke-width="0.8" />
<line x1="645.90" y1="648.41" x2="651.10" y2="648.41" stroke="#000" stroke-width="0.8" />
<line x1="645.90" y1="656.69" x2="651.10" y2="656.69" stroke="#000" stroke-width="0.8" />
<line x1="645.90" y1="652.55" x2="651.10" y2="652.55" stroke="#000" stroke-width="0.8" />
<rect x="660.50" y="677.85" width="11.50" height="24.15" fill="#1a8cf0" />
<circle cx="666.25" cy="668.88" r="1.1" fill="#000"/>
<circle cx="669.88" cy="669.80" r="1.1" fill="#000"/>
<circle cx="666.25" cy="673.48" r="1.1" fill="#000"/>
<circle cx="668.07" cy="676.24" r="1.1" fill="#000"/>
<circle cx="666.25" cy="679.92" r="1.1" fill="#000"/>
<circle cx="666.25" cy="684.52" r="1.1" fill="#000"/>
<circle cx="666.25" cy="689.12" r="1.1" fill="#000"/>
<line x1="666.25" y1="674.63" x2="666.25" y2="681.07" stroke="#000" stroke-width="0.8" />
<line x1="663.65" y1="674.63" x2="668.85" y2="674.63" stroke="#000" stroke-width="0.8" />
<line x1="663.65" y1="681.07" x2="668.85" y2="681.07" stroke="#000" stroke-width="0.8" />
<line x1="663.65" y1="677.85" x2="668.85" y2="677.85" stroke="#000" stroke-width="0.8" />
<line x1="648.00" y1="633.50" x2="666.60" y2="633.50" stroke="#222" stroke-width="1.05" />
<text x="657.00" y="629.70" font-size="6.6" text-anchor="middle" stroke="#000" stroke-width="0.18" >p = 0.0003</text>
<text transform="translate(612.74,666.00) rotate(-90)" font-size="7.6" text-anchor="middle" stroke="#000" stroke-width="0.18" >Urine protein (μg/ml)</text>
<text x="1.00" y="749.00" font-size="13" text-anchor="start" font-weight="bold" >w</text>
<rect x="88.00" y="741.60" width="6.00" height="5.40" fill="#d9d49c" />
<text x="97.00" y="747.00" font-size="7.6" text-anchor="start" stroke="#000" stroke-width="0.18" >Vehicle</text>
<rect x="133.00" y="741.60" width="6.00" height="5.40" fill="#bfe6bf" />
<text x="142.00" y="747.00" font-size="7.6" text-anchor="start" stroke="#000" stroke-width="0.18" >L-Lac</text>
<rect x="171.60" y="741.60" width="6.00" height="5.40" fill="#14a075" />
<text x="181.00" y="747.00" font-size="7.6" text-anchor="start" stroke="#000" stroke-width="0.18" >LacNa</text>
<line x1="48.50" y1="767.40" x2="48.50" y2="838.00" stroke="#222" stroke-width="1.1" />
<line x1="45.90" y1="838.00" x2="48.50" y2="838.00" stroke="#222" stroke-width="1.1" />
<text x="44.90" y="840.84" font-size="7.9" text-anchor="end" stroke="#000" stroke-width="0.18" >0</text>
<line x1="45.90" y1="823.88" x2="48.50" y2="823.88" stroke="#222" stroke-width="1.1" />
<text x="44.90" y="826.72" font-size="7.9" text-anchor="end" stroke="#000" stroke-width="0.18" >5</text>
<line x1="45.90" y1="809.76" x2="48.50" y2="809.76" stroke="#222" stroke-width="1.1" />
<text x="44.90" y="812.60" font-size="7.9" text-anchor="end" stroke="#000" stroke-width="0.18" >10</text>
<line x1="45.90" y1="795.64" x2="48.50" y2="795.64" stroke="#222" stroke-width="1.1" />
<text x="44.90" y="798.48" font-size="7.9" text-anchor="end" stroke="#000" stroke-width="0.18" >15</text>
<line x1="45.90" y1="781.52" x2="48.50" y2="781.52" stroke="#222" stroke-width="1.1" />
<text x="44.90" y="784.36" font-size="7.9" text-anchor="end" stroke="#000" stroke-width="0.18" >20</text>
<line x1="45.90" y1="767.40" x2="48.50" y2="767.40" stroke="#222" stroke-width="1.1" />
<text x="44.90" y="770.24" font-size="7.9" text-anchor="end" stroke="#000" stroke-width="0.18" >25</text>
<line x1="47.95" y1="838.50" x2="89.60" y2="838.50" stroke="#222" stroke-width="1.1" />
<rect x="51.00" y="825.01" width="9.00" height="12.99" fill="#d9d49c" />
<circle cx="55.50" cy="815.41" r="1.1" fill="#a39c12"/>
<circle cx="56.25" cy="815.97" r="1.1" fill="#a39c12"/>
<circle cx="52.33" cy="816.82" r="1.1" fill="#a39c12"/>
<circle cx="55.70" cy="818.23" r="1.1" fill="#a39c12"/>
<circle cx="53.69" cy="821.06" r="1.1" fill="#a39c12"/>
<circle cx="55.50" cy="823.88" r="1.1" fill="#a39c12"/>
<circle cx="57.31" cy="826.70" r="1.1" fill="#a39c12"/>
<circle cx="55.50" cy="829.53" r="1.1" fill="#a39c12"/>
<circle cx="55.50" cy="833.76" r="1.1" fill="#a39c12"/>
<circle cx="52.82" cy="835.18" r="1.1" fill="#a39c12"/>
<line x1="55.50" y1="822.19" x2="55.50" y2="827.83" stroke="#a39c12" stroke-width="0.8" />
<line x1="52.90" y1="822.19" x2="58.10" y2="822.19" stroke="#a39c12" stroke-width="0.8" />
<line x1="52.90" y1="827.83" x2="58.10" y2="827.83" stroke="#a39c12" stroke-width="0.8" />
<line x1="52.90" y1="825.01" x2="58.10" y2="825.01" stroke="#a39c12" stroke-width="0.8" />
<rect x="64.00" y="800.44" width="9.00" height="37.56" fill="#bfe6bf" />
<circle cx="68.50" cy="781.52" r="1.1" fill="#139040"/>
<circle cx="68.50" cy="789.99" r="1.1" fill="#139040"/>
<circle cx="67.27" cy="791.40" r="1.1" fill="#139040"/>
<circle cx="68.50" cy="795.64" r="1.1" fill="#139040"/>
<circle cx="70.75" cy="797.05" r="1.1" fill="#139040"/>
<circle cx="66.69" cy="798.46" r="1.1" fill="#139040"/>
<circle cx="68.50" cy="801.29" r="1.1" fill="#139040"/>
<circle cx="70.31" cy="804.11" r="1.1" fill="#139040"/>
<circle cx="68.50" cy="816.82" r="1.1" fill="#139040"/>
<circle cx="70.31" cy="819.64" r="1.1" fill="#139040"/>
<line x1="68.50" y1="796.20" x2="68.50" y2="804.68" stroke="#139040" stroke-width="0.8" />
<line x1="65.90" y1="796.20" x2="71.10" y2="796.20" stroke="#139040" stroke-width="0.8" />
<line x1="65.90" y1="804.68" x2="71.10" y2="804.68" stroke="#139040" stroke-width="0.8" />
<line x1="65.90" y1="800.44" x2="71.10" y2="800.44" stroke="#139040" stroke-width="0.8" />
<rect x="77.00" y="802.42" width="9.00" height="35.58" fill="#14a075" />
<circle cx="81.50" cy="789.99" r="1.1" fill="#0a6a40"/>
<circle cx="81.50" cy="794.23" r="1.1" fill="#0a6a40"/>
<circle cx="79.63" cy="795.64" r="1.1" fill="#0a6a40"/>
<circle cx="81.50" cy="798.46" r="1.1" fill="#0a6a40"/>
<circle cx="83.31" cy="801.29" r="1.1" fill="#0a6a40"/>
<circle cx="79.69" cy="802.70" r="1.1" fill="#0a6a40"/>
<circle cx="79.46" cy="804.11" r="1.1" fill="#0a6a40"/>
<circle cx="81.50" cy="806.94" r="1.1" fill="#0a6a40"/>
<circle cx="81.50" cy="816.82" r="1.1" fill="#0a6a40"/>
<line x1="81.50" y1="799.59" x2="81.50" y2="805.24" stroke="#0a6a40" stroke-width="0.8" />
<line x1="78.90" y1="799.59" x2="84.10" y2="799.59" stroke="#0a6a40" stroke-width="0.8" />
<line x1="78.90" y1="805.24" x2="84.10" y2="805.24" stroke="#0a6a40" stroke-width="0.8" />
<line x1="78.90" y1="802.42" x2="84.10" y2="802.42" stroke="#0a6a40" stroke-width="0.8" />
<line x1="55.60" y1="764.50" x2="69.00" y2="764.50" stroke="#222" stroke-width="1.05" />
<text x="61.50" y="761.00" font-size="6.6" text-anchor="middle" stroke="#000" stroke-width="0.18" >p &lt; 0.0001</text>
<line x1="55.60" y1="778.50" x2="82.00" y2="778.50" stroke="#222" stroke-width="1.05" />
<text x="68.20" y="774.40" font-size="6.6" text-anchor="middle" stroke="#000" stroke-width="0.18" >p &lt; 0.0001</text>
<text transform="translate(31.34,801.00) rotate(-90)" font-size="7.6" text-anchor="middle" stroke="#000" stroke-width="0.18" >BCL6 (% CD4)</text>
<line x1="131.50" y1="769.60" x2="131.50" y2="838.40" stroke="#222" stroke-width="1.1" />
<line x1="128.90" y1="838.40" x2="131.50" y2="838.40" stroke="#222" stroke-width="1.1" />
<text x="127.90" y="841.24" font-size="7.9" text-anchor="end" stroke="#000" stroke-width="0.18" >0</text>
<line x1="128.90" y1="815.47" x2="131.50" y2="815.47" stroke="#222" stroke-width="1.1" />
<text x="127.90" y="818.31" font-size="7.9" text-anchor="end" stroke="#000" stroke-width="0.18" >5</text>
<line x1="128.90" y1="792.53" x2="131.50" y2="792.53" stroke="#222" stroke-width="1.1" />
<text x="127.90" y="795.37" font-size="7.9" text-anchor="end" stroke="#000" stroke-width="0.18" >10</text>
<line x1="128.90" y1="769.60" x2="131.50" y2="769.60" stroke="#222" stroke-width="1.1" />
<text x="127.90" y="772.44" font-size="7.9" text-anchor="end" stroke="#000" stroke-width="0.18" >15</text>
<line x1="130.95" y1="838.50" x2="172.00" y2="838.50" stroke="#222" stroke-width="1.1" />
<rect x="135.00" y="812.71" width="8.60" height="25.69" fill="#d9d49c" />
<circle cx="139.30" cy="799.41" r="1.1" fill="#a39c12"/>
<circle cx="138.06" cy="800.33" r="1.1" fill="#a39c12"/>
<circle cx="139.30" cy="804.00" r="1.1" fill="#a39c12"/>
<circle cx="137.32" cy="806.29" r="1.1" fill="#a39c12"/>
<circle cx="141.12" cy="808.58" r="1.1" fill="#a39c12"/>
<circle cx="139.30" cy="815.47" r="1.1" fill="#a39c12"/>
<circle cx="139.30" cy="820.05" r="1.1" fill="#a39c12"/>
<circle cx="136.25" cy="822.35" r="1.1" fill="#a39c12"/>
<circle cx="139.30" cy="824.64" r="1.1" fill="#a39c12"/>
<line x1="139.30" y1="809.04" x2="139.30" y2="816.38" stroke="#a39c12" stroke-width="0.8" />
<line x1="136.70" y1="809.04" x2="141.90" y2="809.04" stroke="#a39c12" stroke-width="0.8" />
<line x1="136.70" y1="816.38" x2="141.90" y2="816.38" stroke="#a39c12" stroke-width="0.8" />
<line x1="136.70" y1="812.71" x2="141.90" y2="812.71" stroke="#a39c12" stroke-width="0.8" />
<rect x="147.60" y="787.03" width="8.80" height="51.37" fill="#bfe6bf" />
<circle cx="152.00" cy="776.48" r="1.1" fill="#139040"/>
<circle cx="152.00" cy="783.36" r="1.1" fill="#139040"/>
<circle cx="149.89" cy="785.65" r="1.1" fill="#139040"/>
<circle cx="153.81" cy="787.03" r="1.1" fill="#139040"/>
<circle cx="151.24" cy="787.94" r="1.1" fill="#139040"/>
<circle cx="154.59" cy="788.86" r="1.1" fill="#139040"/>
<circle cx="152.09" cy="790.24" r="1.1" fill="#139040"/>
<circle cx="148.94" cy="792.53" r="1.1" fill="#139040"/>
<circle cx="152.00" cy="804.00" r="1.1" fill="#139040"/>
<line x1="152.00" y1="784.73" x2="152.00" y2="789.32" stroke="#139040" stroke-width="0.8" />
<line x1="149.40" y1="784.73" x2="154.60" y2="784.73" stroke="#139040" stroke-width="0.8" />
<line x1="149.40" y1="789.32" x2="154.60" y2="789.32" stroke="#139040" stroke-width="0.8" />
<line x1="149.40" y1="787.03" x2="154.60" y2="787.03" stroke="#139040" stroke-width="0.8" />
<rect x="160.00" y="788.40" width="8.60" height="50.00" fill="#14a075" />
<circle cx="164.30" cy="778.77" r="1.1" fill="#0a6a40"/>
<circle cx="163.21" cy="781.06" r="1.1" fill="#0a6a40"/>
<circle cx="166.12" cy="783.36" r="1.1" fill="#0a6a40"/>
<circle cx="162.49" cy="785.65" r="1.1" fill="#0a6a40"/>
<circle cx="166.12" cy="787.94" r="1.1" fill="#0a6a40"/>
<circle cx="162.49" cy="790.24" r="1.1" fill="#0a6a40"/>
<circle cx="166.12" cy="792.53" r="1.1" fill="#0a6a40"/>
<circle cx="164.30" cy="797.12" r="1.1" fill="#0a6a40"/>
<circle cx="164.30" cy="808.58" r="1.1" fill="#0a6a40"/>
<line x1="164.30" y1="785.65" x2="164.30" y2="791.15" stroke="#0a6a40" stroke-width="0.8" />
<line x1="161.70" y1="785.65" x2="166.90" y2="785.65" stroke="#0a6a40" stroke-width="0.8" />
<line x1="161.70" y1="791.15" x2="166.90" y2="791.15" stroke="#0a6a40" stroke-width="0.8" />
<line x1="161.70" y1="788.40" x2="166.90" y2="788.40" stroke="#0a6a40" stroke-width="0.8" />
<line x1="139.00" y1="762.50" x2="151.60" y2="762.50" stroke="#222" stroke-width="1.05" />
<text x="145.50" y="759.00" font-size="6.6" text-anchor="middle" stroke="#000" stroke-width="0.18" >p = 0.0003</text>
<line x1="139.00" y1="774.50" x2="164.00" y2="774.50" stroke="#222" stroke-width="1.05" />
<text x="151.50" y="770.40" font-size="6.6" text-anchor="middle" stroke="#000" stroke-width="0.18" >p = 0.0046</text>
<text transform="translate(115.74,800.00) rotate(-90)" font-size="7.6" text-anchor="middle" stroke="#000" stroke-width="0.18" >CXCR5<tspan font-size="4.6" dy="-2.6">hi</tspan><tspan dy="2.6">PD-1</tspan><tspan font-size="4.6" dy="-2.6">hi</tspan><tspan dy="2.6"> (% CD4)</tspan></text>
<line x1="214.50" y1="768.60" x2="214.50" y2="837.60" stroke="#222" stroke-width="1.1" />
<line x1="211.90" y1="837.60" x2="214.50" y2="837.60" stroke="#222" stroke-width="1.1" />
<text x="210.90" y="840.44" font-size="7.9" text-anchor="end" stroke="#000" stroke-width="0.18" >0</text>
<line x1="211.90" y1="814.60" x2="214.50" y2="814.60" stroke="#222" stroke-width="1.1" />
<text x="210.90" y="817.44" font-size="7.9" text-anchor="end" stroke="#000" stroke-width="0.18" >5</text>
<line x1="211.90" y1="791.60" x2="214.50" y2="791.60" stroke="#222" stroke-width="1.1" />
<text x="210.90" y="794.44" font-size="7.9" text-anchor="end" stroke="#000" stroke-width="0.18" >10</text>
<line x1="211.90" y1="768.60" x2="214.50" y2="768.60" stroke="#222" stroke-width="1.1" />
<text x="210.90" y="771.44" font-size="7.9" text-anchor="end" stroke="#000" stroke-width="0.18" >15</text>
<line x1="213.95" y1="837.50" x2="255.60" y2="837.50" stroke="#222" stroke-width="1.1" />
<rect x="218.00" y="822.42" width="8.60" height="15.18" fill="#d9d49c" />
<circle cx="222.30" cy="813.22" r="1.1" fill="#a39c12"/>
<circle cx="222.30" cy="816.90" r="1.1" fill="#a39c12"/>
<circle cx="224.93" cy="819.20" r="1.1" fill="#a39c12"/>
<circle cx="222.30" cy="821.50" r="1.1" fill="#a39c12"/>
<circle cx="224.37" cy="822.88" r="1.1" fill="#a39c12"/>
<circle cx="221.59" cy="823.80" r="1.1" fill="#a39c12"/>
<circle cx="221.99" cy="824.72" r="1.1" fill="#a39c12"/>
<circle cx="221.05" cy="826.10" r="1.1" fill="#a39c12"/>
<circle cx="224.12" cy="827.48" r="1.1" fill="#a39c12"/>
<line x1="222.30" y1="820.58" x2="222.30" y2="824.26" stroke="#a39c12" stroke-width="0.8" />
<line x1="219.70" y1="820.58" x2="224.90" y2="820.58" stroke="#a39c12" stroke-width="0.8" />
<line x1="219.70" y1="824.26" x2="224.90" y2="824.26" stroke="#a39c12" stroke-width="0.8" />
<line x1="219.70" y1="822.42" x2="224.90" y2="822.42" stroke="#a39c12" stroke-width="0.8" />
<rect x="230.60" y="797.58" width="8.40" height="40.02" fill="#bfe6bf" />
<circle cx="234.80" cy="780.56" r="1.1" fill="#139040"/>
<circle cx="234.80" cy="791.60" r="1.1" fill="#139040"/>
<circle cx="234.84" cy="792.52" r="1.1" fill="#139040"/>
<circle cx="232.44" cy="793.90" r="1.1" fill="#139040"/>
<circle cx="236.62" cy="796.20" r="1.1" fill="#139040"/>
<circle cx="232.99" cy="798.50" r="1.1" fill="#139040"/>
<circle cx="234.80" cy="805.40" r="1.1" fill="#139040"/>
<circle cx="234.80" cy="810.00" r="1.1" fill="#139040"/>
<circle cx="237.41" cy="812.30" r="1.1" fill="#139040"/>
<line x1="234.80" y1="793.90" x2="234.80" y2="801.26" stroke="#139040" stroke-width="0.8" />
<line x1="232.20" y1="793.90" x2="237.40" y2="793.90" stroke="#139040" stroke-width="0.8" />
<line x1="232.20" y1="801.26" x2="237.40" y2="801.26" stroke="#139040" stroke-width="0.8" />
<line x1="232.20" y1="797.58" x2="237.40" y2="797.58" stroke="#139040" stroke-width="0.8" />
<rect x="243.00" y="795.28" width="8.60" height="42.32" fill="#14a075" />
<circle cx="247.30" cy="780.56" r="1.1" fill="#0a6a40"/>
<circle cx="247.30" cy="787.00" r="1.1" fill="#0a6a40"/>
<circle cx="247.30" cy="791.60" r="1.1" fill="#0a6a40"/>
<circle cx="247.17" cy="792.52" r="1.1" fill="#0a6a40"/>
<circle cx="248.25" cy="793.90" r="1.1" fill="#0a6a40"/>
<circle cx="245.49" cy="796.20" r="1.1" fill="#0a6a40"/>
<circle cx="249.12" cy="798.50" r="1.1" fill="#0a6a40"/>
<circle cx="245.49" cy="800.80" r="1.1" fill="#0a6a40"/>
<circle cx="247.30" cy="805.40" r="1.1" fill="#0a6a40"/>
<line x1="247.30" y1="792.98" x2="247.30" y2="797.58" stroke="#0a6a40" stroke-width="0.8" />
<line x1="244.70" y1="792.98" x2="249.90" y2="792.98" stroke="#0a6a40" stroke-width="0.8" />
<line x1="244.70" y1="797.58" x2="249.90" y2="797.58" stroke="#0a6a40" stroke-width="0.8" />
<line x1="244.70" y1="795.28" x2="249.90" y2="795.28" stroke="#0a6a40" stroke-width="0.8" />
<line x1="222.00" y1="766.50" x2="235.00" y2="766.50" stroke="#222" stroke-width="1.05" />
<text x="228.80" y="763.00" font-size="6.6" text-anchor="middle" stroke="#000" stroke-width="0.18" >p = 0.0003</text>
<line x1="222.00" y1="778.50" x2="247.60" y2="778.50" stroke="#222" stroke-width="1.05" />
<text x="234.80" y="774.60" font-size="6.6" text-anchor="middle" stroke="#000" stroke-width="0.18" >p &lt; 0.0001</text>
<text transform="translate(198.34,802.00) rotate(-90)" font-size="7.6" text-anchor="middle" stroke="#000" stroke-width="0.18" >IL-21 (% CD4)</text>
<text x="274.00" y="749.00" font-size="13" text-anchor="start" font-weight="bold" >x</text>
<text x="348.00" y="754.00" font-size="7.6" text-anchor="middle" stroke="#000" stroke-width="0.18" font-style="italic" >BCL6</text>
<line x1="325.50" y1="769.40" x2="325.50" y2="838.00" stroke="#222" stroke-width="1.1" />
<line x1="322.90" y1="838.00" x2="325.50" y2="838.00" stroke="#222" stroke-width="1.1" />
<text x="321.90" y="840.84" font-size="7.9" text-anchor="end" stroke="#000" stroke-width="0.18" >0.0</text>
<line x1="322.90" y1="820.85" x2="325.50" y2="820.85" stroke="#222" stroke-width="1.1" />
<text x="321.90" y="823.69" font-size="7.9" text-anchor="end" stroke="#000" stroke-width="0.18" >0.2</text>
<line x1="322.90" y1="803.70" x2="325.50" y2="803.70" stroke="#222" stroke-width="1.1" />
<text x="321.90" y="806.54" font-size="7.9" text-anchor="end" stroke="#000" stroke-width="0.18" >0.4</text>
<line x1="322.90" y1="786.55" x2="325.50" y2="786.55" stroke="#222" stroke-width="1.1" />
<text x="321.90" y="789.39" font-size="7.9" text-anchor="end" stroke="#000" stroke-width="0.18" >0.6</text>
<line x1="322.90" y1="769.40" x2="325.50" y2="769.40" stroke="#222" stroke-width="1.1" />
<text x="321.90" y="772.24" font-size="7.9" text-anchor="end" stroke="#000" stroke-width="0.18" >0.8</text>
<line x1="324.95" y1="838.50" x2="369.00" y2="838.50" stroke="#222" stroke-width="1.1" />
<rect x="331.00" y="806.27" width="9.00" height="31.73" fill="#d9d49c" />
<circle cx="335.50" cy="788.26" r="1.1" fill="#a39c12"/>
<circle cx="333.38" cy="788.26" r="1.1" fill="#a39c12"/>
<circle cx="335.50" cy="796.84" r="1.1" fill="#a39c12"/>
<circle cx="335.50" cy="805.41" r="1.1" fill="#a39c12"/>
<circle cx="334.19" cy="807.99" r="1.1" fill="#a39c12"/>
<circle cx="335.50" cy="812.27" r="1.1" fill="#a39c12"/>
<circle cx="333.76" cy="813.99" r="1.1" fill="#a39c12"/>
<circle cx="337.31" cy="816.56" r="1.1" fill="#a39c12"/>
<circle cx="333.69" cy="817.42" r="1.1" fill="#a39c12"/>
<line x1="335.50" y1="801.99" x2="335.50" y2="810.56" stroke="#a39c12" stroke-width="0.8" />
<line x1="332.90" y1="801.99" x2="338.10" y2="801.99" stroke="#a39c12" stroke-width="0.8" />
<line x1="332.90" y1="810.56" x2="338.10" y2="810.56" stroke="#a39c12" stroke-width="0.8" />
<line x1="332.90" y1="806.27" x2="338.10" y2="806.27" stroke="#a39c12" stroke-width="0.8" />
<rect x="343.60" y="807.99" width="8.80" height="30.01" fill="#bfe6bf" />
<circle cx="348.00" cy="799.41" r="1.1" fill="#139040"/>
<circle cx="345.39" cy="801.99" r="1.1" fill="#139040"/>
<circle cx="349.81" cy="803.70" r="1.1" fill="#139040"/>
<circle cx="346.19" cy="805.41" r="1.1" fill="#139040"/>
<circle cx="349.81" cy="807.99" r="1.1" fill="#139040"/>
<circle cx="346.19" cy="809.70" r="1.1" fill="#139040"/>
<circle cx="349.81" cy="812.27" r="1.1" fill="#139040"/>
<circle cx="346.19" cy="813.99" r="1.1" fill="#139040"/>
<circle cx="347.74" cy="814.85" r="1.1" fill="#139040"/>
<line x1="348.00" y1="806.27" x2="348.00" y2="809.70" stroke="#139040" stroke-width="0.8" />
<line x1="345.40" y1="806.27" x2="350.60" y2="806.27" stroke="#139040" stroke-width="0.8" />
<line x1="345.40" y1="809.70" x2="350.60" y2="809.70" stroke="#139040" stroke-width="0.8" />
<line x1="345.40" y1="807.99" x2="350.60" y2="807.99" stroke="#139040" stroke-width="0.8" />
<rect x="356.00" y="804.56" width="9.00" height="33.44" fill="#14a075" />
<circle cx="360.50" cy="794.27" r="1.1" fill="#0a6a40"/>
<circle cx="360.50" cy="801.99" r="1.1" fill="#0a6a40"/>
<circle cx="358.13" cy="803.70" r="1.1" fill="#0a6a40"/>
<circle cx="359.38" cy="804.56" r="1.1" fill="#0a6a40"/>
<circle cx="360.98" cy="805.41" r="1.1" fill="#0a6a40"/>
<circle cx="359.23" cy="806.27" r="1.1" fill="#0a6a40"/>
<circle cx="359.73" cy="807.99" r="1.1" fill="#0a6a40"/>
<circle cx="359.38" cy="809.70" r="1.1" fill="#0a6a40"/>
<circle cx="362.31" cy="811.42" r="1.1" fill="#0a6a40"/>
<line x1="360.50" y1="802.84" x2="360.50" y2="806.27" stroke="#0a6a40" stroke-width="0.8" />
<line x1="357.90" y1="802.84" x2="363.10" y2="802.84" stroke="#0a6a40" stroke-width="0.8" />
<line x1="357.90" y1="806.27" x2="363.10" y2="806.27" stroke="#0a6a40" stroke-width="0.8" />
<line x1="357.90" y1="804.56" x2="363.10" y2="804.56" stroke="#0a6a40" stroke-width="0.8" />
<line x1="335.00" y1="769.50" x2="348.00" y2="769.50" stroke="#222" stroke-width="1.05" />
<text x="341.50" y="766.40" font-size="6.6" text-anchor="middle" stroke="#000" stroke-width="0.18" >p = 0.7574</text>
<line x1="335.00" y1="781.50" x2="361.00" y2="781.50" stroke="#222" stroke-width="1.05" />
<text x="347.80" y="777.60" font-size="6.6" text-anchor="middle" stroke="#000" stroke-width="0.18" >p = 0.9729</text>
<rect x="371.60" y="769.00" width="6.00" height="4.80" fill="#d9d49c" />
<text x="380.00" y="774.00" font-size="7.6" text-anchor="start" stroke="#000" stroke-width="0.18" >Vehicle</text>
<rect x="371.60" y="780.00" width="6.00" height="4.80" fill="#bfe6bf" />
<text x="380.00" y="785.00" font-size="7.6" text-anchor="start" stroke="#000" stroke-width="0.18" >L-Lac</text>
<rect x="371.60" y="791.00" width="6.00" height="4.80" fill="#14a075" />
<text x="380.00" y="796.00" font-size="7.6" text-anchor="start" stroke="#000" stroke-width="0.18" >LacNa</text>
<text transform="translate(309.74,803.00) rotate(-90)" font-size="7.6" text-anchor="middle" stroke="#000" stroke-width="0.18" >Rel. exp.</text>
<text x="431.00" y="749.00" font-size="13" text-anchor="start" font-weight="bold" >y</text>
<text transform="translate(484.88,793.00) rotate(-90)" font-size="8.0" text-anchor="start" stroke="#000" stroke-width="0.18" >Vehicle</text>
<text transform="translate(508.48,793.00) rotate(-90)" font-size="8.0" text-anchor="start" stroke="#000" stroke-width="0.18" >L-Lac</text>
<text transform="translate(533.28,793.00) rotate(-90)" font-size="8.0" text-anchor="start" stroke="#000" stroke-width="0.18" >LacNa</text>
<text x="545.00" y="793.60" font-size="6.8" text-anchor="start" stroke="#000" stroke-width="0.18" >kDa</text>
<rect x="470.80" y="797.30" width="71.20" height="17.50" fill="#e4e4e4" />
<defs><linearGradient id="vg13" x1="0" y1="0" x2="0" y2="1"><stop offset="0" stop-color="#e0e0e0"/><stop offset="0.5" stop-color="#d6d6d6"/><stop offset="1" stop-color="#dcdcdc"/></linearGradient></defs>
<rect x="470.80" y="797.30" width="21.00" height="17.50" fill="url(#vg13)" />
<defs><linearGradient id="vg14" x1="0" y1="0" x2="0" y2="1"><stop offset="0" stop-color="#dcdcdc"/><stop offset="0.5" stop-color="#c8c8c8"/><stop offset="1" stop-color="#d6d6d6"/></linearGradient></defs>
<rect x="495.00" y="797.30" width="22.00" height="17.50" fill="url(#vg14)" />
<defs><linearGradient id="vg15" x1="0" y1="0" x2="0" y2="1"><stop offset="0" stop-color="#d8d8d8"/><stop offset="0.5" stop-color="#c0c0c0"/><stop offset="1" stop-color="#d0d0d0"/></linearGradient></defs>
<rect x="520.00" y="797.30" width="22.00" height="17.50" fill="url(#vg15)" />
<rect x="472.60" y="804.00" width="17.50" height="3.60" rx="1.80" fill="#6a6a6a" filter="url(#bl1)"/>
<rect x="497.10" y="804.00" width="16.90" height="4.60" rx="2.30" fill="#121212" filter="url(#bl1)"/>
<rect x="521.60" y="802.90" width="18.10" height="6.20" rx="3.00" fill="#030303" filter="url(#bl1)"/>
<text x="465.00" y="809.00" font-size="8.0" text-anchor="end" stroke="#000" stroke-width="0.18" >BCL6</text>
<text x="545.00" y="813.60" font-size="6.8" text-anchor="start" stroke="#000" stroke-width="0.18" >70</text>
<defs><linearGradient id="vg16" x1="0" y1="0" x2="0" y2="1"><stop offset="0" stop-color="#f0f0f0"/><stop offset="0.5" stop-color="#e8e8e8"/><stop offset="1" stop-color="#eeeeee"/></linearGradient></defs>
<rect x="470.80" y="818.30" width="71.20" height="18.10" fill="url(#vg16)" />
<rect x="471.40" y="824.80" width="18.60" height="5.60" rx="2.80" fill="#030303" filter="url(#bl1)"/>
<rect x="494.20" y="824.80" width="22.20" height="5.60" rx="2.80" fill="#030303" filter="url(#bl1)"/>
<rect x="519.30" y="824.90" width="20.40" height="5.40" rx="2.70" fill="#030303" filter="url(#bl1)"/>
<text x="465.00" y="830.00" font-size="8.0" text-anchor="end" stroke="#000" stroke-width="0.18" >β-actin</text>
<text x="545.00" y="835.00" font-size="6.8" text-anchor="start" stroke="#000" stroke-width="0.18" >40</text>
<line x1="597.50" y1="769.40" x2="597.50" y2="838.00" stroke="#222" stroke-width="1.1" />
<line x1="594.90" y1="838.00" x2="597.50" y2="838.00" stroke="#222" stroke-width="1.1" />
<text x="593.90" y="840.84" font-size="7.9" text-anchor="end" stroke="#000" stroke-width="0.18" >0.0</text>
<line x1="594.90" y1="820.85" x2="597.50" y2="820.85" stroke="#222" stroke-width="1.1" />
<text x="593.90" y="823.69" font-size="7.9" text-anchor="end" stroke="#000" stroke-width="0.18" >0.5</text>
<line x1="594.90" y1="803.70" x2="597.50" y2="803.70" stroke="#222" stroke-width="1.1" />
<text x="593.90" y="806.54" font-size="7.9" text-anchor="end" stroke="#000" stroke-width="0.18" >1.0</text>
<line x1="594.90" y1="786.55" x2="597.50" y2="786.55" stroke="#222" stroke-width="1.1" />
<text x="593.90" y="789.39" font-size="7.9" text-anchor="end" stroke="#000" stroke-width="0.18" >1.5</text>
<line x1="594.90" y1="769.40" x2="597.50" y2="769.40" stroke="#222" stroke-width="1.1" />
<text x="593.90" y="772.24" font-size="7.9" text-anchor="end" stroke="#000" stroke-width="0.18" >2.0</text>
<line x1="596.95" y1="838.50" x2="639.00" y2="838.50" stroke="#222" stroke-width="1.1" />
<rect x="601.60" y="818.11" width="8.40" height="19.89" fill="#d9d49c" />
<circle cx="605.80" cy="804.73" r="1.1" fill="#a39c12"/>
<circle cx="608.54" cy="804.73" r="1.1" fill="#a39c12"/>
<circle cx="605.80" cy="817.42" r="1.1" fill="#a39c12"/>
<circle cx="603.92" cy="819.13" r="1.1" fill="#a39c12"/>
<circle cx="607.62" cy="820.85" r="1.1" fill="#a39c12"/>
<circle cx="603.98" cy="822.57" r="1.1" fill="#a39c12"/>
<circle cx="605.80" cy="826.00" r="1.1" fill="#a39c12"/>
<line x1="605.80" y1="813.99" x2="605.80" y2="822.22" stroke="#a39c12" stroke-width="0.8" />
<line x1="603.20" y1="813.99" x2="608.40" y2="813.99" stroke="#a39c12" stroke-width="0.8" />
<line x1="603.20" y1="822.22" x2="608.40" y2="822.22" stroke="#a39c12" stroke-width="0.8" />
<line x1="603.20" y1="818.11" x2="608.40" y2="818.11" stroke="#a39c12" stroke-width="0.8" />
<rect x="614.00" y="802.33" width="8.40" height="35.67" fill="#bfe6bf" />
<circle cx="618.20" cy="785.86" r="1.1" fill="#139040"/>
<circle cx="618.20" cy="793.41" r="1.1" fill="#139040"/>
<circle cx="618.20" cy="800.27" r="1.1" fill="#139040"/>
<circle cx="618.69" cy="801.99" r="1.1" fill="#139040"/>
<circle cx="619.36" cy="803.70" r="1.1" fill="#139040"/>
<circle cx="618.20" cy="808.85" r="1.1" fill="#139040"/>
<circle cx="618.20" cy="815.71" r="1.1" fill="#139040"/>
<line x1="618.20" y1="798.90" x2="618.20" y2="805.76" stroke="#139040" stroke-width="0.8" />
<line x1="615.60" y1="798.90" x2="620.80" y2="798.90" stroke="#139040" stroke-width="0.8" />
<line x1="615.60" y1="805.76" x2="620.80" y2="805.76" stroke="#139040" stroke-width="0.8" />
<line x1="615.60" y1="802.33" x2="620.80" y2="802.33" stroke="#139040" stroke-width="0.8" />
<rect x="626.60" y="797.87" width="8.40" height="40.13" fill="#14a075" />
<circle cx="630.80" cy="776.26" r="1.1" fill="#0a6a40"/>
<circle cx="630.80" cy="793.41" r="1.1" fill="#0a6a40"/>
<circle cx="632.50" cy="795.12" r="1.1" fill="#0a6a40"/>
<circle cx="630.80" cy="798.56" r="1.1" fill="#0a6a40"/>
<circle cx="628.91" cy="800.27" r="1.1" fill="#0a6a40"/>
<circle cx="630.80" cy="803.70" r="1.1" fill="#0a6a40"/>
<circle cx="630.80" cy="808.85" r="1.1" fill="#0a6a40"/>
<line x1="630.80" y1="793.41" x2="630.80" y2="802.33" stroke="#0a6a40" stroke-width="0.8" />
<line x1="628.20" y1="793.41" x2="633.40" y2="793.41" stroke="#0a6a40" stroke-width="0.8" />
<line x1="628.20" y1="802.33" x2="633.40" y2="802.33" stroke="#0a6a40" stroke-width="0.8" />
<line x1="628.20" y1="797.87" x2="633.40" y2="797.87" stroke="#0a6a40" stroke-width="0.8" />
<line x1="605.60" y1="761.50" x2="618.40" y2="761.50" stroke="#222" stroke-width="1.05" />
<text x="612.00" y="758.00" font-size="6.6" text-anchor="middle" stroke="#000" stroke-width="0.18" >p = 0.0055</text>
<line x1="605.60" y1="773.50" x2="631.00" y2="773.50" stroke="#222" stroke-width="1.05" />
<text x="618.50" y="770.00" font-size="6.6" text-anchor="middle" stroke="#000" stroke-width="0.18" >p = 0.0008</text>
<rect x="645.40" y="757.40" width="5.60" height="4.60" fill="#d9d49c" />
<text x="654.00" y="762.00" font-size="7.6" text-anchor="start" stroke="#000" stroke-width="0.18" >Vehicle</text>
<rect x="645.40" y="768.60" width="5.60" height="4.60" fill="#bfe6bf" />
<text x="654.00" y="773.00" font-size="7.6" text-anchor="start" stroke="#000" stroke-width="0.18" >L-Lac</text>
<rect x="645.40" y="779.60" width="5.60" height="4.60" fill="#14a075" />
<text x="654.00" y="784.00" font-size="7.6" text-anchor="start" stroke="#000" stroke-width="0.18" >LacNa</text>
<text transform="translate(579.74,803.00) rotate(-90)" font-size="7.6" text-anchor="middle" stroke="#000" stroke-width="0.18" >BCL6 / β-actin</text>
</svg></body></html>
